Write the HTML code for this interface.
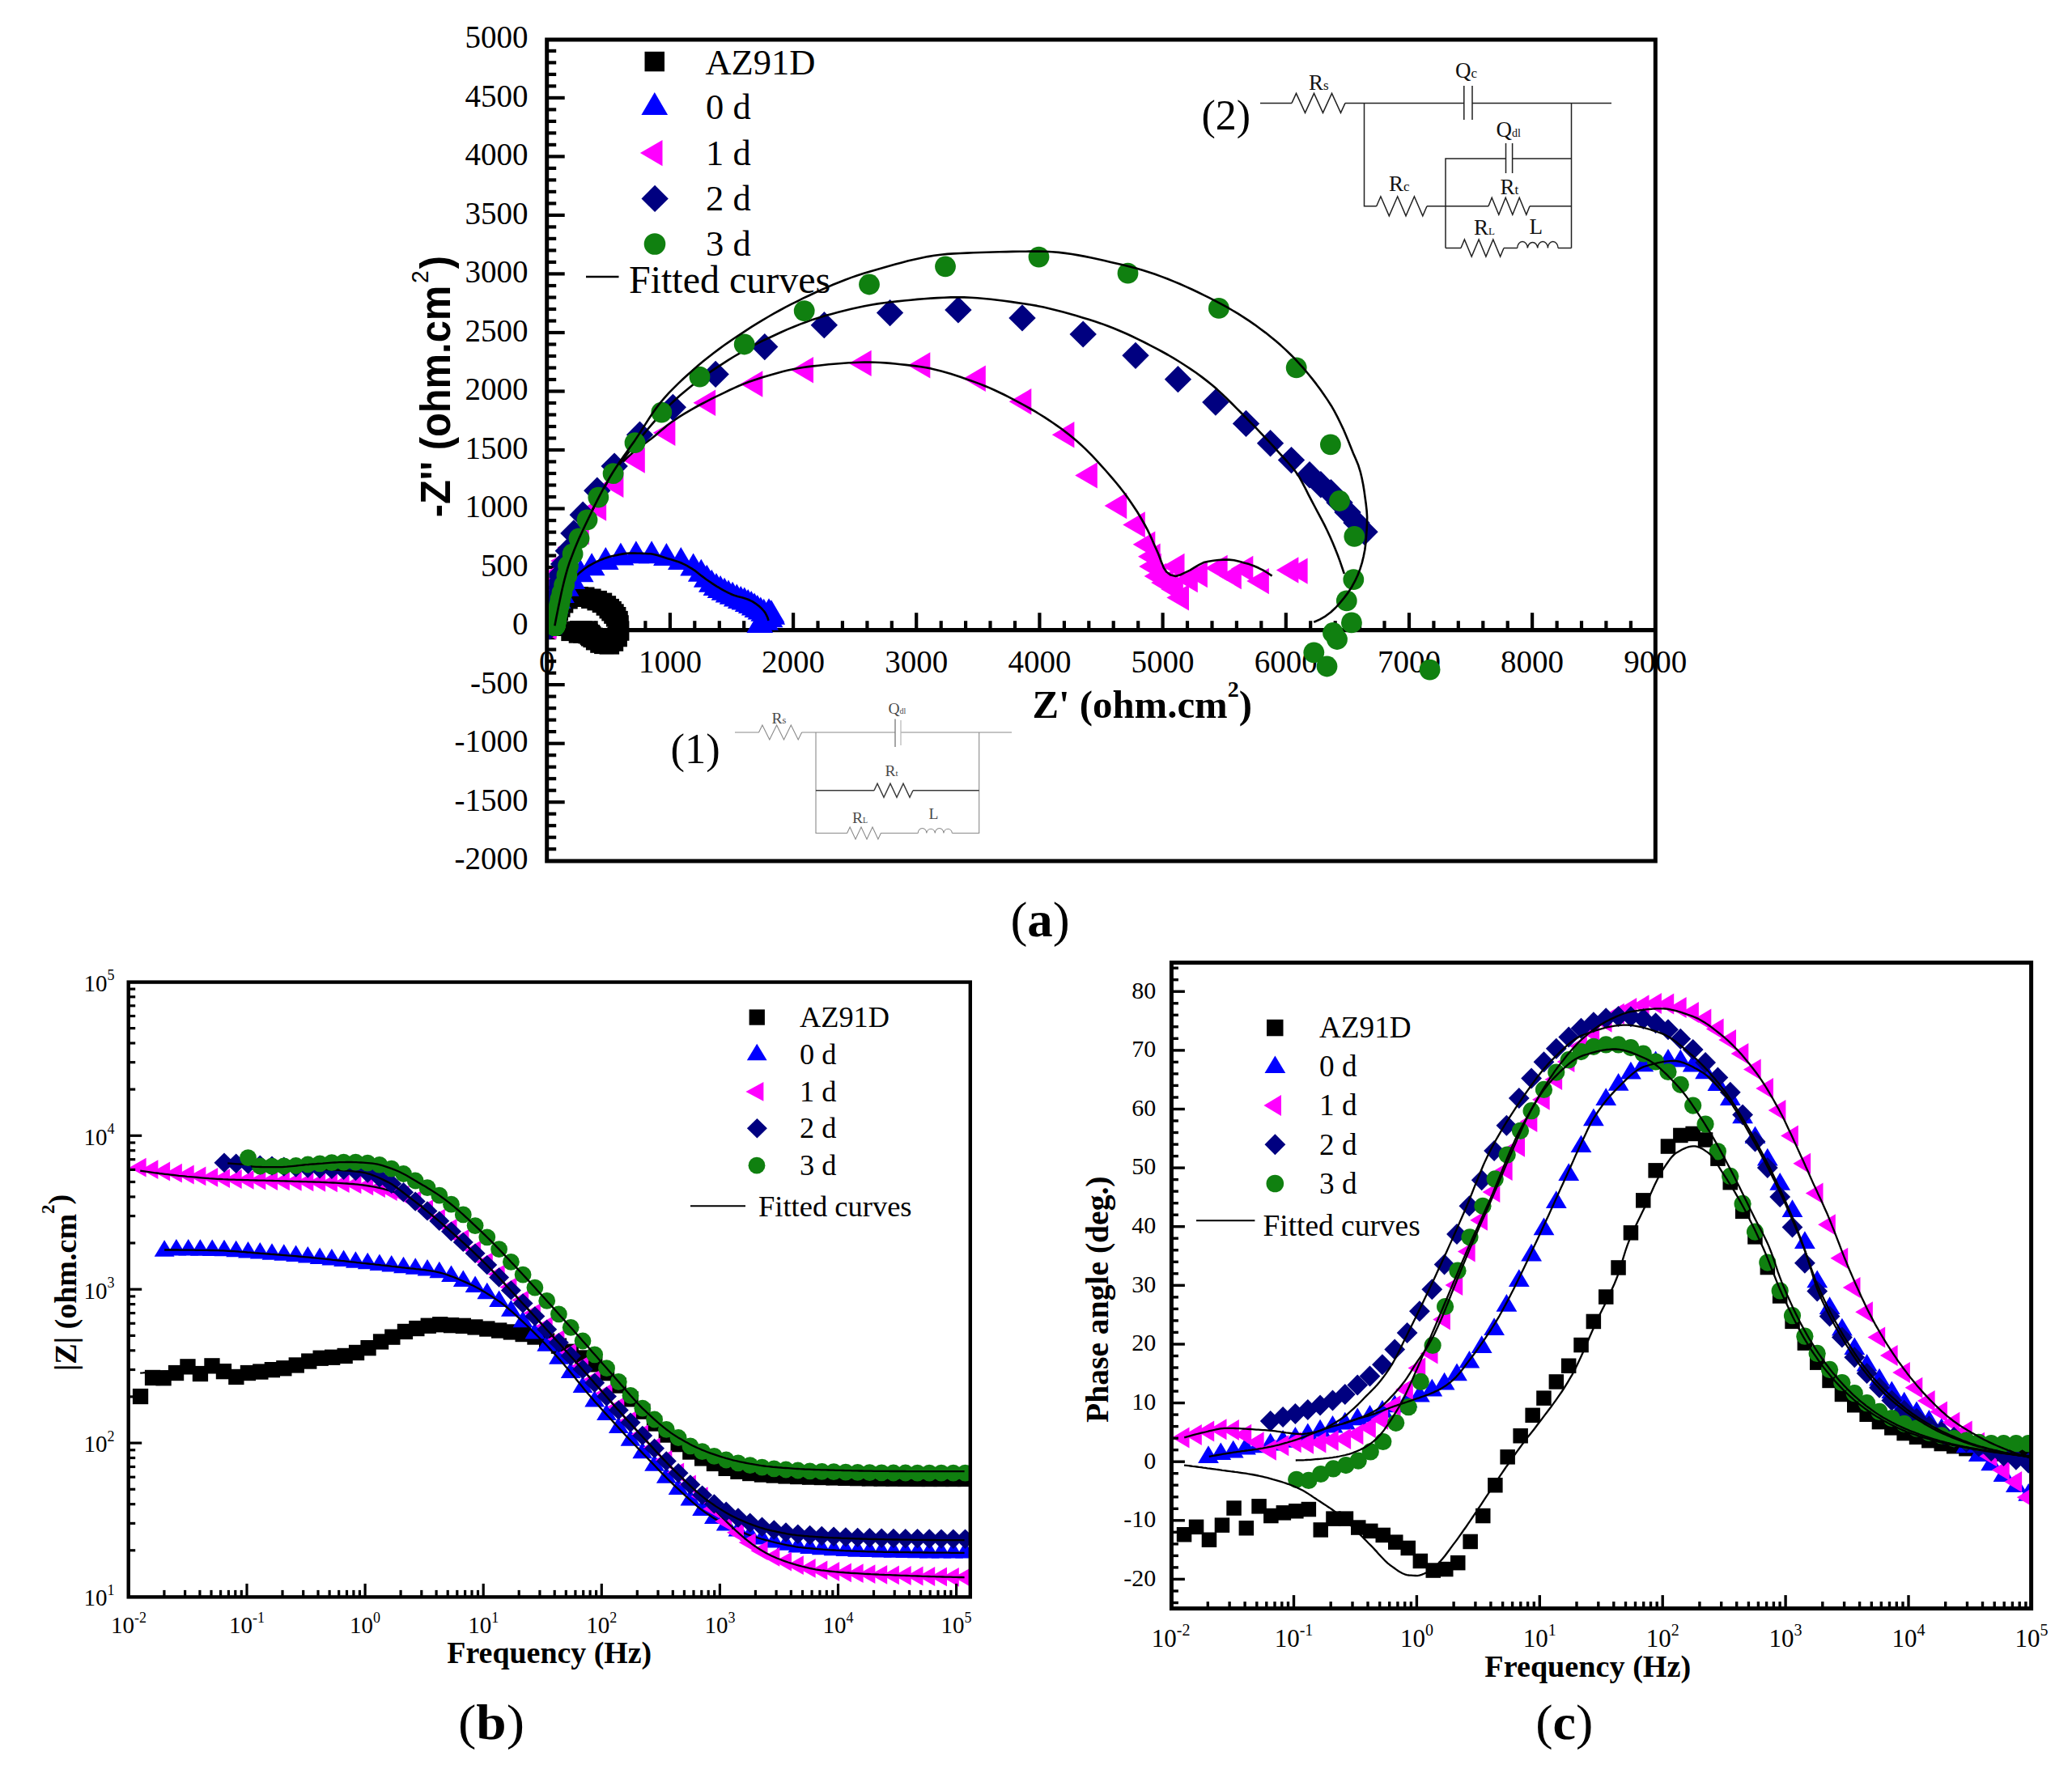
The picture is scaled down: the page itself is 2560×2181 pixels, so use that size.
<!DOCTYPE html><html><head><meta charset="utf-8"><title>EIS figure</title>
<style>html,body{margin:0;padding:0;background:#fff}svg{display:block}</style></head><body>
<svg width="2560" height="2181" viewBox="0 0 2560 2181">
<rect width="2560" height="2181" fill="#fff"/>
<g id="plotA">
<rect x="675.7" y="49" width="1369.6" height="1015" fill="none" stroke="#000" stroke-width="5"/>
<line x1="675.7" y1="778.7" x2="2045.3" y2="778.7" stroke="#000" stroke-width="5.2" />
<line x1="675.7" y1="1049.2" x2="687.2" y2="1049.2" stroke="#000" stroke-width="4.2" />
<line x1="675.7" y1="1034.7" x2="687.2" y2="1034.7" stroke="#000" stroke-width="4.2" />
<line x1="675.7" y1="1020.2" x2="687.2" y2="1020.2" stroke="#000" stroke-width="4.2" />
<line x1="675.7" y1="1005.7" x2="687.2" y2="1005.7" stroke="#000" stroke-width="4.2" />
<line x1="675.7" y1="991.2" x2="697.7" y2="991.2" stroke="#000" stroke-width="4.2" />
<line x1="675.7" y1="976.7" x2="687.2" y2="976.7" stroke="#000" stroke-width="4.2" />
<line x1="675.7" y1="962.2" x2="687.2" y2="962.2" stroke="#000" stroke-width="4.2" />
<line x1="675.7" y1="947.7" x2="687.2" y2="947.7" stroke="#000" stroke-width="4.2" />
<line x1="675.7" y1="933.2" x2="687.2" y2="933.2" stroke="#000" stroke-width="4.2" />
<line x1="675.7" y1="918.7" x2="697.7" y2="918.7" stroke="#000" stroke-width="4.2" />
<line x1="675.7" y1="904.1" x2="687.2" y2="904.1" stroke="#000" stroke-width="4.2" />
<line x1="675.7" y1="889.6" x2="687.2" y2="889.6" stroke="#000" stroke-width="4.2" />
<line x1="675.7" y1="875.1" x2="687.2" y2="875.1" stroke="#000" stroke-width="4.2" />
<line x1="675.7" y1="860.6" x2="687.2" y2="860.6" stroke="#000" stroke-width="4.2" />
<line x1="675.7" y1="846.1" x2="697.7" y2="846.1" stroke="#000" stroke-width="4.2" />
<line x1="675.7" y1="831.6" x2="687.2" y2="831.6" stroke="#000" stroke-width="4.2" />
<line x1="675.7" y1="817.1" x2="687.2" y2="817.1" stroke="#000" stroke-width="4.2" />
<line x1="675.7" y1="802.6" x2="687.2" y2="802.6" stroke="#000" stroke-width="4.2" />
<line x1="675.7" y1="788.1" x2="687.2" y2="788.1" stroke="#000" stroke-width="4.2" />
<line x1="675.7" y1="773.6" x2="697.7" y2="773.6" stroke="#000" stroke-width="4.2" />
<line x1="675.7" y1="759.1" x2="687.2" y2="759.1" stroke="#000" stroke-width="4.2" />
<line x1="675.7" y1="744.6" x2="687.2" y2="744.6" stroke="#000" stroke-width="4.2" />
<line x1="675.7" y1="730.1" x2="687.2" y2="730.1" stroke="#000" stroke-width="4.2" />
<line x1="675.7" y1="715.6" x2="687.2" y2="715.6" stroke="#000" stroke-width="4.2" />
<line x1="675.7" y1="701.1" x2="697.7" y2="701.1" stroke="#000" stroke-width="4.2" />
<line x1="675.7" y1="686.6" x2="687.2" y2="686.6" stroke="#000" stroke-width="4.2" />
<line x1="675.7" y1="672.1" x2="687.2" y2="672.1" stroke="#000" stroke-width="4.2" />
<line x1="675.7" y1="657.6" x2="687.2" y2="657.6" stroke="#000" stroke-width="4.2" />
<line x1="675.7" y1="643.1" x2="687.2" y2="643.1" stroke="#000" stroke-width="4.2" />
<line x1="675.7" y1="628.5" x2="697.7" y2="628.5" stroke="#000" stroke-width="4.2" />
<line x1="675.7" y1="614" x2="687.2" y2="614" stroke="#000" stroke-width="4.2" />
<line x1="675.7" y1="599.5" x2="687.2" y2="599.5" stroke="#000" stroke-width="4.2" />
<line x1="675.7" y1="585" x2="687.2" y2="585" stroke="#000" stroke-width="4.2" />
<line x1="675.7" y1="570.5" x2="687.2" y2="570.5" stroke="#000" stroke-width="4.2" />
<line x1="675.7" y1="556" x2="697.7" y2="556" stroke="#000" stroke-width="4.2" />
<line x1="675.7" y1="541.5" x2="687.2" y2="541.5" stroke="#000" stroke-width="4.2" />
<line x1="675.7" y1="527" x2="687.2" y2="527" stroke="#000" stroke-width="4.2" />
<line x1="675.7" y1="512.5" x2="687.2" y2="512.5" stroke="#000" stroke-width="4.2" />
<line x1="675.7" y1="498" x2="687.2" y2="498" stroke="#000" stroke-width="4.2" />
<line x1="675.7" y1="483.5" x2="697.7" y2="483.5" stroke="#000" stroke-width="4.2" />
<line x1="675.7" y1="469" x2="687.2" y2="469" stroke="#000" stroke-width="4.2" />
<line x1="675.7" y1="454.5" x2="687.2" y2="454.5" stroke="#000" stroke-width="4.2" />
<line x1="675.7" y1="440" x2="687.2" y2="440" stroke="#000" stroke-width="4.2" />
<line x1="675.7" y1="425.5" x2="687.2" y2="425.5" stroke="#000" stroke-width="4.2" />
<line x1="675.7" y1="411" x2="697.7" y2="411" stroke="#000" stroke-width="4.2" />
<line x1="675.7" y1="396.5" x2="687.2" y2="396.5" stroke="#000" stroke-width="4.2" />
<line x1="675.7" y1="382" x2="687.2" y2="382" stroke="#000" stroke-width="4.2" />
<line x1="675.7" y1="367.5" x2="687.2" y2="367.5" stroke="#000" stroke-width="4.2" />
<line x1="675.7" y1="353" x2="687.2" y2="353" stroke="#000" stroke-width="4.2" />
<line x1="675.7" y1="338.4" x2="697.7" y2="338.4" stroke="#000" stroke-width="4.2" />
<line x1="675.7" y1="323.9" x2="687.2" y2="323.9" stroke="#000" stroke-width="4.2" />
<line x1="675.7" y1="309.4" x2="687.2" y2="309.4" stroke="#000" stroke-width="4.2" />
<line x1="675.7" y1="294.9" x2="687.2" y2="294.9" stroke="#000" stroke-width="4.2" />
<line x1="675.7" y1="280.4" x2="687.2" y2="280.4" stroke="#000" stroke-width="4.2" />
<line x1="675.7" y1="265.9" x2="697.7" y2="265.9" stroke="#000" stroke-width="4.2" />
<line x1="675.7" y1="251.4" x2="687.2" y2="251.4" stroke="#000" stroke-width="4.2" />
<line x1="675.7" y1="236.9" x2="687.2" y2="236.9" stroke="#000" stroke-width="4.2" />
<line x1="675.7" y1="222.4" x2="687.2" y2="222.4" stroke="#000" stroke-width="4.2" />
<line x1="675.7" y1="207.9" x2="687.2" y2="207.9" stroke="#000" stroke-width="4.2" />
<line x1="675.7" y1="193.4" x2="697.7" y2="193.4" stroke="#000" stroke-width="4.2" />
<line x1="675.7" y1="178.9" x2="687.2" y2="178.9" stroke="#000" stroke-width="4.2" />
<line x1="675.7" y1="164.4" x2="687.2" y2="164.4" stroke="#000" stroke-width="4.2" />
<line x1="675.7" y1="149.9" x2="687.2" y2="149.9" stroke="#000" stroke-width="4.2" />
<line x1="675.7" y1="135.4" x2="687.2" y2="135.4" stroke="#000" stroke-width="4.2" />
<line x1="675.7" y1="120.9" x2="697.7" y2="120.9" stroke="#000" stroke-width="4.2" />
<line x1="675.7" y1="106.4" x2="687.2" y2="106.4" stroke="#000" stroke-width="4.2" />
<line x1="675.7" y1="91.9" x2="687.2" y2="91.9" stroke="#000" stroke-width="4.2" />
<line x1="675.7" y1="77.4" x2="687.2" y2="77.4" stroke="#000" stroke-width="4.2" />
<line x1="675.7" y1="62.9" x2="687.2" y2="62.9" stroke="#000" stroke-width="4.2" />
<line x1="706.1" y1="778.7" x2="706.1" y2="767.2" stroke="#000" stroke-width="4.2" />
<line x1="736.6" y1="778.7" x2="736.6" y2="767.2" stroke="#000" stroke-width="4.2" />
<line x1="767" y1="778.7" x2="767" y2="767.2" stroke="#000" stroke-width="4.2" />
<line x1="797.4" y1="778.7" x2="797.4" y2="767.2" stroke="#000" stroke-width="4.2" />
<line x1="827.9" y1="778.7" x2="827.9" y2="757.2" stroke="#000" stroke-width="4.2" />
<line x1="858.3" y1="778.7" x2="858.3" y2="767.2" stroke="#000" stroke-width="4.2" />
<line x1="888.8" y1="778.7" x2="888.8" y2="767.2" stroke="#000" stroke-width="4.2" />
<line x1="919.2" y1="778.7" x2="919.2" y2="767.2" stroke="#000" stroke-width="4.2" />
<line x1="949.6" y1="778.7" x2="949.6" y2="767.2" stroke="#000" stroke-width="4.2" />
<line x1="980.1" y1="778.7" x2="980.1" y2="757.2" stroke="#000" stroke-width="4.2" />
<line x1="1010.5" y1="778.7" x2="1010.5" y2="767.2" stroke="#000" stroke-width="4.2" />
<line x1="1040.9" y1="778.7" x2="1040.9" y2="767.2" stroke="#000" stroke-width="4.2" />
<line x1="1071.4" y1="778.7" x2="1071.4" y2="767.2" stroke="#000" stroke-width="4.2" />
<line x1="1101.8" y1="778.7" x2="1101.8" y2="767.2" stroke="#000" stroke-width="4.2" />
<line x1="1132.2" y1="778.7" x2="1132.2" y2="757.2" stroke="#000" stroke-width="4.2" />
<line x1="1162.7" y1="778.7" x2="1162.7" y2="767.2" stroke="#000" stroke-width="4.2" />
<line x1="1193.1" y1="778.7" x2="1193.1" y2="767.2" stroke="#000" stroke-width="4.2" />
<line x1="1223.5" y1="778.7" x2="1223.5" y2="767.2" stroke="#000" stroke-width="4.2" />
<line x1="1254" y1="778.7" x2="1254" y2="767.2" stroke="#000" stroke-width="4.2" />
<line x1="1284.4" y1="778.7" x2="1284.4" y2="757.2" stroke="#000" stroke-width="4.2" />
<line x1="1314.9" y1="778.7" x2="1314.9" y2="767.2" stroke="#000" stroke-width="4.2" />
<line x1="1345.3" y1="778.7" x2="1345.3" y2="767.2" stroke="#000" stroke-width="4.2" />
<line x1="1375.7" y1="778.7" x2="1375.7" y2="767.2" stroke="#000" stroke-width="4.2" />
<line x1="1406.2" y1="778.7" x2="1406.2" y2="767.2" stroke="#000" stroke-width="4.2" />
<line x1="1436.6" y1="778.7" x2="1436.6" y2="757.2" stroke="#000" stroke-width="4.2" />
<line x1="1467" y1="778.7" x2="1467" y2="767.2" stroke="#000" stroke-width="4.2" />
<line x1="1497.5" y1="778.7" x2="1497.5" y2="767.2" stroke="#000" stroke-width="4.2" />
<line x1="1527.9" y1="778.7" x2="1527.9" y2="767.2" stroke="#000" stroke-width="4.2" />
<line x1="1558.3" y1="778.7" x2="1558.3" y2="767.2" stroke="#000" stroke-width="4.2" />
<line x1="1588.8" y1="778.7" x2="1588.8" y2="757.2" stroke="#000" stroke-width="4.2" />
<line x1="1619.2" y1="778.7" x2="1619.2" y2="767.2" stroke="#000" stroke-width="4.2" />
<line x1="1649.7" y1="778.7" x2="1649.7" y2="767.2" stroke="#000" stroke-width="4.2" />
<line x1="1680.1" y1="778.7" x2="1680.1" y2="767.2" stroke="#000" stroke-width="4.2" />
<line x1="1710.5" y1="778.7" x2="1710.5" y2="767.2" stroke="#000" stroke-width="4.2" />
<line x1="1741" y1="778.7" x2="1741" y2="757.2" stroke="#000" stroke-width="4.2" />
<line x1="1771.4" y1="778.7" x2="1771.4" y2="767.2" stroke="#000" stroke-width="4.2" />
<line x1="1801.8" y1="778.7" x2="1801.8" y2="767.2" stroke="#000" stroke-width="4.2" />
<line x1="1832.3" y1="778.7" x2="1832.3" y2="767.2" stroke="#000" stroke-width="4.2" />
<line x1="1862.7" y1="778.7" x2="1862.7" y2="767.2" stroke="#000" stroke-width="4.2" />
<line x1="1893.1" y1="778.7" x2="1893.1" y2="757.2" stroke="#000" stroke-width="4.2" />
<line x1="1923.6" y1="778.7" x2="1923.6" y2="767.2" stroke="#000" stroke-width="4.2" />
<line x1="1954" y1="778.7" x2="1954" y2="767.2" stroke="#000" stroke-width="4.2" />
<line x1="1984.4" y1="778.7" x2="1984.4" y2="767.2" stroke="#000" stroke-width="4.2" />
<line x1="2014.9" y1="778.7" x2="2014.9" y2="767.2" stroke="#000" stroke-width="4.2" />
<text x="652.5" y="1074.4" font-size="39" text-anchor="end" font-weight="normal" font-family="Liberation Serif, serif" >-2000</text>
<text x="652.5" y="1001.9" font-size="39" text-anchor="end" font-weight="normal" font-family="Liberation Serif, serif" >-1500</text>
<text x="652.5" y="929.4" font-size="39" text-anchor="end" font-weight="normal" font-family="Liberation Serif, serif" >-1000</text>
<text x="652.5" y="856.8" font-size="39" text-anchor="end" font-weight="normal" font-family="Liberation Serif, serif" >-500</text>
<text x="652.5" y="784.3" font-size="39" text-anchor="end" font-weight="normal" font-family="Liberation Serif, serif" >0</text>
<text x="652.5" y="711.8" font-size="39" text-anchor="end" font-weight="normal" font-family="Liberation Serif, serif" >500</text>
<text x="652.5" y="639.2" font-size="39" text-anchor="end" font-weight="normal" font-family="Liberation Serif, serif" >1000</text>
<text x="652.5" y="566.7" font-size="39" text-anchor="end" font-weight="normal" font-family="Liberation Serif, serif" >1500</text>
<text x="652.5" y="494.2" font-size="39" text-anchor="end" font-weight="normal" font-family="Liberation Serif, serif" >2000</text>
<text x="652.5" y="421.7" font-size="39" text-anchor="end" font-weight="normal" font-family="Liberation Serif, serif" >2500</text>
<text x="652.5" y="349.1" font-size="39" text-anchor="end" font-weight="normal" font-family="Liberation Serif, serif" >3000</text>
<text x="652.5" y="276.6" font-size="39" text-anchor="end" font-weight="normal" font-family="Liberation Serif, serif" >3500</text>
<text x="652.5" y="204.1" font-size="39" text-anchor="end" font-weight="normal" font-family="Liberation Serif, serif" >4000</text>
<text x="652.5" y="131.6" font-size="39" text-anchor="end" font-weight="normal" font-family="Liberation Serif, serif" >4500</text>
<text x="652.5" y="59" font-size="39" text-anchor="end" font-weight="normal" font-family="Liberation Serif, serif" >5000</text>
<text x="675.7" y="831.2" font-size="39" text-anchor="middle" font-weight="normal" font-family="Liberation Serif, serif" >0</text>
<text x="827.9" y="831.2" font-size="39" text-anchor="middle" font-weight="normal" font-family="Liberation Serif, serif" >1000</text>
<text x="980.1" y="831.2" font-size="39" text-anchor="middle" font-weight="normal" font-family="Liberation Serif, serif" >2000</text>
<text x="1132.2" y="831.2" font-size="39" text-anchor="middle" font-weight="normal" font-family="Liberation Serif, serif" >3000</text>
<text x="1284.4" y="831.2" font-size="39" text-anchor="middle" font-weight="normal" font-family="Liberation Serif, serif" >4000</text>
<text x="1436.6" y="831.2" font-size="39" text-anchor="middle" font-weight="normal" font-family="Liberation Serif, serif" >5000</text>
<text x="1588.8" y="831.2" font-size="39" text-anchor="middle" font-weight="normal" font-family="Liberation Serif, serif" >6000</text>
<text x="1741" y="831.2" font-size="39" text-anchor="middle" font-weight="normal" font-family="Liberation Serif, serif" >7000</text>
<text x="1893.1" y="831.2" font-size="39" text-anchor="middle" font-weight="normal" font-family="Liberation Serif, serif" >8000</text>
<text x="2045.3" y="831.2" font-size="39" text-anchor="middle" font-weight="normal" font-family="Liberation Serif, serif" >9000</text>
<g transform="translate(555.6,639.3) rotate(-90) scale(0.94,1)"><text x="0" y="0" font-size="52" font-weight="bold" font-family="Liberation Sans, sans-serif">-Z'' (ohm.cm<tspan font-size="30" font-weight="normal" dx="3" dy="-27">2</tspan><tspan dy="27" dx="2">)</tspan></text></g>
<text x="1275.5" y="887.4" font-size="48.8" font-weight="bold" font-family="Liberation Serif, serif">Z' (ohm.cm<tspan font-size="28" dy="-26">2</tspan><tspan dy="26">)</tspan></text>
<path d="M908 905L937.5 905M937.5 905L941.9 896L950.8 914L959.6 896L968.5 914L977.3 896L986.2 914L990.6 905M990.6 905L1106 905M1113 905L1250 905M1008 905L1008 1029.5L1046.6 1029.5M1046.6 1029.5L1050.1 1022L1057 1037L1064 1022L1071 1037L1078 1022L1084.9 1037L1088.4 1029.5M1088.4 1029.5L1134.2 1029.5M1134.2 1029.5A5.3 6 0 0 1 1144.8 1029.5A5.3 6 0 0 1 1155.3 1029.5A5.3 6 0 0 1 1165.9 1029.5A5.3 6 0 0 1 1176.4 1029.5M1176.4 1029.5L1209.7 1029.5L1209.7 905" fill="none" stroke="#8a8a8a" stroke-width="1.1"/>
<path d="M1106 888.6L1106 923" fill="none" stroke="#777" stroke-width="1.3"/>
<path d="M1113 890L1113 921" fill="none" stroke="#bbb" stroke-width="1.3"/>
<path d="M1008 976.7L1080 976.7M1080 976.7L1084 968.2L1092 985.2L1100 968.2L1108 985.2L1116 968.2L1124 985.2L1128 976.7M1128 976.7L1209.7 976.7" fill="none" stroke="#3a3a3a" stroke-width="1.5"/>
<text x="828.5" y="942.9" font-size="52.5" text-anchor="start" font-weight="normal" font-family="Liberation Serif, serif" >(1)</text>
<text x="953.5" y="893.9" font-size="19.5" fill="#4a4a4a" font-family="Liberation Serif, serif">R<tspan font-size="12.5">s</tspan></text>
<text x="1097.5" y="882" font-size="19.5" fill="#4a4a4a" font-family="Liberation Serif, serif">Q<tspan font-size="10">dl</tspan></text>
<text x="1093.5" y="959" font-size="19.5" fill="#4a4a4a" font-family="Liberation Serif, serif">R<tspan font-size="11">t</tspan></text>
<text x="1053" y="1016.5" font-size="19.5" fill="#4a4a4a" font-family="Liberation Serif, serif">R<tspan font-size="10">L</tspan></text>
<text x="1147.5" y="1012" font-size="19.5" fill="#4a4a4a" font-family="Liberation Serif, serif">L<tspan font-size="12.5"></tspan></text>
<path d="M1557 127.4L1596 127.4M1596 127.4L1601.5 115.4L1612.5 139.4L1623.5 115.4L1634.5 139.4L1645.5 115.4L1656.5 139.4L1662 127.4M1662 127.4L1808.8 127.4M1819 127.4L1991 127.4M1808.8 106L1808.8 148M1819 106L1819 148M1685.5 127.4L1685.5 254.8L1700.7 254.8M1700.7 254.8L1705.9 242.8L1716.3 266.8L1726.7 242.8L1737 266.8L1747.4 242.8L1757.8 266.8L1763 254.8M1763 254.8L1839 254.8M1839 254.8L1843.2 244.3L1851.8 265.3L1860.2 244.3L1868.8 265.3L1877.2 244.3L1885.8 265.3L1890 254.8M1890 254.8L1941.5 254.8M1941.5 127.4L1941.5 306.5M1786 306.5L1786 196L1860.5 196M1868.6 196L1941.5 196M1860.5 177L1860.5 214M1868.6 177L1868.6 214M1786 306.5L1805 306.5M1805 306.5L1809.4 296L1818.2 317L1827.1 296L1835.9 317L1844.8 296L1853.6 317L1858 306.5M1858 306.5L1874.7 306.5M1874.7 306.5A6.3 8 0 0 1 1887.3 306.5A6.3 8 0 0 1 1899.8 306.5A6.3 8 0 0 1 1912.4 306.5A6.3 8 0 0 1 1925 306.5M1925 306.5L1941.5 306.5" fill="none" stroke="#222" stroke-width="1.5" stroke-linejoin="miter"/>
<text x="1484.5" y="159.5" font-size="52" text-anchor="start" font-weight="normal" font-family="Liberation Serif, serif" >(2)</text>
<text x="1617" y="110.5" font-size="27" fill="#111" font-family="Liberation Serif, serif">R<tspan font-size="17">s</tspan></text>
<text x="1798" y="96" font-size="27" fill="#111" font-family="Liberation Serif, serif">Q<tspan font-size="17">c</tspan></text>
<text x="1848.5" y="168.6" font-size="27" fill="#111" font-family="Liberation Serif, serif">Q<tspan font-size="14">dl</tspan></text>
<text x="1716" y="235.5" font-size="27" fill="#111" font-family="Liberation Serif, serif">R<tspan font-size="17">c</tspan></text>
<text x="1853.5" y="239.6" font-size="27" fill="#111" font-family="Liberation Serif, serif">R<tspan font-size="17">t</tspan></text>
<text x="1821" y="290" font-size="27" fill="#111" font-family="Liberation Serif, serif">R<tspan font-size="13">L</tspan></text>
<text x="1889.5" y="289" font-size="27" fill="#111" font-family="Liberation Serif, serif">L<tspan font-size="17"></tspan></text>
<clipPath id="clipA"><rect x="678.2" y="49" width="1364.6" height="1015"/></clipPath>
<g clip-path="url(#clipA)">
<rect x="672.3" y="761.2" width="24.5" height="24.5" fill="#000000"/>
<rect x="672.3" y="761.2" width="24.5" height="24.5" fill="#000000"/>
<rect x="672.3" y="761.2" width="24.5" height="24.5" fill="#000000"/>
<rect x="672.3" y="761.2" width="24.5" height="24.5" fill="#000000"/>
<rect x="672.3" y="761.1" width="24.5" height="24.5" fill="#000000"/>
<rect x="672.3" y="761.1" width="24.5" height="24.5" fill="#000000"/>
<rect x="672.3" y="761" width="24.5" height="24.5" fill="#000000"/>
<rect x="672.4" y="761" width="24.5" height="24.5" fill="#000000"/>
<rect x="672.4" y="760.9" width="24.5" height="24.5" fill="#000000"/>
<rect x="672.4" y="760.8" width="24.5" height="24.5" fill="#000000"/>
<rect x="672.4" y="760.7" width="24.5" height="24.5" fill="#000000"/>
<rect x="672.5" y="760.6" width="24.5" height="24.5" fill="#000000"/>
<rect x="672.5" y="760.5" width="24.5" height="24.5" fill="#000000"/>
<rect x="672.5" y="760.3" width="24.5" height="24.5" fill="#000000"/>
<rect x="672.6" y="760.1" width="24.5" height="24.5" fill="#000000"/>
<rect x="672.6" y="759.9" width="24.5" height="24.5" fill="#000000"/>
<rect x="672.6" y="759.6" width="24.5" height="24.5" fill="#000000"/>
<rect x="672.7" y="759.2" width="24.5" height="24.5" fill="#000000"/>
<rect x="672.7" y="758.7" width="24.5" height="24.5" fill="#000000"/>
<rect x="672.8" y="758.1" width="24.5" height="24.5" fill="#000000"/>
<rect x="673" y="757.3" width="24.5" height="24.5" fill="#000000"/>
<rect x="673.3" y="756.3" width="24.5" height="24.5" fill="#000000"/>
<rect x="673.6" y="755" width="24.5" height="24.5" fill="#000000"/>
<rect x="673.9" y="753.5" width="24.5" height="24.5" fill="#000000"/>
<rect x="674.5" y="751.7" width="24.5" height="24.5" fill="#000000"/>
<rect x="675.1" y="749.3" width="24.5" height="24.5" fill="#000000"/>
<rect x="676.1" y="746.1" width="24.5" height="24.5" fill="#000000"/>
<rect x="677.5" y="742.4" width="24.5" height="24.5" fill="#000000"/>
<rect x="680" y="738.2" width="24.5" height="24.5" fill="#000000"/>
<rect x="683.8" y="733" width="24.5" height="24.5" fill="#000000"/>
<rect x="689.2" y="728" width="24.5" height="24.5" fill="#000000"/>
<rect x="695.6" y="725.4" width="24.5" height="24.5" fill="#000000"/>
<rect x="702.3" y="725" width="24.5" height="24.5" fill="#000000"/>
<rect x="710" y="725.5" width="24.5" height="24.5" fill="#000000"/>
<rect x="718.1" y="727.5" width="24.5" height="24.5" fill="#000000"/>
<rect x="725.4" y="729.9" width="24.5" height="24.5" fill="#000000"/>
<rect x="731.7" y="732.6" width="24.5" height="24.5" fill="#000000"/>
<rect x="736.6" y="736.2" width="24.5" height="24.5" fill="#000000"/>
<rect x="740.5" y="739.9" width="24.5" height="24.5" fill="#000000"/>
<rect x="743.3" y="742.9" width="24.5" height="24.5" fill="#000000"/>
<rect x="746.2" y="746.3" width="24.5" height="24.5" fill="#000000"/>
<rect x="748.9" y="750" width="24.5" height="24.5" fill="#000000"/>
<rect x="751.3" y="754.9" width="24.5" height="24.5" fill="#000000"/>
<rect x="752.3" y="760.2" width="24.5" height="24.5" fill="#000000"/>
<rect x="752.9" y="767.3" width="24.5" height="24.5" fill="#000000"/>
<rect x="750.4" y="774.8" width="24.5" height="24.5" fill="#000000"/>
<rect x="745.7" y="780.3" width="24.5" height="24.5" fill="#000000"/>
<rect x="740.6" y="784.1" width="24.5" height="24.5" fill="#000000"/>
<rect x="734.1" y="783.6" width="24.5" height="24.5" fill="#000000"/>
<rect x="729.2" y="782.3" width="24.5" height="24.5" fill="#000000"/>
<rect x="723.9" y="778.9" width="24.5" height="24.5" fill="#000000"/>
<rect x="720.4" y="775.6" width="24.5" height="24.5" fill="#000000"/>
<rect x="718" y="774" width="24.5" height="24.5" fill="#000000"/>
<rect x="717" y="772.7" width="24.5" height="24.5" fill="#000000"/>
<rect x="716.5" y="771.9" width="24.5" height="24.5" fill="#000000"/>
<rect x="714.3" y="770.9" width="24.5" height="24.5" fill="#000000"/>
<rect x="711.6" y="769.2" width="24.5" height="24.5" fill="#000000"/>
<rect x="709.4" y="768.8" width="24.5" height="24.5" fill="#000000"/>
<rect x="708.1" y="770.1" width="24.5" height="24.5" fill="#000000"/>
<rect x="707.2" y="767.3" width="24.5" height="24.5" fill="#000000"/>
<rect x="706.4" y="767.4" width="24.5" height="24.5" fill="#000000"/>
<rect x="704" y="767.3" width="24.5" height="24.5" fill="#000000"/>
<rect x="707.3" y="768.1" width="24.5" height="24.5" fill="#000000"/>
<rect x="711.3" y="767.4" width="24.5" height="24.5" fill="#000000"/>
<rect x="705.5" y="769.4" width="24.5" height="24.5" fill="#000000"/>
<rect x="710.7" y="767.6" width="24.5" height="24.5" fill="#000000"/>
<rect x="706.1" y="769.1" width="24.5" height="24.5" fill="#000000"/>
<rect x="702.7" y="770.2" width="24.5" height="24.5" fill="#000000"/>
<rect x="703.2" y="768.8" width="24.5" height="24.5" fill="#000000"/>
<rect x="693.3" y="767.6" width="24.5" height="24.5" fill="#000000"/>
<path d="M678.6 755.2L695 783.2L662.3 783.2Z" fill="#0000ff"/>
<path d="M678.6 755.2L695 783.2L662.3 783.2Z" fill="#0000ff"/>
<path d="M678.6 755.1L695 783.1L662.3 783.1Z" fill="#0000ff"/>
<path d="M678.6 755.1L695 783.1L662.3 783.1Z" fill="#0000ff"/>
<path d="M678.7 755L695 783L662.3 783Z" fill="#0000ff"/>
<path d="M678.7 754.9L695 782.9L662.3 782.9Z" fill="#0000ff"/>
<path d="M678.7 754.8L695 782.8L662.3 782.8Z" fill="#0000ff"/>
<path d="M678.7 754.7L695 782.7L662.3 782.7Z" fill="#0000ff"/>
<path d="M678.7 754.7L695 782.7L662.3 782.7Z" fill="#0000ff"/>
<path d="M678.7 754.6L695 782.6L662.3 782.6Z" fill="#0000ff"/>
<path d="M678.7 754.5L695 782.5L662.3 782.5Z" fill="#0000ff"/>
<path d="M678.7 754.4L695.1 782.4L662.4 782.4Z" fill="#0000ff"/>
<path d="M678.7 754.3L695.1 782.3L662.4 782.3Z" fill="#0000ff"/>
<path d="M678.7 754.2L695.1 782.2L662.4 782.2Z" fill="#0000ff"/>
<path d="M678.8 754.1L695.1 782.1L662.4 782.1Z" fill="#0000ff"/>
<path d="M678.8 753.9L695.2 781.9L662.5 781.9Z" fill="#0000ff"/>
<path d="M678.9 753.7L695.2 781.7L662.5 781.7Z" fill="#0000ff"/>
<path d="M678.9 753.4L695.3 781.4L662.6 781.4Z" fill="#0000ff"/>
<path d="M679 753.1L695.3 781.1L662.6 781.1Z" fill="#0000ff"/>
<path d="M679 752.6L695.3 780.6L662.6 780.6Z" fill="#0000ff"/>
<path d="M679 752.1L695.3 780.1L662.6 780.1Z" fill="#0000ff"/>
<path d="M679 751.5L695.4 779.5L662.7 779.5Z" fill="#0000ff"/>
<path d="M679.2 750.8L695.5 778.8L662.8 778.8Z" fill="#0000ff"/>
<path d="M679.4 749.9L695.7 777.9L663 777.9Z" fill="#0000ff"/>
<path d="M679.7 748.7L696 776.7L663.3 776.7Z" fill="#0000ff"/>
<path d="M680 747.3L696.4 775.3L663.7 775.3Z" fill="#0000ff"/>
<path d="M680.4 745.6L696.8 773.6L664.1 773.6Z" fill="#0000ff"/>
<path d="M681 743.5L697.4 771.5L664.7 771.5Z" fill="#0000ff"/>
<path d="M681.8 741L698.1 769L665.4 769Z" fill="#0000ff"/>
<path d="M682.8 738L699.2 766L666.5 766Z" fill="#0000ff"/>
<path d="M684.3 734.3L700.7 762.3L668 762.3Z" fill="#0000ff"/>
<path d="M686.4 729.9L702.7 757.9L670 757.9Z" fill="#0000ff"/>
<path d="M689.2 724.1L705.5 752.1L672.8 752.1Z" fill="#0000ff"/>
<path d="M693.4 716.9L709.8 744.9L677.1 744.9Z" fill="#0000ff"/>
<path d="M699.2 708.8L715.5 736.8L682.8 736.8Z" fill="#0000ff"/>
<path d="M706.8 700.1L723.1 728.1L690.4 728.1Z" fill="#0000ff"/>
<path d="M717.2 691.3L733.6 719.3L700.9 719.3Z" fill="#0000ff"/>
<path d="M731.1 683.2L747.5 711.2L714.8 711.2Z" fill="#0000ff"/>
<path d="M748.3 675.9L764.6 703.9L731.9 703.9Z" fill="#0000ff"/>
<path d="M766.9 670.6L783.3 698.6L750.6 698.6Z" fill="#0000ff"/>
<path d="M785.9 668.2L802.3 696.2L769.6 696.2Z" fill="#0000ff"/>
<path d="M805.1 668.2L821.4 696.2L788.7 696.2Z" fill="#0000ff"/>
<path d="M823.4 671.1L839.8 699.1L807.1 699.1Z" fill="#0000ff"/>
<path d="M841.3 676.1L857.7 704.1L825 704.1Z" fill="#0000ff"/>
<path d="M856.6 683.5L873 711.5L840.3 711.5Z" fill="#0000ff"/>
<path d="M866.3 690.7L882.6 718.7L849.9 718.7Z" fill="#0000ff"/>
<path d="M873.3 697.7L889.6 725.7L856.9 725.7Z" fill="#0000ff"/>
<path d="M879.3 703.8L895.7 731.8L863 731.8Z" fill="#0000ff"/>
<path d="M885 708.1L901.3 736.1L868.6 736.1Z" fill="#0000ff"/>
<path d="M890.1 711.1L906.4 739.1L873.7 739.1Z" fill="#0000ff"/>
<path d="M895.1 713.8L911.4 741.8L878.7 741.8Z" fill="#0000ff"/>
<path d="M900 716.4L916.4 744.4L883.7 744.4Z" fill="#0000ff"/>
<path d="M905.1 718.8L921.4 746.8L888.7 746.8Z" fill="#0000ff"/>
<path d="M910.3 721.6L926.6 749.6L893.9 749.6Z" fill="#0000ff"/>
<path d="M915.3 724.1L931.6 752.1L898.9 752.1Z" fill="#0000ff"/>
<path d="M919.8 725.6L936.2 753.6L903.5 753.6Z" fill="#0000ff"/>
<path d="M924.2 728.1L940.5 756.1L907.8 756.1Z" fill="#0000ff"/>
<path d="M928.2 730.1L944.6 758.1L911.9 758.1Z" fill="#0000ff"/>
<path d="M932.1 732.5L948.5 760.5L915.8 760.5Z" fill="#0000ff"/>
<path d="M935.8 735L952.2 763L919.5 763Z" fill="#0000ff"/>
<path d="M939.8 737.5L956.2 765.5L923.5 765.5Z" fill="#0000ff"/>
<path d="M943.7 739.7L960.1 767.7L927.4 767.7Z" fill="#0000ff"/>
<path d="M950 739.3L966.4 767.3L933.6 767.3Z" fill="#0000ff"/>
<path d="M953 741.3L969.4 769.3L936.6 769.3Z" fill="#0000ff"/>
<path d="M953.8 743.8L970.1 771.8L937.4 771.8Z" fill="#0000ff"/>
<path d="M951 747.3L967.4 775.3L934.6 775.3Z" fill="#0000ff"/>
<path d="M945.5 750.8L961.9 778.8L929.1 778.8Z" fill="#0000ff"/>
<path d="M938.8 753.9L955.1 781.9L922.4 781.9Z" fill="#0000ff"/>
<path d="M679 773L679.8 769.9L680.7 766.8L681.7 763.8L682.7 760.8L683.7 757.8L684.8 754.8L686 751.8L687.2 748.8L688.5 745.9L689.9 743L691.3 740.2L692.8 737.4L694.4 734.6L696 731.9L697.8 729.2L699.6 726.5L701.5 723.9L703.4 721.3L705.4 718.8L707.5 716.4L709.6 714L711.8 711.8L714.1 709.6L716.4 707.5L718.9 705.4L721.4 703.4L724.1 701.5L726.8 699.7L729.5 698.1L732.2 696.6L735 695.1L737.9 693.7L740.8 692.4L743.8 691.2L746.8 690L749.9 689L752.9 688.1L756 687.3L759.1 686.6L762.2 685.9L765.3 685.2L768.5 684.6L771.7 684.1L774.8 683.8L778 683.6L781.2 683.6L784.4 683.6L787.6 683.7L790.8 683.8L794 683.9L797.2 684L800.4 684.2L803.5 684.3L806.6 684.7L809.7 685.4L812.8 686.2L815.9 687.2L818.9 688.2L822 689.3L825 690.2L828.1 691.1L831.2 692L834.3 692.9L837.3 693.9L840.2 695L843.2 696.3L846 697.7L848.9 699.2L851.7 700.8L854.4 702.4L857.1 704.1L859.7 705.9L862.2 707.9L864.7 709.9L867.2 711.9L869.7 713.8L872.3 715.7L874.9 717.5L877.5 719.3L880.2 721.1L882.9 722.9L885.6 724.6L888.3 726.2L891.1 727.8L893.8 729.3L896.7 730.9L899.5 732.3L902.4 733.7L905.3 735L908.3 736.1L911.3 737L914.4 737.8L917.5 738.6L920.6 739.5L923.6 740.5L926.5 741.8L929.4 743.2L932.1 744.9L934.8 746.7L937.3 748.6L939.7 750.7L942 753L944.2 755.5L945.9 758L947.3 760.8L948.6 763.8L949.5 766.9" fill="none" stroke="#000" stroke-width="2.6" stroke-linejoin="round"/>
<path d="M659.3 773.8L686.9 757.6L686.9 790Z" fill="#ff00ff"/>
<path d="M659.3 773.8L686.9 757.6L686.9 790Z" fill="#ff00ff"/>
<path d="M659.3 773.7L686.9 757.5L686.9 789.9Z" fill="#ff00ff"/>
<path d="M659.4 773.6L687 757.4L687 789.8Z" fill="#ff00ff"/>
<path d="M659.4 773.6L687 757.4L687 789.8Z" fill="#ff00ff"/>
<path d="M659.4 773.5L687 757.3L687 789.7Z" fill="#ff00ff"/>
<path d="M659.4 773.4L687 757.2L687 789.6Z" fill="#ff00ff"/>
<path d="M659.4 773.4L687 757.2L687 789.6Z" fill="#ff00ff"/>
<path d="M659.4 773.3L687 757.1L687 789.5Z" fill="#ff00ff"/>
<path d="M659.4 773.2L687 757L687 789.4Z" fill="#ff00ff"/>
<path d="M659.4 773.1L687 756.9L687 789.3Z" fill="#ff00ff"/>
<path d="M659.4 773L687 756.8L687 789.2Z" fill="#ff00ff"/>
<path d="M659.4 772.9L687 756.7L687 789.1Z" fill="#ff00ff"/>
<path d="M659.5 772.8L687.1 756.6L687.1 789Z" fill="#ff00ff"/>
<path d="M659.5 772.6L687.1 756.4L687.1 788.8Z" fill="#ff00ff"/>
<path d="M659.5 772.4L687.1 756.2L687.1 788.6Z" fill="#ff00ff"/>
<path d="M659.6 772.1L687.2 755.9L687.2 788.3Z" fill="#ff00ff"/>
<path d="M659.6 771.7L687.2 755.5L687.2 787.9Z" fill="#ff00ff"/>
<path d="M659.7 771.3L687.3 755.1L687.3 787.5Z" fill="#ff00ff"/>
<path d="M659.8 770.7L687.4 754.5L687.4 786.9Z" fill="#ff00ff"/>
<path d="M660 769.9L687.6 753.7L687.6 786.1Z" fill="#ff00ff"/>
<path d="M660.2 768.9L687.8 752.7L687.8 785.1Z" fill="#ff00ff"/>
<path d="M660.3 767.8L687.9 751.6L687.9 784Z" fill="#ff00ff"/>
<path d="M660.5 766.4L688.1 750.2L688.1 782.6Z" fill="#ff00ff"/>
<path d="M660.7 764.9L688.3 748.7L688.3 781.1Z" fill="#ff00ff"/>
<path d="M661 762.9L688.6 746.7L688.6 779.1Z" fill="#ff00ff"/>
<path d="M661.3 760.5L688.9 744.3L688.9 776.7Z" fill="#ff00ff"/>
<path d="M661.7 757.6L689.3 741.4L689.3 773.8Z" fill="#ff00ff"/>
<path d="M662.3 753.9L689.9 737.7L689.9 770.1Z" fill="#ff00ff"/>
<path d="M663.1 749.3L690.7 733.1L690.7 765.5Z" fill="#ff00ff"/>
<path d="M664 743.6L691.6 727.4L691.6 759.8Z" fill="#ff00ff"/>
<path d="M665.5 736.8L693.1 720.6L693.1 753Z" fill="#ff00ff"/>
<path d="M667.6 728.7L695.2 712.5L695.2 744.9Z" fill="#ff00ff"/>
<path d="M670.4 718.9L698 702.7L698 735.1Z" fill="#ff00ff"/>
<path d="M674.4 707.1L702 690.9L702 723.3Z" fill="#ff00ff"/>
<path d="M680.2 693L707.8 676.8L707.8 709.2Z" fill="#ff00ff"/>
<path d="M688.5 676.4L716.1 660.2L716.1 692.6Z" fill="#ff00ff"/>
<path d="M700.1 657L727.7 640.8L727.7 673.2Z" fill="#ff00ff"/>
<path d="M721.5 627.5L749.1 611.3L749.1 643.7Z" fill="#ff00ff"/>
<path d="M742.8 598.7L770.4 582.5L770.4 614.9Z" fill="#ff00ff"/>
<path d="M769.2 568.6L796.8 552.4L796.8 584.8Z" fill="#ff00ff"/>
<path d="M806.8 534.7L834.4 518.5L834.4 550.9Z" fill="#ff00ff"/>
<path d="M856.5 497.8L884.1 481.6L884.1 514Z" fill="#ff00ff"/>
<path d="M914.7 474.5L942.3 458.3L942.3 490.7Z" fill="#ff00ff"/>
<path d="M977.4 457.2L1005 441L1005 473.4Z" fill="#ff00ff"/>
<path d="M1049 448.9L1076.6 432.7L1076.6 465.1Z" fill="#ff00ff"/>
<path d="M1121.7 451.4L1149.3 435.2L1149.3 467.6Z" fill="#ff00ff"/>
<path d="M1190.2 467.7L1217.8 451.5L1217.8 483.9Z" fill="#ff00ff"/>
<path d="M1246.7 496.3L1274.3 480.1L1274.3 512.5Z" fill="#ff00ff"/>
<path d="M1299.8 537.2L1327.4 521L1327.4 553.4Z" fill="#ff00ff"/>
<path d="M1328.2 587.4L1355.8 571.2L1355.8 603.6Z" fill="#ff00ff"/>
<path d="M1364.6 625L1392.2 608.8L1392.2 641.2Z" fill="#ff00ff"/>
<path d="M1387.2 648.4L1414.8 632.2L1414.8 664.6Z" fill="#ff00ff"/>
<path d="M1399.7 672.7L1427.3 656.5L1427.3 688.9Z" fill="#ff00ff"/>
<path d="M1406 687.8L1433.6 671.6L1433.6 704Z" fill="#ff00ff"/>
<path d="M1407.2 700L1434.8 683.8L1434.8 716.2Z" fill="#ff00ff"/>
<path d="M1413.6 712L1441.2 695.8L1441.2 728.2Z" fill="#ff00ff"/>
<path d="M1422.2 720L1449.8 703.8L1449.8 736.2Z" fill="#ff00ff"/>
<path d="M1428.2 723L1455.8 706.8L1455.8 739.2Z" fill="#ff00ff"/>
<path d="M1434.2 728L1461.8 711.8L1461.8 744.2Z" fill="#ff00ff"/>
<path d="M1441.4 738.4L1469 722.2L1469 754.6Z" fill="#ff00ff"/>
<path d="M1435.9 699.9L1463.5 683.7L1463.5 716.1Z" fill="#ff00ff"/>
<path d="M1452.2 716L1479.8 699.8L1479.8 732.2Z" fill="#ff00ff"/>
<path d="M1464.3 710L1491.9 693.8L1491.9 726.2Z" fill="#ff00ff"/>
<path d="M1489 701.9L1516.6 685.7L1516.6 718.1Z" fill="#ff00ff"/>
<path d="M1506.2 712L1533.8 695.8L1533.8 728.2Z" fill="#ff00ff"/>
<path d="M1520.7 702.9L1548.3 686.7L1548.3 719.1Z" fill="#ff00ff"/>
<path d="M1540.3 718.1L1567.9 701.9L1567.9 734.3Z" fill="#ff00ff"/>
<path d="M1576.8 704.5L1604.4 688.3L1604.4 720.7Z" fill="#ff00ff"/>
<path d="M1588 705.6L1615.6 689.4L1615.6 721.8Z" fill="#ff00ff"/>
<path d="M685.4 773.2L686.6 767L687.8 760.7L689.1 754.5L690.4 748.3L691.6 742L692.9 735.8L694.2 729.6L695.7 723.4L697.2 717.2L698.8 711.1L700.5 705L702.4 698.9L704.4 692.9L706.6 686.9L708.9 681L711.3 675.1L713.8 669.2L716.3 663.4L719 657.7L721.7 651.9L724.5 646.2L727.2 640.4L729.9 634.7L732.6 628.9L735.4 623.2L738.3 617.6L741.2 611.9L744.3 606.3L747.4 600.7L750.6 595.2L754 589.9L757.6 584.7L761.5 579.7L765.7 574.9L770.1 570.2L774.6 565.8L779.3 561.6L784.1 557.5L789.2 553.7L794.3 549.8L799.4 546L804.5 542.2L809.5 538.2L814.3 534.1L819.2 529.9L824.1 525.8L829.1 522L834.3 518.4L839.6 514.9L844.9 511.6L850.4 508.3L856 505.1L861.5 502L867.2 499L872.8 496.1L878.5 493.2L884.1 490.4L889.9 487.6L895.6 484.8L901.4 482L907.2 479.4L913 476.8L918.9 474.4L924.8 472L930.8 469.9L936.8 468L942.8 466.1L948.9 464.3L955 462.5L961.2 460.7L967.4 459.1L973.6 457.6L979.8 456.2L986.1 455L992.3 454L998.6 453.1L1004.8 452.4L1011.1 451.7L1017.4 451L1023.8 450.3L1030.1 449.7L1036.5 449.2L1042.8 448.7L1049.2 448.3L1055.6 448L1061.9 447.7L1068.3 447.6L1074.6 447.6L1081 447.8L1087.3 448L1093.7 448.4L1100.1 448.9L1106.4 449.5L1112.8 450.2L1119.1 450.9L1125.4 451.6L1131.7 452.4L1137.9 453.2L1144.1 454.2L1150.3 455.4L1156.5 456.9L1162.7 458.5L1168.9 460.2L1175 462.1L1181.1 464L1187.2 466.1L1193.2 468.2L1199.2 470.3L1205.1 472.4L1211.1 474.6L1217 477L1222.8 479.4L1228.6 482L1234.4 484.7L1240.2 487.5L1245.9 490.4L1251.6 493.3L1257.2 496.3L1262.8 499.3L1268.3 502.4L1273.8 505.5L1279.3 508.7L1284.7 512L1290.2 515.4L1295.5 518.9L1300.9 522.5L1306.1 526.1L1311.3 529.8L1316.4 533.6L1321.4 537.5L1326.3 541.5L1331 545.5L1335.7 549.8L1340.4 554.1L1344.9 558.6L1349.4 563.2L1353.8 567.9L1358.1 572.6L1362.4 577.3L1366.6 582L1370.8 586.8L1374.9 591.6L1379 596.5L1383 601.4L1387 606.5L1390.8 611.5L1394.5 616.7L1398.1 621.9L1401.6 627.2L1405.1 632.5L1408.4 638L1411.6 643.5L1414.7 649L1417.7 654.6L1420.4 660.3L1423.1 666.1L1425.6 671.9L1428.2 677.8L1430.8 683.6L1433.2 689.7L1435.5 696.1L1438 702L1441.3 706.7L1446.5 710.6L1452.5 712L1458.5 710.2L1464.5 707.4L1470.3 704.6L1475.9 701.2L1481.5 697.9L1487.1 695.1L1493.1 693.7L1499.3 692.8L1505.7 692L1512.1 691.6L1518.4 691.6L1524.7 692.3L1531 693.7L1537.2 695.4L1543.2 697.1L1549.1 699.2L1554.9 701.8L1560.6 704.7L1566.2 708L1571.6 711.6" fill="none" stroke="#000" stroke-width="2.6" stroke-linejoin="round"/>
<path d="M679.2 757L695.9 773.6L679.2 790.3L662.6 773.6Z" fill="#000080"/>
<path d="M679.2 757L695.9 773.6L679.2 790.3L662.6 773.6Z" fill="#000080"/>
<path d="M679.3 756.9L695.9 773.6L679.3 790.2L662.6 773.6Z" fill="#000080"/>
<path d="M679.3 756.9L695.9 773.5L679.3 790.2L662.6 773.5Z" fill="#000080"/>
<path d="M679.3 756.8L695.9 773.5L679.3 790.1L662.6 773.5Z" fill="#000080"/>
<path d="M679.3 756.8L695.9 773.4L679.3 790.1L662.6 773.4Z" fill="#000080"/>
<path d="M679.3 756.8L695.9 773.4L679.3 790.1L662.6 773.4Z" fill="#000080"/>
<path d="M679.3 756.7L695.9 773.4L679.3 790L662.6 773.4Z" fill="#000080"/>
<path d="M679.3 756.6L695.9 773.3L679.3 789.9L662.6 773.3Z" fill="#000080"/>
<path d="M679.3 756.6L696 773.2L679.3 789.9L662.7 773.2Z" fill="#000080"/>
<path d="M679.3 756.5L696 773.2L679.3 789.8L662.7 773.2Z" fill="#000080"/>
<path d="M679.3 756.4L696 773.1L679.3 789.7L662.7 773.1Z" fill="#000080"/>
<path d="M679.3 756.3L696 773L679.3 789.6L662.7 773Z" fill="#000080"/>
<path d="M679.4 756.2L696 772.8L679.4 789.5L662.7 772.8Z" fill="#000080"/>
<path d="M679.4 756L696 772.7L679.4 789.3L662.7 772.7Z" fill="#000080"/>
<path d="M679.4 755.8L696.1 772.5L679.4 789.1L662.8 772.5Z" fill="#000080"/>
<path d="M679.5 755.6L696.1 772.2L679.5 788.9L662.8 772.2Z" fill="#000080"/>
<path d="M679.6 755.3L696.2 771.9L679.6 788.6L662.9 771.9Z" fill="#000080"/>
<path d="M679.7 754.9L696.3 771.5L679.7 788.2L663 771.5Z" fill="#000080"/>
<path d="M679.8 754.4L696.4 771L679.8 787.7L663.1 771Z" fill="#000080"/>
<path d="M679.8 753.7L696.5 770.3L679.8 787L663.2 770.3Z" fill="#000080"/>
<path d="M679.9 752.9L696.6 769.6L679.9 786.2L663.3 769.6Z" fill="#000080"/>
<path d="M680.1 752L696.7 768.6L680.1 785.3L663.4 768.6Z" fill="#000080"/>
<path d="M680.4 750.7L697 767.4L680.4 784L663.7 767.4Z" fill="#000080"/>
<path d="M680.6 749.2L697.3 765.8L680.6 782.5L664 765.8Z" fill="#000080"/>
<path d="M680.9 747.3L697.5 763.9L680.9 780.6L664.2 763.9Z" fill="#000080"/>
<path d="M681.4 745L698.1 761.7L681.4 778.3L664.8 761.7Z" fill="#000080"/>
<path d="M682 742.2L698.6 758.8L682 775.5L665.3 758.8Z" fill="#000080"/>
<path d="M682.6 738.7L699.3 755.4L682.6 772L666 755.4Z" fill="#000080"/>
<path d="M683.4 734.5L700 751.1L683.4 767.8L666.7 751.1Z" fill="#000080"/>
<path d="M684.3 729.2L701 745.8L684.3 762.5L667.7 745.8Z" fill="#000080"/>
<path d="M685.6 722.7L702.2 739.3L685.6 756L668.9 739.3Z" fill="#000080"/>
<path d="M687.3 714.9L703.9 731.5L687.3 748.2L670.6 731.5Z" fill="#000080"/>
<path d="M689.4 705.4L706.1 722.1L689.4 738.7L672.8 722.1Z" fill="#000080"/>
<path d="M692.5 694.1L709.1 710.7L692.5 727.4L675.8 710.7Z" fill="#000080"/>
<path d="M696.5 680.4L713.2 697L696.5 713.7L679.9 697Z" fill="#000080"/>
<path d="M702.2 664L718.9 680.7L702.2 697.3L685.6 680.7Z" fill="#000080"/>
<path d="M708.9 642.2L725.5 658.9L708.9 675.5L692.2 658.9Z" fill="#000080"/>
<path d="M720.2 619.6L736.9 636.3L720.2 652.9L703.6 636.3Z" fill="#000080"/>
<path d="M737.8 589.6L754.4 606.2L737.8 622.9L721.1 606.2Z" fill="#000080"/>
<path d="M759.1 559.5L775.8 576.1L759.1 592.8L742.5 576.1Z" fill="#000080"/>
<path d="M790.5 520.6L807.1 537.2L790.5 553.9L773.9 537.2Z" fill="#000080"/>
<path d="M831.4 486.7L848 503.3L831.4 520L814.8 503.3Z" fill="#000080"/>
<path d="M884.1 445.8L900.8 462.4L884.1 479L867.5 462.4Z" fill="#000080"/>
<path d="M944.8 412L961.4 428.6L944.8 445.2L928.1 428.6Z" fill="#000080"/>
<path d="M1018.3 385.1L1035 401.7L1018.3 418.3L1001.6 401.7Z" fill="#000080"/>
<path d="M1099.6 370L1116.2 386.6L1099.6 403.2L1082.9 386.6Z" fill="#000080"/>
<path d="M1183.9 366.2L1200.6 382.9L1183.9 399.5L1167.2 382.9Z" fill="#000080"/>
<path d="M1263 376.2L1279.7 392.9L1263 409.5L1246.3 392.9Z" fill="#000080"/>
<path d="M1338.2 396.4L1354.9 413L1338.2 429.6L1321.5 413Z" fill="#000080"/>
<path d="M1403 422.7L1419.7 439.3L1403 455.9L1386.3 439.3Z" fill="#000080"/>
<path d="M1455.4 452.1L1472.1 468.7L1455.4 485.3L1438.8 468.7Z" fill="#000080"/>
<path d="M1501.9 480.5L1518.6 497.1L1501.9 513.8L1485.2 497.1Z" fill="#000080"/>
<path d="M1539.5 506.8L1556.2 523.4L1539.5 540L1522.8 523.4Z" fill="#000080"/>
<path d="M1569.6 531.1L1586.2 547.8L1569.6 564.4L1552.9 547.8Z" fill="#000080"/>
<path d="M1595.5 552L1612.2 568.6L1595.5 585.2L1578.8 568.6Z" fill="#000080"/>
<path d="M1618 570.1L1634.7 586.7L1618 603.4L1601.3 586.7Z" fill="#000080"/>
<path d="M1631.8 582.1L1648.5 598.7L1631.8 615.4L1615.1 598.7Z" fill="#000080"/>
<path d="M1644.4 592.1L1661.1 608.7L1644.4 625.4L1627.8 608.7Z" fill="#000080"/>
<path d="M1655 604.4L1671.7 621L1655 637.6L1638.3 621Z" fill="#000080"/>
<path d="M1665 616.4L1681.7 633L1665 649.6L1648.3 633Z" fill="#000080"/>
<path d="M1676 629.4L1692.7 646L1676 662.6L1659.3 646Z" fill="#000080"/>
<path d="M1686 640.6L1702.7 657.3L1686 673.9L1669.3 657.3Z" fill="#000080"/>
<path d="M685.4 773.2L687 765.1L688.6 757L690.2 748.9L691.9 740.8L693.6 732.8L695.4 724.7L697.3 716.7L699.4 708.7L701.8 700.8L704.4 693L707.3 685.2L710.3 677.6L713.5 670L716.8 662.4L720.3 654.9L723.8 647.5L727.4 640L730.9 632.5L734.5 625.1L738.2 617.7L742.1 610.5L746.1 603.3L750.3 596.1L754.7 589.1L759.2 582.3L764 575.6L768.9 568.9L774 562.4L779.2 556L784.4 549.6L789.6 543.2L794.9 536.8L800.2 530.5L805.6 524.1L811 517.9L816.6 511.8L822.3 505.8L828 499.9L834 494.3L840 488.8L846.3 483.4L852.7 478.2L859.2 473.1L865.8 468L872.5 463.2L879.3 458.4L886.1 453.8L893 449.3L899.9 444.9L907 440.5L914.1 436.3L921.3 432.1L928.5 428.2L935.8 424.3L943.2 420.7L950.6 417.2L958.1 413.7L965.6 410.2L973.2 406.9L980.9 403.7L988.6 400.6L996.4 397.7L1004.1 394.9L1012 392.4L1019.8 390.1L1027.7 387.9L1035.7 385.8L1043.7 383.8L1051.8 381.8L1059.8 380L1068 378.3L1076.1 376.7L1084.3 375.4L1092.4 374.2L1100.6 373.2L1108.7 372.4L1116.9 371.5L1125.2 370.7L1133.4 369.9L1141.6 369.2L1149.9 368.6L1158.2 368.1L1166.4 367.7L1174.7 367.4L1182.9 367.3L1191.1 367.4L1199.4 367.7L1207.6 368.3L1215.8 369L1224.1 369.8L1232.3 370.8L1240.5 371.8L1248.7 372.9L1256.9 374.1L1265 375.2L1273.1 376.5L1281.2 377.9L1289.3 379.6L1297.4 381.4L1305.5 383.4L1313.5 385.5L1321.5 387.7L1329.5 390L1337.4 392.4L1345.2 394.8L1353 397.3L1360.8 399.9L1368.5 402.8L1376.2 405.8L1383.9 409L1391.5 412.3L1399 415.8L1406.5 419.4L1413.9 423L1421.3 426.8L1428.6 430.6L1435.8 434.5L1443 438.5L1450.1 442.7L1457.2 447L1464.2 451.5L1471.2 456.1L1478 460.8L1484.6 465.6L1491.1 470.6L1497.5 475.7L1503.7 481.1L1509.7 486.6L1515.7 492.4L1521.6 498.2L1527.4 504.1L1533.3 510L1539.1 515.9L1544.9 521.8L1550.7 527.7L1556.4 533.6L1562.1 539.6L1567.8 545.6L1573.4 551.7L1578.9 557.8L1584.4 563.9L1590 570L1595.5 576.3L1600.7 582.7L1605.2 589.4L1609.2 596.6L1613 603.9L1616.7 611.4L1620.5 618.7L1624.4 626L1628.3 633.3L1632.2 640.6L1636 647.9L1639.6 655.3L1643.1 662.8L1646.4 670.3L1649.6 678L1652.6 685.6L1655.5 693.4L1658.2 701.2L1660.8 709" fill="none" stroke="#000" stroke-width="2.6" stroke-linejoin="round"/>
<circle cx="685.6" cy="773.1" r="12.9" fill="#108010"/>
<circle cx="685.6" cy="773.1" r="12.9" fill="#108010"/>
<circle cx="685.6" cy="773.1" r="12.9" fill="#108010"/>
<circle cx="685.6" cy="773.1" r="12.9" fill="#108010"/>
<circle cx="685.6" cy="773.1" r="12.9" fill="#108010"/>
<circle cx="685.6" cy="773.1" r="12.9" fill="#108010"/>
<circle cx="685.6" cy="773" r="12.9" fill="#108010"/>
<circle cx="685.7" cy="772.9" r="12.9" fill="#108010"/>
<circle cx="685.7" cy="772.9" r="12.9" fill="#108010"/>
<circle cx="685.7" cy="772.8" r="12.9" fill="#108010"/>
<circle cx="685.7" cy="772.7" r="12.9" fill="#108010"/>
<circle cx="685.8" cy="772.5" r="12.9" fill="#108010"/>
<circle cx="685.8" cy="772.4" r="12.9" fill="#108010"/>
<circle cx="685.8" cy="772.2" r="12.9" fill="#108010"/>
<circle cx="685.9" cy="771.9" r="12.9" fill="#108010"/>
<circle cx="685.9" cy="771.6" r="12.9" fill="#108010"/>
<circle cx="686" cy="771.2" r="12.9" fill="#108010"/>
<circle cx="686.1" cy="770.8" r="12.9" fill="#108010"/>
<circle cx="686.3" cy="770.2" r="12.9" fill="#108010"/>
<circle cx="686.5" cy="769.6" r="12.9" fill="#108010"/>
<circle cx="686.7" cy="768.8" r="12.9" fill="#108010"/>
<circle cx="686.9" cy="767.7" r="12.9" fill="#108010"/>
<circle cx="687.1" cy="766.3" r="12.9" fill="#108010"/>
<circle cx="687.3" cy="764.6" r="12.9" fill="#108010"/>
<circle cx="687.6" cy="762.7" r="12.9" fill="#108010"/>
<circle cx="688" cy="760.3" r="12.9" fill="#108010"/>
<circle cx="688.8" cy="757.2" r="12.9" fill="#108010"/>
<circle cx="689.5" cy="753" r="12.9" fill="#108010"/>
<circle cx="690.9" cy="747.9" r="12.9" fill="#108010"/>
<circle cx="692.3" cy="740.9" r="12.9" fill="#108010"/>
<circle cx="694.4" cy="732.9" r="12.9" fill="#108010"/>
<circle cx="697.1" cy="723" r="12.9" fill="#108010"/>
<circle cx="700.4" cy="710.9" r="12.9" fill="#108010"/>
<circle cx="702" cy="699.4" r="12.9" fill="#108010"/>
<circle cx="707.6" cy="684.4" r="12.9" fill="#108010"/>
<circle cx="715.5" cy="665.3" r="12.9" fill="#108010"/>
<circle cx="725.5" cy="642.3" r="12.9" fill="#108010"/>
<circle cx="739.3" cy="614.6" r="12.9" fill="#108010"/>
<circle cx="757.6" cy="585.2" r="12.9" fill="#108010"/>
<circle cx="784.5" cy="547.1" r="12.9" fill="#108010"/>
<circle cx="817.3" cy="509.6" r="12.9" fill="#108010"/>
<circle cx="864.5" cy="465.7" r="12.9" fill="#108010"/>
<circle cx="919.7" cy="425.5" r="12.9" fill="#108010"/>
<circle cx="993.7" cy="384.1" r="12.9" fill="#108010"/>
<circle cx="1074" cy="351.5" r="12.9" fill="#108010"/>
<circle cx="1168" cy="329.3" r="12.9" fill="#108010"/>
<circle cx="1283.5" cy="317.6" r="12.9" fill="#108010"/>
<circle cx="1393.5" cy="337.7" r="12.9" fill="#108010"/>
<circle cx="1505.9" cy="380.9" r="12.9" fill="#108010"/>
<circle cx="1601.7" cy="454.4" r="12.9" fill="#108010"/>
<circle cx="1643.9" cy="549.3" r="12.9" fill="#108010"/>
<circle cx="1655" cy="619" r="12.9" fill="#108010"/>
<circle cx="1673.3" cy="662.8" r="12.9" fill="#108010"/>
<circle cx="1672.3" cy="716.1" r="12.9" fill="#108010"/>
<circle cx="1663.8" cy="742.4" r="12.9" fill="#108010"/>
<circle cx="1669.9" cy="769.4" r="12.9" fill="#108010"/>
<circle cx="1647" cy="782" r="12.9" fill="#108010"/>
<circle cx="1652" cy="790" r="12.9" fill="#108010"/>
<circle cx="1623.3" cy="806.3" r="12.9" fill="#108010"/>
<circle cx="1639.5" cy="823.5" r="12.9" fill="#108010"/>
<circle cx="1766.6" cy="827.6" r="12.9" fill="#108010"/>
<path d="M685.4 773.2L686.9 765.2L688.5 757.3L690.1 749.3L691.8 741.3L693.4 733.4L695.2 725.5L697.1 717.6L699.2 709.7L701.4 701.9L703.9 694.2L706.8 686.6L709.7 679L712.8 671.5L716 664.1L719.4 656.7L722.9 649.3L726.4 642L729.9 634.7L733.4 627.4L737 620.1L740.7 612.9L744.5 605.7L748.5 598.6L752.5 591.5L756.7 584.5L761 577.7L765.5 571L770.2 564.3L774.9 557.7L779.6 551.1L784.3 544.4L788.8 537.6L793.2 530.8L797.6 523.9L802 517L806.5 510.2L811.2 503.7L816.1 497.3L821.4 491.2L826.8 485.2L832.5 479.4L838.3 473.6L844.2 468L850.3 462.5L856.3 457.1L862.4 451.8L868.7 446.6L875 441.5L881.4 436.5L887.9 431.6L894.5 426.8L901.2 422.1L907.9 417.5L914.6 413.1L921.4 408.6L928.2 404.2L935.1 399.9L942.1 395.7L949.1 391.5L956.2 387.4L963.3 383.5L970.4 379.6L977.6 375.9L984.9 372.3L992.1 368.7L999.5 365.2L1006.8 361.8L1014.3 358.4L1021.7 355.1L1029.2 351.8L1036.8 348.7L1044.4 345.7L1052 342.9L1059.6 340.2L1067.3 337.7L1075 335.4L1082.8 333.2L1090.6 330.9L1098.4 328.7L1106.3 326.5L1114.2 324.4L1122.2 322.3L1130.2 320.4L1138.2 318.7L1146.2 317.1L1154.2 315.8L1162.2 314.7L1170.3 313.9L1178.3 313.4L1186.3 313L1194.4 312.6L1202.5 312.3L1210.6 312L1218.8 311.7L1226.9 311.5L1235.1 311.3L1243.2 311.1L1251.4 310.9L1259.5 310.8L1267.6 310.7L1275.7 310.6L1283.8 310.6L1291.9 310.8L1300 311.2L1308.1 311.9L1316.2 312.9L1324.3 314L1332.3 315.4L1340.4 316.9L1348.5 318.5L1356.5 320.2L1364.4 322L1372.4 323.9L1380.3 325.7L1388.1 327.6L1395.9 329.5L1403.7 331.5L1411.4 333.7L1419.2 336.2L1426.9 338.8L1434.6 341.6L1442.3 344.5L1449.9 347.6L1457.5 350.8L1465 354.1L1472.5 357.5L1479.9 361L1487.2 364.6L1494.4 368.2L1501.6 371.8L1508.7 375.6L1515.7 379.4L1522.7 383.5L1529.7 387.7L1536.7 392.1L1543.6 396.7L1550.4 401.3L1557 406.2L1563.6 411.1L1570 416.2L1576.2 421.3L1582.3 426.6L1588.1 431.9L1593.9 437.5L1599.6 443.2L1605.1 449.1L1610.6 455.2L1615.9 461.5L1621.1 467.9L1626.2 474.4L1631.1 481L1635.8 487.7L1640.3 494.4L1644.7 501.2L1648.7 508.2L1652.5 515.4L1656.1 522.7L1659.6 530.1L1662.8 537.5L1665.9 545L1668.9 552.6L1671.9 560.1L1675.2 567.6L1678.3 575.1L1680.7 582.8L1682.6 590.7L1684.2 598.7L1685.5 606.7L1686.6 614.8L1687.7 622.8L1688.6 630.9L1689.1 639L1689 647.1L1688.6 655.3L1688 663.4L1687.3 671.5L1686.3 679.5L1684.7 687.5L1682.8 695.4L1680.4 703.1L1677.5 710.7L1674 718.2L1670.2 725.2L1665.7 732.1L1660.8 738.6L1655.6 744.8L1650.1 751L1644.2 756.5L1637.8 761.3L1630.8 765.4L1623.3 768.8" fill="none" stroke="#000" stroke-width="2.6" stroke-linejoin="round"/>
</g>
<rect x="796.5" y="63.8" width="24.5" height="24.5" fill="#000000"/>
<path d="M808.8 114.1L825.1 142.1L792.4 142.1Z" fill="#0000ff"/>
<path d="M790.9 189.1L818.5 172.9L818.5 205.3Z" fill="#ff00ff"/>
<path d="M809.1 228.8L825.8 245.4L809.1 262.1L792.5 245.4Z" fill="#000080"/>
<circle cx="809" cy="301.5" r="13.3" fill="#108010"/>
<text x="871.4" y="92" font-size="44.5" text-anchor="start" font-weight="normal" font-family="Liberation Serif, serif" >AZ91D</text>
<text x="872" y="146.9" font-size="44.5" text-anchor="start" font-weight="normal" font-family="Liberation Serif, serif" >0 d</text>
<text x="872" y="203.7" font-size="44.5" text-anchor="start" font-weight="normal" font-family="Liberation Serif, serif" >1 d</text>
<text x="872" y="259.6" font-size="44.5" text-anchor="start" font-weight="normal" font-family="Liberation Serif, serif" >2 d</text>
<text x="872" y="315.8" font-size="44.5" text-anchor="start" font-weight="normal" font-family="Liberation Serif, serif" >3 d</text>
<line x1="724" y1="342" x2="764.5" y2="342" stroke="#000" stroke-width="2.7" />
<text x="777" y="361.7" font-size="48" text-anchor="start" font-weight="normal" font-family="Liberation Serif, serif" >Fitted curves</text>
</g>
<g id="plotB">
<clipPath id="clipB"><rect x="158.7" y="1213.6" width="1042.1" height="759.8"/></clipPath>
<g clip-path="url(#clipB)">
<rect x="163.9" y="1715.9" width="19.3" height="19.3" fill="#000000"/>
<rect x="178.9" y="1692.8" width="19.3" height="19.3" fill="#000000"/>
<rect x="192.4" y="1693.1" width="19.3" height="19.3" fill="#000000"/>
<rect x="207.9" y="1686.9" width="19.3" height="19.3" fill="#000000"/>
<rect x="222.3" y="1679.2" width="19.3" height="19.3" fill="#000000"/>
<rect x="237.8" y="1687.9" width="19.3" height="19.3" fill="#000000"/>
<rect x="252.3" y="1678.2" width="19.3" height="19.3" fill="#000000"/>
<rect x="266.8" y="1685" width="19.3" height="19.3" fill="#000000"/>
<rect x="282.2" y="1691.8" width="19.3" height="19.3" fill="#000000"/>
<rect x="296.8" y="1686.9" width="19.3" height="19.3" fill="#000000"/>
<rect x="312.2" y="1685.4" width="19.3" height="19.3" fill="#000000"/>
<rect x="326.7" y="1683" width="19.3" height="19.3" fill="#000000"/>
<rect x="341.2" y="1681.1" width="19.3" height="19.3" fill="#000000"/>
<rect x="356.6" y="1677.3" width="19.3" height="19.3" fill="#000000"/>
<rect x="372.1" y="1672.4" width="19.3" height="19.3" fill="#000000"/>
<rect x="386.5" y="1668.6" width="19.3" height="19.3" fill="#000000"/>
<rect x="401" y="1667.6" width="19.3" height="19.3" fill="#000000"/>
<rect x="416.5" y="1665.8" width="19.3" height="19.3" fill="#000000"/>
<rect x="430.9" y="1661.8" width="19.3" height="19.3" fill="#000000"/>
<rect x="445.4" y="1656" width="19.3" height="19.3" fill="#000000"/>
<rect x="460.9" y="1648.3" width="19.3" height="19.3" fill="#000000"/>
<rect x="475.2" y="1642.5" width="19.3" height="19.3" fill="#000000"/>
<rect x="490.8" y="1635.8" width="19.3" height="19.3" fill="#000000"/>
<rect x="505.2" y="1631.9" width="19.3" height="19.3" fill="#000000"/>
<rect x="519.6" y="1628.6" width="19.3" height="19.3" fill="#000000"/>
<rect x="534.1" y="1627.1" width="19.3" height="19.3" fill="#000000"/>
<rect x="547.9" y="1628" width="19.3" height="19.3" fill="#000000"/>
<rect x="562.7" y="1628.7" width="19.3" height="19.3" fill="#000000"/>
<rect x="577.4" y="1630.3" width="19.3" height="19.3" fill="#000000"/>
<rect x="592.2" y="1632.4" width="19.3" height="19.3" fill="#000000"/>
<rect x="607" y="1634.4" width="19.3" height="19.3" fill="#000000"/>
<rect x="621.7" y="1636.3" width="19.3" height="19.3" fill="#000000"/>
<rect x="636.5" y="1638.9" width="19.3" height="19.3" fill="#000000"/>
<rect x="651.3" y="1642.4" width="19.3" height="19.3" fill="#000000"/>
<rect x="666" y="1647.4" width="19.3" height="19.3" fill="#000000"/>
<rect x="680.8" y="1653.5" width="19.3" height="19.3" fill="#000000"/>
<rect x="695.6" y="1660.6" width="19.3" height="19.3" fill="#000000"/>
<rect x="710.3" y="1668.3" width="19.3" height="19.3" fill="#000000"/>
<rect x="725.1" y="1676.2" width="19.3" height="19.3" fill="#000000"/>
<rect x="739.9" y="1687" width="19.3" height="19.3" fill="#000000"/>
<rect x="754.6" y="1702.4" width="19.3" height="19.3" fill="#000000"/>
<rect x="769.4" y="1719.2" width="19.3" height="19.3" fill="#000000"/>
<rect x="784.2" y="1734.5" width="19.3" height="19.3" fill="#000000"/>
<rect x="798.9" y="1749.4" width="19.3" height="19.3" fill="#000000"/>
<rect x="813.7" y="1763.4" width="19.3" height="19.3" fill="#000000"/>
<rect x="828.5" y="1775" width="19.3" height="19.3" fill="#000000"/>
<rect x="843.2" y="1784.4" width="19.3" height="19.3" fill="#000000"/>
<rect x="858" y="1792.3" width="19.3" height="19.3" fill="#000000"/>
<rect x="872.8" y="1798.8" width="19.3" height="19.3" fill="#000000"/>
<rect x="887.5" y="1804.7" width="19.3" height="19.3" fill="#000000"/>
<rect x="902.3" y="1808.7" width="19.3" height="19.3" fill="#000000"/>
<rect x="917.1" y="1810.9" width="19.3" height="19.3" fill="#000000"/>
<rect x="931.8" y="1812.4" width="19.3" height="19.3" fill="#000000"/>
<rect x="946.6" y="1813.4" width="19.3" height="19.3" fill="#000000"/>
<rect x="961.4" y="1814.3" width="19.3" height="19.3" fill="#000000"/>
<rect x="976.1" y="1814.9" width="19.3" height="19.3" fill="#000000"/>
<rect x="990.9" y="1815.5" width="19.3" height="19.3" fill="#000000"/>
<rect x="1005.7" y="1815.9" width="19.3" height="19.3" fill="#000000"/>
<rect x="1020.4" y="1816.3" width="19.3" height="19.3" fill="#000000"/>
<rect x="1035.2" y="1816.7" width="19.3" height="19.3" fill="#000000"/>
<rect x="1050" y="1817" width="19.3" height="19.3" fill="#000000"/>
<rect x="1064.7" y="1817.3" width="19.3" height="19.3" fill="#000000"/>
<rect x="1079.5" y="1817.5" width="19.3" height="19.3" fill="#000000"/>
<rect x="1094.3" y="1817.6" width="19.3" height="19.3" fill="#000000"/>
<rect x="1109" y="1817.7" width="19.3" height="19.3" fill="#000000"/>
<rect x="1123.8" y="1817.8" width="19.3" height="19.3" fill="#000000"/>
<rect x="1138.6" y="1817.8" width="19.3" height="19.3" fill="#000000"/>
<rect x="1153.3" y="1817.8" width="19.3" height="19.3" fill="#000000"/>
<rect x="1168.1" y="1817.8" width="19.3" height="19.3" fill="#000000"/>
<rect x="1182.9" y="1817.8" width="19.3" height="19.3" fill="#000000"/>
<path d="M173.2 1696.6L176.6 1696.4L180 1696.1L183.4 1695.9L186.8 1695.7L190.2 1695.5L193.6 1695.3L197 1695.1L200.4 1694.9L203.9 1694.7L207.3 1694.6L210.7 1694.4L214.1 1694.3L217.5 1694.2L220.9 1694.1L224.3 1694.1L227.7 1694L231.1 1694L234.5 1694L237.9 1694L241.3 1694.1L244.7 1694.1L248.1 1694.1L251.5 1694.2L254.9 1694.3L258.4 1694.3L261.8 1694.4L265.2 1694.5L268.6 1694.6L272 1694.6L275.4 1694.7L278.8 1694.8L282.2 1694.8L285.6 1694.9L289 1694.9L292.4 1695L295.8 1695L299.2 1695L302.6 1695L306 1694.9L309.4 1694.8L312.8 1694.6L316.3 1694.4L319.7 1694.2L323.1 1693.9L326.5 1693.6L329.9 1693.2L333.3 1692.9L336.7 1692.5L340.1 1692.1L343.5 1691.7L346.9 1691.3L350.3 1690.9L353.7 1690.4L357.1 1689.9L360.5 1689.4L363.9 1688.8L367.3 1688.1L370.7 1687.4L374.2 1686.7L377.6 1685.9L381 1685.1L384.4 1684.2L387.8 1683.4L391.2 1682.5L394.6 1681.6L398 1680.7L401.4 1679.8L404.8 1678.8L408.2 1677.9L411.6 1677L415 1676.1L418.4 1675.1L421.8 1674.2L425.2 1673.1L428.7 1672.1L432.1 1671.1L435.5 1670L438.9 1668.9L442.3 1667.8L445.7 1666.6L449.1 1665.5L452.5 1664.3L455.9 1663.1L459.3 1661.9L462.7 1660.8L466.1 1659.6L469.5 1658.3L472.9 1657.1L476.3 1655.8L479.7 1654.3L483.1 1652.8L486.6 1651.3L490 1649.7L493.4 1648.2L496.8 1646.7L500.2 1645.3L503.6 1643.9L507 1642.8L510.4 1641.7L513.8 1640.8L517.2 1640.1L520.6 1639.4L524 1638.7L527.4 1638.1L530.8 1637.4L534.2 1636.8L537.6 1636.3L541.1 1635.8L544.5 1635.4L547.9 1635L551.3 1634.8L554.7 1634.6L558.1 1634.6L561.5 1634.7L564.9 1634.8L568.3 1635.1L571.7 1635.4L575.1 1635.7L578.5 1636.2L581.9 1636.6L585.3 1637.1L588.7 1637.6L592.1 1638.1L595.5 1638.6L599 1639.1L602.4 1639.6L605.8 1640L609.2 1640.5L612.6 1641L616 1641.4L619.4 1641.9L622.8 1642.4L626.2 1642.9L629.6 1643.5L633 1644.1L636.4 1644.6L639.8 1645.3L643.2 1645.9L646.6 1646.6L650 1647.4L653.4 1648.1L656.9 1649L660.3 1649.8L663.7 1650.8L667.1 1652L670.5 1653.5L673.9 1655L677.3 1656.7L680.7 1658.4L684.1 1660.1L687.5 1661.8L690.9 1663.4L694.3 1665.1L697.7 1666.7L701.1 1668.4L704.5 1670L707.9 1671.8L711.4 1673.5L714.8 1675.2L718.2 1677L721.6 1678.8L725 1680.6L728.4 1682.3L731.8 1684.2L735.2 1686.1L738.6 1688.2L742 1690.5L745.4 1693.1L748.8 1696.1L752.2 1699.2L755.6 1702.6L759 1706.2L762.4 1710L765.8 1713.8L769.3 1717.7L772.7 1721.6L776.1 1725.5L779.5 1729.3L782.9 1733L786.3 1736.7L789.7 1740.1L793.1 1743.5L796.5 1746.9L799.9 1750.3L803.3 1753.8L806.7 1757.2L810.1 1760.6L813.5 1763.9L816.9 1767.2L820.3 1770.3L823.7 1773.4L827.2 1776.3L830.6 1779.1L834 1781.7L837.4 1784.1L840.8 1786.4L844.2 1788.7L847.6 1790.8L851 1792.9L854.4 1794.9L857.8 1796.8L861.2 1798.6L864.6 1800.4L868 1802.1L871.4 1803.7L874.8 1805.2L878.2 1806.7L881.7 1808.2L885.1 1809.6L888.5 1811L891.9 1812.4L895.3 1813.7L898.7 1814.9L902.1 1816L905.5 1816.9L908.9 1817.8L912.3 1818.5L915.7 1819L919.1 1819.5L922.5 1820L925.9 1820.4L929.3 1820.9L932.7 1821.2L936.1 1821.6L939.6 1821.9L943 1822.2L946.4 1822.4L949.8 1822.7L953.2 1822.9L956.6 1823.1L960 1823.3L963.4 1823.5L966.8 1823.7L970.2 1823.9L973.6 1824L977 1824.2L980.4 1824.4L983.8 1824.5L987.2 1824.6L990.6 1824.8L994.1 1824.9L997.5 1825L1000.9 1825.1L1004.3 1825.2L1007.7 1825.3L1011.1 1825.4L1014.5 1825.5L1017.9 1825.6L1021.3 1825.7L1024.7 1825.8L1028.1 1825.9L1031.5 1826L1034.9 1826.1L1038.3 1826.2L1041.7 1826.3L1045.1 1826.4L1048.5 1826.4L1052 1826.5L1055.4 1826.6L1058.8 1826.7L1062.2 1826.7L1065.6 1826.8L1069 1826.9L1072.4 1826.9L1075.8 1827L1079.2 1827L1082.6 1827.1L1086 1827.1L1089.4 1827.2L1092.8 1827.2L1096.2 1827.2L1099.6 1827.3L1103 1827.3L1106.4 1827.3L1109.9 1827.3L1113.3 1827.3L1116.7 1827.3L1120.1 1827.4L1123.5 1827.4L1126.9 1827.4L1130.3 1827.4L1133.7 1827.4L1137.1 1827.4L1140.5 1827.4L1143.9 1827.4L1147.3 1827.4L1150.7 1827.4L1154.1 1827.5L1157.5 1827.5L1160.9 1827.5L1164.4 1827.5L1167.8 1827.5L1171.2 1827.5L1174.6 1827.5L1178 1827.5L1181.4 1827.5L1184.8 1827.5L1188.2 1827.5L1191.6 1827.5" fill="none" stroke="#000" stroke-width="2.3" stroke-linejoin="round"/>
<path d="M203.1 1532.3L215.5 1552.8L190.7 1552.8Z" fill="#0000ff"/>
<path d="M217.9 1530.9L230.3 1551.4L205.5 1551.4Z" fill="#0000ff"/>
<path d="M232.7 1531L245.1 1551.5L220.3 1551.5Z" fill="#0000ff"/>
<path d="M247.4 1531.2L259.8 1551.7L235 1551.7Z" fill="#0000ff"/>
<path d="M262.2 1531.4L274.6 1551.9L249.8 1551.9Z" fill="#0000ff"/>
<path d="M277 1531.8L289.4 1552.3L264.6 1552.3Z" fill="#0000ff"/>
<path d="M291.7 1532.7L304.1 1553.2L279.3 1553.2Z" fill="#0000ff"/>
<path d="M306.5 1533.9L318.9 1554.4L294.1 1554.4Z" fill="#0000ff"/>
<path d="M321.3 1535.1L333.7 1555.6L308.9 1555.6Z" fill="#0000ff"/>
<path d="M336 1536.2L348.4 1556.7L323.6 1556.7Z" fill="#0000ff"/>
<path d="M350.8 1537.3L363.2 1557.8L338.4 1557.8Z" fill="#0000ff"/>
<path d="M365.6 1538.6L378 1559.1L353.2 1559.1Z" fill="#0000ff"/>
<path d="M380.3 1539.9L392.7 1560.4L367.9 1560.4Z" fill="#0000ff"/>
<path d="M395.1 1541.4L407.5 1561.9L382.7 1561.9Z" fill="#0000ff"/>
<path d="M409.9 1542.9L422.3 1563.4L397.5 1563.4Z" fill="#0000ff"/>
<path d="M424.6 1544.6L437 1565.1L412.2 1565.1Z" fill="#0000ff"/>
<path d="M439.4 1546.2L451.8 1566.7L427 1566.7Z" fill="#0000ff"/>
<path d="M454.2 1547.8L466.6 1568.3L441.8 1568.3Z" fill="#0000ff"/>
<path d="M468.9 1549.4L481.3 1569.9L456.5 1569.9Z" fill="#0000ff"/>
<path d="M483.7 1551L496.1 1571.5L471.3 1571.5Z" fill="#0000ff"/>
<path d="M498.5 1552.7L510.9 1573.2L486.1 1573.2Z" fill="#0000ff"/>
<path d="M513.2 1554.3L525.6 1574.8L500.8 1574.8Z" fill="#0000ff"/>
<path d="M528 1556.1L540.4 1576.6L515.6 1576.6Z" fill="#0000ff"/>
<path d="M542.8 1558.7L555.2 1579.2L530.4 1579.2Z" fill="#0000ff"/>
<path d="M557.5 1563.4L569.9 1583.9L545.1 1583.9Z" fill="#0000ff"/>
<path d="M572.3 1569.5L584.7 1590L559.9 1590Z" fill="#0000ff"/>
<path d="M587.1 1576.4L599.5 1596.9L574.7 1596.9Z" fill="#0000ff"/>
<path d="M601.8 1584.7L614.2 1605.2L589.4 1605.2Z" fill="#0000ff"/>
<path d="M616.6 1594.4L629 1614.9L604.2 1614.9Z" fill="#0000ff"/>
<path d="M631.4 1606.2L643.8 1626.7L619 1626.7Z" fill="#0000ff"/>
<path d="M646.1 1619.7L658.5 1640.2L633.7 1640.2Z" fill="#0000ff"/>
<path d="M660.9 1634L673.3 1654.5L648.5 1654.5Z" fill="#0000ff"/>
<path d="M675.7 1649.2L688.1 1669.7L663.3 1669.7Z" fill="#0000ff"/>
<path d="M690.4 1665.3L702.8 1685.8L678 1685.8Z" fill="#0000ff"/>
<path d="M705.2 1682.4L717.6 1702.9L692.8 1702.9Z" fill="#0000ff"/>
<path d="M720 1700.6L732.4 1721.1L707.6 1721.1Z" fill="#0000ff"/>
<path d="M734.7 1718L747.1 1738.5L722.3 1738.5Z" fill="#0000ff"/>
<path d="M749.5 1734.4L761.9 1754.9L737.1 1754.9Z" fill="#0000ff"/>
<path d="M764.3 1750.5L776.7 1771L751.9 1771Z" fill="#0000ff"/>
<path d="M779 1766.3L791.4 1786.8L766.6 1786.8Z" fill="#0000ff"/>
<path d="M793.8 1781.8L806.2 1802.3L781.4 1802.3Z" fill="#0000ff"/>
<path d="M808.6 1797.2L821 1817.7L796.2 1817.7Z" fill="#0000ff"/>
<path d="M823.3 1812.3L835.7 1832.8L810.9 1832.8Z" fill="#0000ff"/>
<path d="M838.1 1826.5L850.5 1847L825.7 1847Z" fill="#0000ff"/>
<path d="M852.9 1840.1L865.3 1860.6L840.5 1860.6Z" fill="#0000ff"/>
<path d="M867.6 1852.5L880 1873L855.2 1873Z" fill="#0000ff"/>
<path d="M882.4 1862.5L894.8 1883L870 1883Z" fill="#0000ff"/>
<path d="M897.2 1870.9L909.6 1891.4L884.8 1891.4Z" fill="#0000ff"/>
<path d="M912 1877.9L924.4 1898.4L899.6 1898.4Z" fill="#0000ff"/>
<path d="M926.7 1883.4L939.1 1903.9L914.3 1903.9Z" fill="#0000ff"/>
<path d="M941.5 1888.1L953.9 1908.6L929.1 1908.6Z" fill="#0000ff"/>
<path d="M956.3 1892L968.7 1912.5L943.9 1912.5Z" fill="#0000ff"/>
<path d="M971 1895.3L983.4 1915.8L958.6 1915.8Z" fill="#0000ff"/>
<path d="M985.8 1898L998.2 1918.5L973.4 1918.5Z" fill="#0000ff"/>
<path d="M1000.6 1899.6L1013 1920.1L988.2 1920.1Z" fill="#0000ff"/>
<path d="M1015.3 1900.8L1027.7 1921.3L1002.9 1921.3Z" fill="#0000ff"/>
<path d="M1030.1 1901.8L1042.5 1922.3L1017.7 1922.3Z" fill="#0000ff"/>
<path d="M1044.9 1902.6L1057.3 1923.1L1032.5 1923.1Z" fill="#0000ff"/>
<path d="M1059.6 1903.2L1072 1923.7L1047.2 1923.7Z" fill="#0000ff"/>
<path d="M1074.4 1903.6L1086.8 1924.1L1062 1924.1Z" fill="#0000ff"/>
<path d="M1089.2 1904L1101.6 1924.5L1076.8 1924.5Z" fill="#0000ff"/>
<path d="M1103.9 1904.3L1116.3 1924.8L1091.5 1924.8Z" fill="#0000ff"/>
<path d="M1118.7 1904.5L1131.1 1925L1106.3 1925Z" fill="#0000ff"/>
<path d="M1133.5 1904.7L1145.9 1925.2L1121.1 1925.2Z" fill="#0000ff"/>
<path d="M1148.2 1904.9L1160.6 1925.4L1135.8 1925.4Z" fill="#0000ff"/>
<path d="M1163 1905L1175.4 1925.5L1150.6 1925.5Z" fill="#0000ff"/>
<path d="M1177.8 1905.1L1190.2 1925.6L1165.4 1925.6Z" fill="#0000ff"/>
<path d="M1192.5 1905.1L1204.9 1925.6L1180.1 1925.6Z" fill="#0000ff"/>
<path d="M203.1 1544.5L206.4 1544.5L209.7 1544.5L213 1544.5L216.3 1544.5L219.6 1544.5L222.9 1544.6L226.2 1544.6L229.5 1544.6L232.9 1544.7L236.2 1544.7L239.5 1544.7L242.8 1544.8L246.1 1544.8L249.4 1544.8L252.7 1544.9L256 1544.9L259.3 1545L262.6 1545L265.9 1545.1L269.2 1545.2L272.5 1545.3L275.8 1545.4L279.1 1545.6L282.4 1545.8L285.8 1546L289.1 1546.2L292.4 1546.4L295.7 1546.7L299 1546.9L302.3 1547.2L305.6 1547.5L308.9 1547.7L312.2 1548L315.5 1548.3L318.8 1548.5L322.1 1548.8L325.4 1549L328.7 1549.3L332 1549.5L335.3 1549.8L338.6 1550L342 1550.3L345.3 1550.5L348.6 1550.8L351.9 1551.1L355.2 1551.4L358.5 1551.6L361.8 1551.9L365.1 1552.2L368.4 1552.5L371.7 1552.8L375 1553.1L378.3 1553.4L381.6 1553.7L384.9 1554L388.2 1554.3L391.5 1554.7L394.8 1555L398.2 1555.3L401.5 1555.7L404.8 1556L408.1 1556.4L411.4 1556.8L414.7 1557.1L418 1557.5L421.3 1557.9L424.6 1558.2L427.9 1558.6L431.2 1559L434.5 1559.3L437.8 1559.7L441.1 1560.1L444.4 1560.4L447.7 1560.8L451.1 1561.1L454.4 1561.5L457.7 1561.9L461 1562.2L464.3 1562.6L467.6 1562.9L470.9 1563.3L474.2 1563.6L477.5 1564L480.8 1564.4L484.1 1564.8L487.4 1565.1L490.7 1565.5L494 1565.9L497.3 1566.3L500.6 1566.7L503.9 1567L507.3 1567.4L510.6 1567.7L513.9 1568.1L517.2 1568.4L520.5 1568.8L523.8 1569.2L527.1 1569.7L530.4 1570.1L533.7 1570.6L537 1571.2L540.3 1571.8L543.6 1572.6L546.9 1573.5L550.2 1574.5L553.5 1575.6L556.8 1576.8L560.2 1578L563.5 1579.4L566.8 1580.8L570.1 1582.2L573.4 1583.6L576.7 1585.1L580 1586.6L583.3 1588.1L586.6 1589.8L589.9 1591.5L593.2 1593.3L596.5 1595.2L599.8 1597.1L603.1 1599.2L606.4 1601.2L609.7 1603.4L613 1605.6L616.4 1607.9L619.7 1610.3L623 1612.8L626.3 1615.5L629.6 1618.3L632.9 1621.2L636.2 1624.1L639.5 1627.2L642.8 1630.3L646.1 1633.4L649.4 1636.5L652.7 1639.7L656 1642.9L659.3 1646.1L662.6 1649.4L665.9 1652.7L669.2 1656.1L672.6 1659.5L675.9 1663L679.2 1666.6L682.5 1670.2L685.8 1673.8L689.1 1677.4L692.4 1681.1L695.7 1684.8L699 1688.7L702.3 1692.6L705.6 1696.6L708.9 1700.6L712.2 1704.7L715.5 1708.8L718.8 1712.8L722.1 1716.9L725.5 1720.9L728.8 1724.8L732.1 1728.6L735.4 1732.4L738.7 1736.1L742 1739.8L745.3 1743.5L748.6 1747.1L751.9 1750.7L755.2 1754.3L758.5 1757.9L761.8 1761.5L765.1 1765.1L768.4 1768.6L771.7 1772.2L775 1775.7L778.3 1779.2L781.7 1782.7L785 1786.2L788.3 1789.7L791.6 1793.1L794.9 1796.6L798.2 1800L801.5 1803.5L804.8 1806.9L808.1 1810.3L811.4 1813.8L814.7 1817.2L818 1820.6L821.3 1823.9L824.6 1827.2L827.9 1830.5L831.2 1833.7L834.5 1836.8L837.9 1839.9L841.2 1843L844.5 1846.1L847.8 1849.1L851.1 1852.2L854.4 1855.1L857.7 1858L861 1860.8L864.3 1863.6L867.6 1866.1L870.9 1868.6L874.2 1870.9L877.5 1873L880.8 1875.2L884.1 1877.2L887.4 1879.2L890.8 1881.1L894.1 1882.9L897.4 1884.7L900.7 1886.4L904 1888L907.3 1889.5L910.6 1891L913.9 1892.3L917.2 1893.6L920.5 1894.9L923.8 1896.1L927.1 1897.3L930.4 1898.4L933.7 1899.4L937 1900.5L940.3 1901.5L943.6 1902.4L947 1903.3L950.3 1904.1L953.6 1905L956.9 1905.8L960.2 1906.6L963.5 1907.3L966.8 1908.1L970.1 1908.8L973.4 1909.5L976.7 1910.1L980 1910.7L983.3 1911.3L986.6 1911.8L989.9 1912.2L993.2 1912.5L996.5 1912.9L999.9 1913.2L1003.2 1913.5L1006.5 1913.8L1009.8 1914.1L1013.1 1914.3L1016.4 1914.6L1019.7 1914.8L1023 1915.1L1026.3 1915.3L1029.6 1915.5L1032.9 1915.7L1036.2 1915.8L1039.5 1916L1042.8 1916.2L1046.1 1916.3L1049.4 1916.4L1052.7 1916.6L1056.1 1916.7L1059.4 1916.8L1062.7 1916.9L1066 1917L1069.3 1917.2L1072.6 1917.3L1075.9 1917.4L1079.2 1917.4L1082.5 1917.5L1085.8 1917.6L1089.1 1917.7L1092.4 1917.8L1095.7 1917.8L1099 1917.9L1102.3 1917.9L1105.6 1918L1108.9 1918L1112.3 1918.1L1115.6 1918.1L1118.9 1918.2L1122.2 1918.2L1125.5 1918.3L1128.8 1918.3L1132.1 1918.4L1135.4 1918.4L1138.7 1918.4L1142 1918.5L1145.3 1918.5L1148.6 1918.6L1151.9 1918.6L1155.2 1918.6L1158.5 1918.6L1161.8 1918.7L1165.2 1918.7L1168.5 1918.7L1171.8 1918.7L1175.1 1918.8L1178.4 1918.8L1181.7 1918.8L1185 1918.8L1188.3 1918.8L1191.6 1918.8" fill="none" stroke="#000" stroke-width="2.3" stroke-linejoin="round"/>
<path d="M159.6 1442.7L180.6 1430.8L180.6 1454.6Z" fill="#ff00ff"/>
<path d="M174.4 1445.2L195.4 1433.3L195.4 1457.1Z" fill="#ff00ff"/>
<path d="M189.1 1447.5L210.1 1435.6L210.1 1459.4Z" fill="#ff00ff"/>
<path d="M203.9 1449.7L224.9 1437.8L224.9 1461.6Z" fill="#ff00ff"/>
<path d="M218.7 1451.5L239.7 1439.6L239.7 1463.4Z" fill="#ff00ff"/>
<path d="M233.4 1453.3L254.4 1441.4L254.4 1465.2Z" fill="#ff00ff"/>
<path d="M248.2 1454.8L269.2 1442.9L269.2 1466.7Z" fill="#ff00ff"/>
<path d="M263 1456.1L284 1444.2L284 1468Z" fill="#ff00ff"/>
<path d="M277.7 1457L298.7 1445.1L298.7 1468.9Z" fill="#ff00ff"/>
<path d="M292.5 1457.8L313.5 1445.9L313.5 1469.7Z" fill="#ff00ff"/>
<path d="M307.3 1458.6L328.3 1446.7L328.3 1470.5Z" fill="#ff00ff"/>
<path d="M322 1459L343 1447.1L343 1470.9Z" fill="#ff00ff"/>
<path d="M336.8 1459.4L357.8 1447.5L357.8 1471.3Z" fill="#ff00ff"/>
<path d="M351.6 1459.8L372.6 1447.9L372.6 1471.7Z" fill="#ff00ff"/>
<path d="M366.3 1460.3L387.3 1448.4L387.3 1472.2Z" fill="#ff00ff"/>
<path d="M381.1 1460.8L402.1 1448.9L402.1 1472.7Z" fill="#ff00ff"/>
<path d="M395.9 1461.4L416.9 1449.5L416.9 1473.3Z" fill="#ff00ff"/>
<path d="M410.6 1462.2L431.6 1450.3L431.6 1474.1Z" fill="#ff00ff"/>
<path d="M425.4 1463.4L446.4 1451.5L446.4 1475.3Z" fill="#ff00ff"/>
<path d="M440.2 1465.3L461.2 1453.4L461.2 1477.2Z" fill="#ff00ff"/>
<path d="M454.9 1468L475.9 1456.1L475.9 1479.9Z" fill="#ff00ff"/>
<path d="M469.7 1472L490.7 1460.1L490.7 1483.9Z" fill="#ff00ff"/>
<path d="M484.5 1476.7L505.5 1464.8L505.5 1488.6Z" fill="#ff00ff"/>
<path d="M499.2 1483.3L520.2 1471.4L520.2 1495.2Z" fill="#ff00ff"/>
<path d="M514 1494.2L535 1482.3L535 1506.1Z" fill="#ff00ff"/>
<path d="M528.8 1505.6L549.8 1493.7L549.8 1517.5Z" fill="#ff00ff"/>
<path d="M543.5 1517.8L564.5 1505.9L564.5 1529.7Z" fill="#ff00ff"/>
<path d="M558.3 1531L579.3 1519.1L579.3 1542.9Z" fill="#ff00ff"/>
<path d="M573.1 1544.9L594.1 1533L594.1 1556.8Z" fill="#ff00ff"/>
<path d="M587.8 1559.3L608.8 1547.4L608.8 1571.2Z" fill="#ff00ff"/>
<path d="M602.6 1574.6L623.6 1562.7L623.6 1586.5Z" fill="#ff00ff"/>
<path d="M617.4 1590.5L638.4 1578.6L638.4 1602.4Z" fill="#ff00ff"/>
<path d="M632.1 1606.4L653.1 1594.5L653.1 1618.3Z" fill="#ff00ff"/>
<path d="M646.9 1622.5L667.9 1610.6L667.9 1634.4Z" fill="#ff00ff"/>
<path d="M661.7 1638.7L682.7 1626.8L682.7 1650.6Z" fill="#ff00ff"/>
<path d="M676.4 1655.1L697.4 1643.2L697.4 1667Z" fill="#ff00ff"/>
<path d="M691.2 1671.5L712.2 1659.6L712.2 1683.4Z" fill="#ff00ff"/>
<path d="M706 1688L727 1676.1L727 1699.9Z" fill="#ff00ff"/>
<path d="M720.7 1704.6L741.7 1692.7L741.7 1716.5Z" fill="#ff00ff"/>
<path d="M735.5 1721.4L756.5 1709.5L756.5 1733.3Z" fill="#ff00ff"/>
<path d="M750.3 1738.5L771.3 1726.6L771.3 1750.4Z" fill="#ff00ff"/>
<path d="M765 1755.5L786 1743.6L786 1767.4Z" fill="#ff00ff"/>
<path d="M779.8 1772.3L800.8 1760.4L800.8 1784.2Z" fill="#ff00ff"/>
<path d="M794.6 1788.4L815.6 1776.5L815.6 1800.3Z" fill="#ff00ff"/>
<path d="M809.3 1804L830.3 1792.1L830.3 1815.9Z" fill="#ff00ff"/>
<path d="M824.1 1819.4L845.1 1807.5L845.1 1831.3Z" fill="#ff00ff"/>
<path d="M838.9 1834.3L859.9 1822.4L859.9 1846.2Z" fill="#ff00ff"/>
<path d="M853.6 1849.1L874.6 1837.2L874.6 1861Z" fill="#ff00ff"/>
<path d="M868.4 1864.6L889.4 1852.7L889.4 1876.5Z" fill="#ff00ff"/>
<path d="M883.2 1880L904.2 1868.1L904.2 1891.9Z" fill="#ff00ff"/>
<path d="M898 1893.8L919 1881.9L919 1905.7Z" fill="#ff00ff"/>
<path d="M912.7 1906.1L933.7 1894.2L933.7 1918Z" fill="#ff00ff"/>
<path d="M927.5 1916.2L948.5 1904.3L948.5 1928.1Z" fill="#ff00ff"/>
<path d="M942.3 1923.9L963.3 1912L963.3 1935.8Z" fill="#ff00ff"/>
<path d="M957 1929.6L978 1917.7L978 1941.5Z" fill="#ff00ff"/>
<path d="M971.8 1934.2L992.8 1922.3L992.8 1946.1Z" fill="#ff00ff"/>
<path d="M986.6 1937.9L1007.6 1926L1007.6 1949.8Z" fill="#ff00ff"/>
<path d="M1001.3 1940.4L1022.3 1928.5L1022.3 1952.3Z" fill="#ff00ff"/>
<path d="M1016.1 1942L1037.1 1930.1L1037.1 1953.9Z" fill="#ff00ff"/>
<path d="M1030.9 1943.3L1051.9 1931.4L1051.9 1955.2Z" fill="#ff00ff"/>
<path d="M1045.6 1944.2L1066.6 1932.3L1066.6 1956.1Z" fill="#ff00ff"/>
<path d="M1060.4 1945.1L1081.4 1933.2L1081.4 1957Z" fill="#ff00ff"/>
<path d="M1075.2 1945.8L1096.2 1933.9L1096.2 1957.7Z" fill="#ff00ff"/>
<path d="M1089.9 1946.4L1110.9 1934.5L1110.9 1958.3Z" fill="#ff00ff"/>
<path d="M1104.7 1947L1125.7 1935.1L1125.7 1958.9Z" fill="#ff00ff"/>
<path d="M1119.5 1947.5L1140.5 1935.6L1140.5 1959.4Z" fill="#ff00ff"/>
<path d="M1134.2 1948L1155.2 1936.1L1155.2 1959.9Z" fill="#ff00ff"/>
<path d="M1149 1948.4L1170 1936.5L1170 1960.3Z" fill="#ff00ff"/>
<path d="M1163.8 1948.8L1184.8 1936.9L1184.8 1960.7Z" fill="#ff00ff"/>
<path d="M1178.5 1949.1L1199.5 1937.2L1199.5 1961Z" fill="#ff00ff"/>
<path d="M173.2 1446.6L176.6 1447.1L180 1447.6L183.4 1448.1L186.8 1448.6L190.2 1449.1L193.6 1449.5L197 1450L200.4 1450.4L203.9 1450.8L207.3 1451.2L210.7 1451.6L214.1 1452L217.5 1452.4L220.9 1452.8L224.3 1453.1L227.7 1453.4L231.1 1453.8L234.5 1454.1L237.9 1454.4L241.3 1454.7L244.7 1455L248.1 1455.3L251.5 1455.6L254.9 1455.9L258.4 1456.2L261.8 1456.4L265.2 1456.6L268.6 1456.8L272 1457L275.4 1457.2L278.8 1457.3L282.2 1457.5L285.6 1457.6L289 1457.7L292.4 1457.8L295.8 1457.9L299.2 1458L302.6 1458.1L306 1458.2L309.4 1458.3L312.8 1458.4L316.3 1458.5L319.7 1458.6L323.1 1458.7L326.5 1458.7L329.9 1458.8L333.3 1458.9L336.7 1459L340.1 1459.1L343.5 1459.2L346.9 1459.3L350.3 1459.4L353.7 1459.5L357.1 1459.6L360.5 1459.7L363.9 1459.8L367.3 1459.9L370.7 1460L374.2 1460.1L377.6 1460.2L381 1460.3L384.4 1460.4L387.8 1460.5L391.2 1460.6L394.6 1460.7L398 1460.9L401.4 1461L404.8 1461.2L408.2 1461.3L411.6 1461.5L415 1461.7L418.4 1461.9L421.8 1462.1L425.2 1462.3L428.7 1462.5L432.1 1462.8L435.5 1463L438.9 1463.3L442.3 1463.7L445.7 1464.1L449.1 1464.5L452.5 1465L455.9 1465.5L459.3 1466.1L462.7 1466.7L466.1 1467.4L469.5 1468.1L472.9 1468.9L476.3 1469.8L479.7 1470.8L483.1 1471.8L486.6 1472.9L490 1474L493.4 1475.1L496.8 1476.2L500.2 1477.4L503.6 1478.8L507 1480.3L510.4 1482.2L513.8 1484.5L517.2 1487.1L520.6 1489.9L524 1492.9L527.4 1496L530.8 1499L534.2 1502L537.6 1504.9L541.1 1507.7L544.5 1510.7L547.9 1513.6L551.3 1516.6L554.7 1519.6L558.1 1522.6L561.5 1525.7L564.9 1528.7L568.3 1531.8L571.7 1534.9L575.1 1538L578.5 1541.1L581.9 1544.3L585.3 1547.5L588.7 1550.8L592.1 1554L595.5 1557.4L599 1560.7L602.4 1564.2L605.8 1567.6L609.2 1571.2L612.6 1574.7L616 1578.3L619.4 1582L622.8 1585.6L626.2 1589.3L629.6 1593L633 1596.7L636.4 1600.4L639.8 1604.1L643.2 1607.8L646.6 1611.5L650 1615.2L653.4 1618.9L656.9 1622.6L660.3 1626.3L663.7 1630L667.1 1633.7L670.5 1637.5L673.9 1641.2L677.3 1645L680.7 1648.8L684.1 1652.5L687.5 1656.3L690.9 1660.1L694.3 1663.9L697.7 1667.6L701.1 1671.4L704.5 1675.2L707.9 1679L711.4 1682.8L714.8 1686.6L718.2 1690.5L721.6 1694.3L725 1698.1L728.4 1702L731.8 1705.8L735.2 1709.7L738.6 1713.5L742 1717.4L745.4 1721.3L748.8 1725.3L752.2 1729.2L755.6 1733.1L759 1737L762.4 1740.8L765.8 1744.6L769.3 1748.4L772.7 1752.2L776.1 1756L779.5 1759.7L782.9 1763.5L786.3 1767.2L789.7 1770.9L793.1 1774.6L796.5 1778.2L799.9 1781.9L803.3 1785.6L806.7 1789.2L810.1 1792.8L813.5 1796.4L816.9 1800L820.3 1803.6L823.7 1807.2L827.2 1810.7L830.6 1814.2L834 1817.6L837.4 1821.1L840.8 1824.5L844.2 1827.8L847.6 1831.1L851 1834.4L854.4 1837.7L857.8 1840.9L861.2 1844.2L864.6 1847.5L868 1850.7L871.4 1854.1L874.8 1857.4L878.2 1860.9L881.7 1864.3L885.1 1867.8L888.5 1871.3L891.9 1874.7L895.3 1878L898.7 1881.4L902.1 1884.7L905.5 1887.9L908.9 1891.1L912.3 1894.1L915.7 1897.1L919.1 1900L922.5 1902.8L925.9 1905.5L929.3 1908.1L932.7 1910.5L936.1 1912.8L939.6 1915L943 1917.1L946.4 1919L949.8 1920.8L953.2 1922.5L956.6 1924L960 1925.5L963.4 1926.8L966.8 1928.1L970.2 1929.3L973.6 1930.5L977 1931.6L980.4 1932.7L983.8 1933.7L987.2 1934.6L990.6 1935.5L994.1 1936.3L997.5 1937.2L1000.9 1938L1004.3 1938.7L1007.7 1939.3L1011.1 1939.8L1014.5 1940.3L1017.9 1940.7L1021.3 1941.1L1024.7 1941.5L1028.1 1941.8L1031.5 1942.2L1034.9 1942.5L1038.3 1942.8L1041.7 1943L1045.1 1943.3L1048.5 1943.5L1052 1943.8L1055.4 1944L1058.8 1944.2L1062.2 1944.4L1065.6 1944.6L1069 1944.8L1072.4 1945L1075.8 1945.2L1079.2 1945.3L1082.6 1945.5L1086 1945.7L1089.4 1945.8L1092.8 1946L1096.2 1946.1L1099.6 1946.2L1103 1946.4L1106.4 1946.5L1109.9 1946.6L1113.3 1946.8L1116.7 1946.9L1120.1 1947L1123.5 1947.2L1126.9 1947.3L1130.3 1947.4L1133.7 1947.5L1137.1 1947.6L1140.5 1947.8L1143.9 1947.9L1147.3 1948L1150.7 1948.1L1154.1 1948.2L1157.5 1948.3L1160.9 1948.4L1164.4 1948.5L1167.8 1948.6L1171.2 1948.7L1174.6 1948.7L1178 1948.8L1181.4 1948.9L1184.8 1949L1188.2 1949L1191.6 1949.1" fill="none" stroke="#000" stroke-width="2.3" stroke-linejoin="round"/>
<path d="M277 1424.5L289.5 1436.7L277 1448.9L264.5 1436.7Z" fill="#000080"/>
<path d="M291.7 1425.5L304.2 1437.7L291.7 1449.9L279.2 1437.7Z" fill="#000080"/>
<path d="M306.5 1426.4L319 1438.6L306.5 1450.8L294 1438.6Z" fill="#000080"/>
<path d="M321.3 1427.4L333.8 1439.6L321.3 1451.8L308.8 1439.6Z" fill="#000080"/>
<path d="M336 1428.4L348.5 1440.6L336 1452.8L323.5 1440.6Z" fill="#000080"/>
<path d="M350.8 1429.4L363.3 1441.6L350.8 1453.8L338.3 1441.6Z" fill="#000080"/>
<path d="M365.6 1430.4L378.1 1442.6L365.6 1454.8L353.1 1442.6Z" fill="#000080"/>
<path d="M380.3 1431.3L392.8 1443.5L380.3 1455.7L367.8 1443.5Z" fill="#000080"/>
<path d="M395.1 1432L407.6 1444.2L395.1 1456.4L382.6 1444.2Z" fill="#000080"/>
<path d="M409.9 1432.7L422.4 1444.9L409.9 1457.1L397.4 1444.9Z" fill="#000080"/>
<path d="M424.6 1433.6L437.1 1445.8L424.6 1458L412.1 1445.8Z" fill="#000080"/>
<path d="M439.4 1434.9L451.9 1447.1L439.4 1459.3L426.9 1447.1Z" fill="#000080"/>
<path d="M454.2 1437.4L466.7 1449.6L454.2 1461.8L441.7 1449.6Z" fill="#000080"/>
<path d="M468.9 1443L481.4 1455.2L468.9 1467.4L456.4 1455.2Z" fill="#000080"/>
<path d="M483.7 1450.5L496.2 1462.7L483.7 1474.9L471.2 1462.7Z" fill="#000080"/>
<path d="M498.5 1461.1L511 1473.3L498.5 1485.5L486 1473.3Z" fill="#000080"/>
<path d="M513.2 1472.4L525.7 1484.6L513.2 1496.8L500.7 1484.6Z" fill="#000080"/>
<path d="M528 1484.2L540.5 1496.4L528 1508.6L515.5 1496.4Z" fill="#000080"/>
<path d="M542.8 1496.5L555.3 1508.7L542.8 1520.9L530.3 1508.7Z" fill="#000080"/>
<path d="M557.5 1509.5L570 1521.7L557.5 1533.9L545 1521.7Z" fill="#000080"/>
<path d="M572.3 1522.7L584.8 1534.9L572.3 1547.1L559.8 1534.9Z" fill="#000080"/>
<path d="M587.1 1536.5L599.6 1548.7L587.1 1560.9L574.6 1548.7Z" fill="#000080"/>
<path d="M601.8 1550.9L614.3 1563.1L601.8 1575.3L589.3 1563.1Z" fill="#000080"/>
<path d="M616.6 1566.3L629.1 1578.5L616.6 1590.7L604.1 1578.5Z" fill="#000080"/>
<path d="M631.4 1582.2L643.9 1594.4L631.4 1606.6L618.9 1594.4Z" fill="#000080"/>
<path d="M646.1 1598.3L658.6 1610.5L646.1 1622.7L633.6 1610.5Z" fill="#000080"/>
<path d="M660.9 1614.3L673.4 1626.5L660.9 1638.7L648.4 1626.5Z" fill="#000080"/>
<path d="M675.7 1630.5L688.2 1642.7L675.7 1654.9L663.2 1642.7Z" fill="#000080"/>
<path d="M690.4 1646.9L702.9 1659.1L690.4 1671.3L677.9 1659.1Z" fill="#000080"/>
<path d="M705.2 1663.3L717.7 1675.5L705.2 1687.7L692.7 1675.5Z" fill="#000080"/>
<path d="M720 1679.8L732.5 1692L720 1704.2L707.5 1692Z" fill="#000080"/>
<path d="M734.7 1696.5L747.2 1708.7L734.7 1720.9L722.2 1708.7Z" fill="#000080"/>
<path d="M749.5 1713.4L762 1725.6L749.5 1737.8L737 1725.6Z" fill="#000080"/>
<path d="M764.3 1730.2L776.8 1742.4L764.3 1754.6L751.8 1742.4Z" fill="#000080"/>
<path d="M779 1745.6L791.5 1757.8L779 1770L766.5 1757.8Z" fill="#000080"/>
<path d="M793.8 1761.7L806.3 1773.9L793.8 1786.1L781.3 1773.9Z" fill="#000080"/>
<path d="M808.6 1777.6L821.1 1789.8L808.6 1802L796.1 1789.8Z" fill="#000080"/>
<path d="M823.3 1793.3L835.8 1805.5L823.3 1817.7L810.8 1805.5Z" fill="#000080"/>
<path d="M838.1 1808.1L850.6 1820.3L838.1 1832.5L825.6 1820.3Z" fill="#000080"/>
<path d="M852.9 1822.3L865.4 1834.5L852.9 1846.7L840.4 1834.5Z" fill="#000080"/>
<path d="M867.6 1835.4L880.1 1847.6L867.6 1859.8L855.1 1847.6Z" fill="#000080"/>
<path d="M882.4 1846.2L894.9 1858.4L882.4 1870.6L869.9 1858.4Z" fill="#000080"/>
<path d="M897.2 1855.6L909.7 1867.8L897.2 1880L884.7 1867.8Z" fill="#000080"/>
<path d="M912 1863.3L924.5 1875.5L912 1887.7L899.5 1875.5Z" fill="#000080"/>
<path d="M926.7 1869.5L939.2 1881.7L926.7 1893.9L914.2 1881.7Z" fill="#000080"/>
<path d="M941.5 1874.6L954 1886.8L941.5 1899L929 1886.8Z" fill="#000080"/>
<path d="M956.3 1878.3L968.8 1890.5L956.3 1902.7L943.8 1890.5Z" fill="#000080"/>
<path d="M971 1881.3L983.5 1893.5L971 1905.7L958.5 1893.5Z" fill="#000080"/>
<path d="M985.8 1883.5L998.3 1895.7L985.8 1907.9L973.3 1895.7Z" fill="#000080"/>
<path d="M1000.6 1884.8L1013.1 1897L1000.6 1909.2L988.1 1897Z" fill="#000080"/>
<path d="M1015.3 1885.8L1027.8 1898L1015.3 1910.2L1002.8 1898Z" fill="#000080"/>
<path d="M1030.1 1886.6L1042.6 1898.8L1030.1 1911L1017.6 1898.8Z" fill="#000080"/>
<path d="M1044.9 1887.2L1057.4 1899.4L1044.9 1911.6L1032.4 1899.4Z" fill="#000080"/>
<path d="M1059.6 1887.7L1072.1 1899.9L1059.6 1912.1L1047.1 1899.9Z" fill="#000080"/>
<path d="M1074.4 1888.1L1086.9 1900.3L1074.4 1912.5L1061.9 1900.3Z" fill="#000080"/>
<path d="M1089.2 1888.5L1101.7 1900.7L1089.2 1912.9L1076.7 1900.7Z" fill="#000080"/>
<path d="M1103.9 1888.8L1116.4 1901L1103.9 1913.2L1091.4 1901Z" fill="#000080"/>
<path d="M1118.7 1889L1131.2 1901.2L1118.7 1913.4L1106.2 1901.2Z" fill="#000080"/>
<path d="M1133.5 1889.1L1146 1901.3L1133.5 1913.5L1121 1901.3Z" fill="#000080"/>
<path d="M1148.2 1889.3L1160.7 1901.5L1148.2 1913.7L1135.7 1901.5Z" fill="#000080"/>
<path d="M1163 1889.4L1175.5 1901.6L1163 1913.8L1150.5 1901.6Z" fill="#000080"/>
<path d="M1177.8 1889.5L1190.3 1901.7L1177.8 1913.9L1165.3 1901.7Z" fill="#000080"/>
<path d="M1192.5 1889.5L1205 1901.7L1192.5 1913.9L1180 1901.7Z" fill="#000080"/>
<path d="M281.3 1437.5L284.3 1437.7L287.4 1437.9L290.4 1438.1L293.5 1438.3L296.5 1438.5L299.6 1438.7L302.6 1438.9L305.7 1439.1L308.7 1439.3L311.7 1439.5L314.8 1439.7L317.8 1439.9L320.9 1440.1L323.9 1440.3L327 1440.5L330 1440.7L333.1 1440.9L336.1 1441.1L339.1 1441.3L342.2 1441.5L345.2 1441.7L348.3 1441.9L351.3 1442.2L354.4 1442.4L357.4 1442.6L360.5 1442.8L363.5 1443L366.5 1443.2L369.6 1443.4L372.6 1443.6L375.7 1443.7L378.7 1443.9L381.8 1444.1L384.8 1444.3L387.9 1444.4L390.9 1444.5L393.9 1444.7L397 1444.8L400 1445L403.1 1445.1L406.1 1445.2L409.2 1445.4L412.2 1445.5L415.3 1445.7L418.3 1445.9L421.3 1446.1L424.4 1446.3L427.4 1446.5L430.5 1446.7L433.5 1447L436.6 1447.3L439.6 1447.6L442.7 1448L445.7 1448.4L448.7 1448.8L451.8 1449.5L454.8 1450.3L457.9 1451.2L460.9 1452.3L464 1453.5L467 1454.8L470.1 1456.2L473.1 1457.6L476.1 1459.1L479.2 1460.6L482.2 1462.3L485.3 1464.1L488.3 1466.2L491.4 1468.4L494.4 1470.6L497.5 1473L500.5 1475.3L503.5 1477.7L506.6 1480L509.6 1482.3L512.7 1484.7L515.7 1487L518.8 1489.4L521.8 1491.9L524.9 1494.3L527.9 1496.8L530.9 1499.3L534 1501.9L537 1504.4L540.1 1506.9L543.1 1509.5L546.2 1512.1L549.2 1514.8L552.3 1517.5L555.3 1520.2L558.3 1522.9L561.4 1525.6L564.4 1528.3L567.5 1531L570.5 1533.8L573.6 1536.6L576.6 1539.4L579.7 1542.2L582.7 1545L585.7 1547.9L588.8 1550.8L591.8 1553.7L594.9 1556.7L597.9 1559.7L601 1562.8L604 1565.8L607.1 1569L610.1 1572.1L613.1 1575.3L616.2 1578.6L619.2 1581.8L622.3 1585.1L625.3 1588.4L628.4 1591.7L631.4 1595L634.5 1598.3L637.5 1601.6L640.5 1604.9L643.6 1608.2L646.6 1611.5L649.7 1614.8L652.7 1618.1L655.8 1621.4L658.8 1624.7L661.9 1628L664.9 1631.4L667.9 1634.7L671 1638.1L674 1641.4L677.1 1644.8L680.1 1648.1L683.2 1651.5L686.2 1654.9L689.3 1658.2L692.3 1661.6L695.3 1665L698.4 1668.4L701.4 1671.8L704.5 1675.2L707.5 1678.6L710.6 1682L713.6 1685.4L716.7 1688.8L719.7 1692.2L722.7 1695.6L725.8 1699L728.8 1702.5L731.9 1705.9L734.9 1709.4L738 1712.8L741 1716.3L744.1 1719.8L747.1 1723.3L750.2 1726.8L753.2 1730.3L756.2 1733.8L759.3 1737.3L762.3 1740.7L765.4 1744.1L768.4 1747.5L771.5 1750.9L774.5 1754.3L777.6 1757.6L780.6 1761L783.6 1764.3L786.7 1767.6L789.7 1770.9L792.8 1774.2L795.8 1777.5L798.9 1780.8L801.9 1784.1L805 1787.4L808 1790.6L811 1793.9L814.1 1797.2L817.1 1800.4L820.2 1803.6L823.2 1806.8L826.3 1810L829.3 1813.1L832.4 1816.1L835.4 1819.1L838.4 1822.1L841.5 1825L844.5 1828L847.6 1831L850.6 1833.9L853.7 1836.8L856.7 1839.6L859.8 1842.4L862.8 1845L865.8 1847.6L868.9 1850.1L871.9 1852.5L875 1854.7L878 1856.9L881.1 1859L884.1 1861.1L887.2 1863.1L890.2 1865L893.2 1866.9L896.3 1868.8L899.3 1870.5L902.4 1872.2L905.4 1873.8L908.5 1875.3L911.5 1876.8L914.6 1878.1L917.6 1879.4L920.6 1880.7L923.7 1882L926.7 1883.2L929.8 1884.3L932.8 1885.4L935.9 1886.5L938.9 1887.5L942 1888.4L945 1889.3L948 1890.1L951.1 1890.9L954.1 1891.6L957.2 1892.2L960.2 1892.9L963.3 1893.5L966.3 1894.2L969.4 1894.7L972.4 1895.3L975.4 1895.8L978.5 1896.3L981.5 1896.7L984.6 1897.1L987.6 1897.4L990.7 1897.7L993.7 1898L996.8 1898.2L999.8 1898.5L1002.8 1898.7L1005.9 1898.9L1008.9 1899.1L1012 1899.3L1015 1899.5L1018.1 1899.7L1021.1 1899.8L1024.2 1900L1027.2 1900.1L1030.2 1900.3L1033.3 1900.4L1036.3 1900.5L1039.4 1900.7L1042.4 1900.8L1045.5 1900.9L1048.5 1901L1051.6 1901.1L1054.6 1901.2L1057.6 1901.3L1060.7 1901.4L1063.7 1901.5L1066.8 1901.6L1069.8 1901.7L1072.9 1901.8L1075.9 1901.9L1079 1902L1082 1902L1085 1902.1L1088.1 1902.2L1091.1 1902.2L1094.2 1902.3L1097.2 1902.4L1100.3 1902.4L1103.3 1902.5L1106.4 1902.5L1109.4 1902.5L1112.4 1902.6L1115.5 1902.6L1118.5 1902.7L1121.6 1902.7L1124.6 1902.7L1127.7 1902.8L1130.7 1902.8L1133.8 1902.8L1136.8 1902.9L1139.8 1902.9L1142.9 1902.9L1145.9 1903L1149 1903L1152 1903L1155.1 1903L1158.1 1903.1L1161.2 1903.1L1164.2 1903.1L1167.2 1903.1L1170.3 1903.1L1173.3 1903.2L1176.4 1903.2L1179.4 1903.2L1182.5 1903.2L1185.5 1903.2L1188.6 1903.2L1191.6 1903.2" fill="none" stroke="#000" stroke-width="2.3" stroke-linejoin="round"/>
<circle cx="306.5" cy="1430.6" r="10.4" fill="#108010"/>
<circle cx="321.3" cy="1441" r="10.4" fill="#108010"/>
<circle cx="336" cy="1441.2" r="10.4" fill="#108010"/>
<circle cx="350.8" cy="1440.9" r="10.4" fill="#108010"/>
<circle cx="365.6" cy="1440.5" r="10.4" fill="#108010"/>
<circle cx="380.3" cy="1439" r="10.4" fill="#108010"/>
<circle cx="395.1" cy="1437.9" r="10.4" fill="#108010"/>
<circle cx="409.9" cy="1436.7" r="10.4" fill="#108010"/>
<circle cx="424.6" cy="1436.1" r="10.4" fill="#108010"/>
<circle cx="439.4" cy="1436.2" r="10.4" fill="#108010"/>
<circle cx="454.2" cy="1437.1" r="10.4" fill="#108010"/>
<circle cx="468.9" cy="1439.3" r="10.4" fill="#108010"/>
<circle cx="483.7" cy="1444.1" r="10.4" fill="#108010"/>
<circle cx="498.5" cy="1450.5" r="10.4" fill="#108010"/>
<circle cx="513.2" cy="1459" r="10.4" fill="#108010"/>
<circle cx="528" cy="1467.7" r="10.4" fill="#108010"/>
<circle cx="542.8" cy="1477.2" r="10.4" fill="#108010"/>
<circle cx="557.5" cy="1488.2" r="10.4" fill="#108010"/>
<circle cx="572.3" cy="1500.9" r="10.4" fill="#108010"/>
<circle cx="587.1" cy="1514.6" r="10.4" fill="#108010"/>
<circle cx="601.8" cy="1528.8" r="10.4" fill="#108010"/>
<circle cx="616.6" cy="1543.7" r="10.4" fill="#108010"/>
<circle cx="631.4" cy="1559.3" r="10.4" fill="#108010"/>
<circle cx="646.1" cy="1575.1" r="10.4" fill="#108010"/>
<circle cx="660.9" cy="1591.1" r="10.4" fill="#108010"/>
<circle cx="675.7" cy="1607.4" r="10.4" fill="#108010"/>
<circle cx="690.4" cy="1623.8" r="10.4" fill="#108010"/>
<circle cx="705.2" cy="1640.3" r="10.4" fill="#108010"/>
<circle cx="720" cy="1657" r="10.4" fill="#108010"/>
<circle cx="734.7" cy="1673.8" r="10.4" fill="#108010"/>
<circle cx="749.5" cy="1690.7" r="10.4" fill="#108010"/>
<circle cx="764.3" cy="1707.4" r="10.4" fill="#108010"/>
<circle cx="779" cy="1724.4" r="10.4" fill="#108010"/>
<circle cx="793.8" cy="1740.2" r="10.4" fill="#108010"/>
<circle cx="808.6" cy="1754" r="10.4" fill="#108010"/>
<circle cx="823.3" cy="1766.4" r="10.4" fill="#108010"/>
<circle cx="838.1" cy="1776.5" r="10.4" fill="#108010"/>
<circle cx="852.9" cy="1786.8" r="10.4" fill="#108010"/>
<circle cx="867.6" cy="1793.7" r="10.4" fill="#108010"/>
<circle cx="882.4" cy="1799.3" r="10.4" fill="#108010"/>
<circle cx="897.2" cy="1804" r="10.4" fill="#108010"/>
<circle cx="912" cy="1807.8" r="10.4" fill="#108010"/>
<circle cx="926.7" cy="1810.7" r="10.4" fill="#108010"/>
<circle cx="941.5" cy="1813.2" r="10.4" fill="#108010"/>
<circle cx="956.3" cy="1814.8" r="10.4" fill="#108010"/>
<circle cx="971" cy="1816" r="10.4" fill="#108010"/>
<circle cx="985.8" cy="1817" r="10.4" fill="#108010"/>
<circle cx="1000.6" cy="1817.8" r="10.4" fill="#108010"/>
<circle cx="1015.3" cy="1818.3" r="10.4" fill="#108010"/>
<circle cx="1030.1" cy="1818.7" r="10.4" fill="#108010"/>
<circle cx="1044.9" cy="1819.1" r="10.4" fill="#108010"/>
<circle cx="1059.6" cy="1819.4" r="10.4" fill="#108010"/>
<circle cx="1074.4" cy="1819.7" r="10.4" fill="#108010"/>
<circle cx="1089.2" cy="1819.9" r="10.4" fill="#108010"/>
<circle cx="1103.9" cy="1820" r="10.4" fill="#108010"/>
<circle cx="1118.7" cy="1820" r="10.4" fill="#108010"/>
<circle cx="1133.5" cy="1820.1" r="10.4" fill="#108010"/>
<circle cx="1148.2" cy="1820.1" r="10.4" fill="#108010"/>
<circle cx="1163" cy="1820.2" r="10.4" fill="#108010"/>
<circle cx="1177.8" cy="1820.2" r="10.4" fill="#108010"/>
<circle cx="1192.5" cy="1820.2" r="10.4" fill="#108010"/>
<path d="M310.2 1441.4L313.1 1441.6L316.1 1441.8L319 1441.9L322 1442L324.9 1442.1L327.9 1442.1L330.8 1442.2L333.8 1442.2L336.7 1442.2L339.7 1442.2L342.6 1442.2L345.6 1442.2L348.5 1442.1L351.5 1441.9L354.4 1441.7L357.4 1441.4L360.3 1441.1L363.3 1440.8L366.2 1440.5L369.2 1440.1L372.1 1439.8L375.1 1439.5L378 1439.2L380.9 1439L383.9 1438.7L386.8 1438.5L389.8 1438.3L392.7 1438L395.7 1437.8L398.6 1437.6L401.6 1437.3L404.5 1437.1L407.5 1436.9L410.4 1436.7L413.4 1436.5L416.3 1436.4L419.3 1436.2L422.2 1436.1L425.2 1436.1L428.1 1436L431.1 1436L434 1436L437 1436.1L439.9 1436.2L442.9 1436.3L445.8 1436.5L448.7 1436.7L451.7 1436.9L454.6 1437.1L457.6 1437.4L460.5 1437.7L463.5 1438.1L466.4 1438.7L469.4 1439.4L472.3 1440.2L475.3 1441.1L478.2 1442.1L481.2 1443.2L484.1 1444.2L487.1 1445.3L490 1446.5L493 1447.7L495.9 1449.2L498.9 1450.7L501.8 1452.3L504.8 1454L507.7 1455.7L510.7 1457.5L513.6 1459.2L516.5 1461L519.5 1462.7L522.4 1464.4L525.4 1466.1L528.3 1467.9L531.3 1469.7L534.2 1471.6L537.2 1473.5L540.1 1475.4L543.1 1477.4L546 1479.5L549 1481.6L551.9 1483.8L554.9 1486.1L557.8 1488.5L560.8 1490.9L563.7 1493.4L566.7 1495.9L569.6 1498.5L572.6 1501.1L575.5 1503.8L578.5 1506.5L581.4 1509.3L584.3 1512.1L587.3 1514.8L590.2 1517.6L593.2 1520.4L596.1 1523.3L599.1 1526.1L602 1529L605 1531.9L607.9 1534.8L610.9 1537.8L613.8 1540.9L616.8 1543.9L619.7 1547L622.7 1550.1L625.6 1553.2L628.6 1556.3L631.5 1559.5L634.5 1562.6L637.4 1565.8L640.4 1568.9L643.3 1572.1L646.3 1575.3L649.2 1578.4L652.1 1581.6L655.1 1584.8L658 1588L661 1591.2L663.9 1594.5L666.9 1597.7L669.8 1601L672.8 1604.2L675.7 1607.5L678.7 1610.8L681.6 1614L684.6 1617.3L687.5 1620.6L690.5 1623.9L693.4 1627.2L696.4 1630.4L699.3 1633.7L702.3 1637L705.2 1640.3L708.2 1643.6L711.1 1647L714.1 1650.3L717 1653.6L719.9 1656.9L722.9 1660.3L725.8 1663.6L728.8 1667L731.7 1670.4L734.7 1673.8L737.6 1677.1L740.6 1680.5L743.5 1683.9L746.5 1687.3L749.4 1690.6L752.4 1694L755.3 1697.3L758.3 1700.6L761.2 1704L764.2 1707.3L767.1 1710.7L770.1 1714.1L773 1717.5L776 1720.9L778.9 1724.3L781.9 1727.6L784.8 1730.8L787.7 1734L790.7 1737.1L793.6 1740.1L796.6 1742.9L799.5 1745.7L802.5 1748.4L805.4 1751.1L808.4 1753.8L811.3 1756.4L814.3 1759L817.2 1761.4L820.2 1763.9L823.1 1766.2L826.1 1768.4L829 1770.6L832 1772.6L834.9 1774.5L837.9 1776.4L840.8 1778.1L843.8 1779.8L846.7 1781.5L849.7 1783.1L852.6 1784.7L855.5 1786.2L858.5 1787.6L861.4 1789L864.4 1790.3L867.3 1791.6L870.3 1792.8L873.2 1794L876.2 1795.1L879.1 1796.1L882.1 1797.2L885 1798.2L888 1799.2L890.9 1800.1L893.9 1801L896.8 1801.9L899.8 1802.7L902.7 1803.5L905.7 1804.3L908.6 1805L911.6 1805.7L914.5 1806.3L917.5 1806.9L920.4 1807.5L923.3 1808.1L926.3 1808.7L929.2 1809.2L932.2 1809.7L935.1 1810.2L938.1 1810.7L941 1811.1L944 1811.5L946.9 1811.9L949.9 1812.2L952.8 1812.5L955.8 1812.8L958.7 1813L961.7 1813.3L964.6 1813.5L967.6 1813.8L970.5 1814L973.5 1814.2L976.4 1814.4L979.4 1814.6L982.3 1814.8L985.3 1815L988.2 1815.2L991.1 1815.3L994.1 1815.5L997 1815.6L1000 1815.7L1002.9 1815.9L1005.9 1816L1008.8 1816.1L1011.8 1816.2L1014.7 1816.3L1017.7 1816.3L1020.6 1816.4L1023.6 1816.5L1026.5 1816.6L1029.5 1816.7L1032.4 1816.8L1035.4 1816.8L1038.3 1816.9L1041.3 1817L1044.2 1817.1L1047.2 1817.1L1050.1 1817.2L1053.1 1817.3L1056 1817.3L1058.9 1817.4L1061.9 1817.5L1064.8 1817.5L1067.8 1817.6L1070.7 1817.6L1073.7 1817.7L1076.6 1817.7L1079.6 1817.8L1082.5 1817.8L1085.5 1817.8L1088.4 1817.9L1091.4 1817.9L1094.3 1817.9L1097.3 1817.9L1100.2 1818L1103.2 1818L1106.1 1818L1109.1 1818L1112 1818L1115 1818L1117.9 1818L1120.9 1818.1L1123.8 1818.1L1126.7 1818.1L1129.7 1818.1L1132.6 1818.1L1135.6 1818.1L1138.5 1818.1L1141.5 1818.1L1144.4 1818.1L1147.4 1818.1L1150.3 1818.1L1153.3 1818.2L1156.2 1818.2L1159.2 1818.2L1162.1 1818.2L1165.1 1818.2L1168 1818.2L1171 1818.2L1173.9 1818.2L1176.9 1818.2L1179.8 1818.2L1182.8 1818.2L1185.7 1818.2L1188.7 1818.2L1191.6 1818.2" fill="none" stroke="#000" stroke-width="2.3" stroke-linejoin="round"/>
</g>
<rect x="158.7" y="1213.6" width="1040.1" height="759.8" fill="none" stroke="#000" stroke-width="4.4"/>
<line x1="202.9" y1="1973.4" x2="202.9" y2="1964.9" stroke="#000" stroke-width="3.2" />
<line x1="228.6" y1="1973.4" x2="228.6" y2="1964.9" stroke="#000" stroke-width="3.2" />
<line x1="246.9" y1="1973.4" x2="246.9" y2="1964.9" stroke="#000" stroke-width="3.2" />
<line x1="261" y1="1973.4" x2="261" y2="1964.9" stroke="#000" stroke-width="3.2" />
<line x1="272.6" y1="1973.4" x2="272.6" y2="1964.9" stroke="#000" stroke-width="3.2" />
<line x1="282.4" y1="1973.4" x2="282.4" y2="1964.9" stroke="#000" stroke-width="3.2" />
<line x1="290.8" y1="1973.4" x2="290.8" y2="1964.9" stroke="#000" stroke-width="3.2" />
<line x1="298.3" y1="1973.4" x2="298.3" y2="1964.9" stroke="#000" stroke-width="3.2" />
<line x1="305" y1="1973.4" x2="305" y2="1956.9" stroke="#000" stroke-width="3.2" />
<line x1="349" y1="1973.4" x2="349" y2="1964.9" stroke="#000" stroke-width="3.2" />
<line x1="374.7" y1="1973.4" x2="374.7" y2="1964.9" stroke="#000" stroke-width="3.2" />
<line x1="393" y1="1973.4" x2="393" y2="1964.9" stroke="#000" stroke-width="3.2" />
<line x1="407.1" y1="1973.4" x2="407.1" y2="1964.9" stroke="#000" stroke-width="3.2" />
<line x1="418.7" y1="1973.4" x2="418.7" y2="1964.9" stroke="#000" stroke-width="3.2" />
<line x1="428.5" y1="1973.4" x2="428.5" y2="1964.9" stroke="#000" stroke-width="3.2" />
<line x1="436.9" y1="1973.4" x2="436.9" y2="1964.9" stroke="#000" stroke-width="3.2" />
<line x1="444.4" y1="1973.4" x2="444.4" y2="1964.9" stroke="#000" stroke-width="3.2" />
<line x1="451.1" y1="1973.4" x2="451.1" y2="1956.9" stroke="#000" stroke-width="3.2" />
<line x1="495.1" y1="1973.4" x2="495.1" y2="1964.9" stroke="#000" stroke-width="3.2" />
<line x1="520.8" y1="1973.4" x2="520.8" y2="1964.9" stroke="#000" stroke-width="3.2" />
<line x1="539.1" y1="1973.4" x2="539.1" y2="1964.9" stroke="#000" stroke-width="3.2" />
<line x1="553.2" y1="1973.4" x2="553.2" y2="1964.9" stroke="#000" stroke-width="3.2" />
<line x1="564.8" y1="1973.4" x2="564.8" y2="1964.9" stroke="#000" stroke-width="3.2" />
<line x1="574.6" y1="1973.4" x2="574.6" y2="1964.9" stroke="#000" stroke-width="3.2" />
<line x1="583" y1="1973.4" x2="583" y2="1964.9" stroke="#000" stroke-width="3.2" />
<line x1="590.5" y1="1973.4" x2="590.5" y2="1964.9" stroke="#000" stroke-width="3.2" />
<line x1="597.2" y1="1973.4" x2="597.2" y2="1956.9" stroke="#000" stroke-width="3.2" />
<line x1="641.2" y1="1973.4" x2="641.2" y2="1964.9" stroke="#000" stroke-width="3.2" />
<line x1="666.9" y1="1973.4" x2="666.9" y2="1964.9" stroke="#000" stroke-width="3.2" />
<line x1="685.2" y1="1973.4" x2="685.2" y2="1964.9" stroke="#000" stroke-width="3.2" />
<line x1="699.3" y1="1973.4" x2="699.3" y2="1964.9" stroke="#000" stroke-width="3.2" />
<line x1="710.9" y1="1973.4" x2="710.9" y2="1964.9" stroke="#000" stroke-width="3.2" />
<line x1="720.7" y1="1973.4" x2="720.7" y2="1964.9" stroke="#000" stroke-width="3.2" />
<line x1="729.1" y1="1973.4" x2="729.1" y2="1964.9" stroke="#000" stroke-width="3.2" />
<line x1="736.6" y1="1973.4" x2="736.6" y2="1964.9" stroke="#000" stroke-width="3.2" />
<line x1="743.3" y1="1973.4" x2="743.3" y2="1956.9" stroke="#000" stroke-width="3.2" />
<line x1="787.3" y1="1973.4" x2="787.3" y2="1964.9" stroke="#000" stroke-width="3.2" />
<line x1="813" y1="1973.4" x2="813" y2="1964.9" stroke="#000" stroke-width="3.2" />
<line x1="831.3" y1="1973.4" x2="831.3" y2="1964.9" stroke="#000" stroke-width="3.2" />
<line x1="845.4" y1="1973.4" x2="845.4" y2="1964.9" stroke="#000" stroke-width="3.2" />
<line x1="857" y1="1973.4" x2="857" y2="1964.9" stroke="#000" stroke-width="3.2" />
<line x1="866.8" y1="1973.4" x2="866.8" y2="1964.9" stroke="#000" stroke-width="3.2" />
<line x1="875.2" y1="1973.4" x2="875.2" y2="1964.9" stroke="#000" stroke-width="3.2" />
<line x1="882.7" y1="1973.4" x2="882.7" y2="1964.9" stroke="#000" stroke-width="3.2" />
<line x1="889.4" y1="1973.4" x2="889.4" y2="1956.9" stroke="#000" stroke-width="3.2" />
<line x1="933.4" y1="1973.4" x2="933.4" y2="1964.9" stroke="#000" stroke-width="3.2" />
<line x1="959.1" y1="1973.4" x2="959.1" y2="1964.9" stroke="#000" stroke-width="3.2" />
<line x1="977.4" y1="1973.4" x2="977.4" y2="1964.9" stroke="#000" stroke-width="3.2" />
<line x1="991.5" y1="1973.4" x2="991.5" y2="1964.9" stroke="#000" stroke-width="3.2" />
<line x1="1003.1" y1="1973.4" x2="1003.1" y2="1964.9" stroke="#000" stroke-width="3.2" />
<line x1="1012.9" y1="1973.4" x2="1012.9" y2="1964.9" stroke="#000" stroke-width="3.2" />
<line x1="1021.3" y1="1973.4" x2="1021.3" y2="1964.9" stroke="#000" stroke-width="3.2" />
<line x1="1028.8" y1="1973.4" x2="1028.8" y2="1964.9" stroke="#000" stroke-width="3.2" />
<line x1="1035.5" y1="1973.4" x2="1035.5" y2="1956.9" stroke="#000" stroke-width="3.2" />
<line x1="1079.5" y1="1973.4" x2="1079.5" y2="1964.9" stroke="#000" stroke-width="3.2" />
<line x1="1105.2" y1="1973.4" x2="1105.2" y2="1964.9" stroke="#000" stroke-width="3.2" />
<line x1="1123.5" y1="1973.4" x2="1123.5" y2="1964.9" stroke="#000" stroke-width="3.2" />
<line x1="1137.6" y1="1973.4" x2="1137.6" y2="1964.9" stroke="#000" stroke-width="3.2" />
<line x1="1149.2" y1="1973.4" x2="1149.2" y2="1964.9" stroke="#000" stroke-width="3.2" />
<line x1="1159" y1="1973.4" x2="1159" y2="1964.9" stroke="#000" stroke-width="3.2" />
<line x1="1167.4" y1="1973.4" x2="1167.4" y2="1964.9" stroke="#000" stroke-width="3.2" />
<line x1="1174.9" y1="1973.4" x2="1174.9" y2="1964.9" stroke="#000" stroke-width="3.2" />
<line x1="1181.6" y1="1973.4" x2="1181.6" y2="1956.9" stroke="#000" stroke-width="3.2" />
<line x1="158.7" y1="1915.8" x2="167.2" y2="1915.8" stroke="#000" stroke-width="3.2" />
<line x1="158.7" y1="1882.4" x2="167.2" y2="1882.4" stroke="#000" stroke-width="3.2" />
<line x1="158.7" y1="1858.7" x2="167.2" y2="1858.7" stroke="#000" stroke-width="3.2" />
<line x1="158.7" y1="1840.3" x2="167.2" y2="1840.3" stroke="#000" stroke-width="3.2" />
<line x1="158.7" y1="1825.2" x2="167.2" y2="1825.2" stroke="#000" stroke-width="3.2" />
<line x1="158.7" y1="1812.5" x2="167.2" y2="1812.5" stroke="#000" stroke-width="3.2" />
<line x1="158.7" y1="1801.5" x2="167.2" y2="1801.5" stroke="#000" stroke-width="3.2" />
<line x1="158.7" y1="1791.8" x2="167.2" y2="1791.8" stroke="#000" stroke-width="3.2" />
<line x1="158.7" y1="1783.1" x2="175.2" y2="1783.1" stroke="#000" stroke-width="3.2" />
<line x1="158.7" y1="1725.9" x2="167.2" y2="1725.9" stroke="#000" stroke-width="3.2" />
<line x1="158.7" y1="1692.5" x2="167.2" y2="1692.5" stroke="#000" stroke-width="3.2" />
<line x1="158.7" y1="1668.8" x2="167.2" y2="1668.8" stroke="#000" stroke-width="3.2" />
<line x1="158.7" y1="1650.4" x2="167.2" y2="1650.4" stroke="#000" stroke-width="3.2" />
<line x1="158.7" y1="1635.3" x2="167.2" y2="1635.3" stroke="#000" stroke-width="3.2" />
<line x1="158.7" y1="1622.6" x2="167.2" y2="1622.6" stroke="#000" stroke-width="3.2" />
<line x1="158.7" y1="1611.6" x2="167.2" y2="1611.6" stroke="#000" stroke-width="3.2" />
<line x1="158.7" y1="1601.9" x2="167.2" y2="1601.9" stroke="#000" stroke-width="3.2" />
<line x1="158.7" y1="1593.2" x2="175.2" y2="1593.2" stroke="#000" stroke-width="3.2" />
<line x1="158.7" y1="1536" x2="167.2" y2="1536" stroke="#000" stroke-width="3.2" />
<line x1="158.7" y1="1502.6" x2="167.2" y2="1502.6" stroke="#000" stroke-width="3.2" />
<line x1="158.7" y1="1478.9" x2="167.2" y2="1478.9" stroke="#000" stroke-width="3.2" />
<line x1="158.7" y1="1460.5" x2="167.2" y2="1460.5" stroke="#000" stroke-width="3.2" />
<line x1="158.7" y1="1445.4" x2="167.2" y2="1445.4" stroke="#000" stroke-width="3.2" />
<line x1="158.7" y1="1432.7" x2="167.2" y2="1432.7" stroke="#000" stroke-width="3.2" />
<line x1="158.7" y1="1421.7" x2="167.2" y2="1421.7" stroke="#000" stroke-width="3.2" />
<line x1="158.7" y1="1412" x2="167.2" y2="1412" stroke="#000" stroke-width="3.2" />
<line x1="158.7" y1="1403.3" x2="175.2" y2="1403.3" stroke="#000" stroke-width="3.2" />
<line x1="158.7" y1="1346.1" x2="167.2" y2="1346.1" stroke="#000" stroke-width="3.2" />
<line x1="158.7" y1="1312.7" x2="167.2" y2="1312.7" stroke="#000" stroke-width="3.2" />
<line x1="158.7" y1="1289" x2="167.2" y2="1289" stroke="#000" stroke-width="3.2" />
<line x1="158.7" y1="1270.6" x2="167.2" y2="1270.6" stroke="#000" stroke-width="3.2" />
<line x1="158.7" y1="1255.5" x2="167.2" y2="1255.5" stroke="#000" stroke-width="3.2" />
<line x1="158.7" y1="1242.8" x2="167.2" y2="1242.8" stroke="#000" stroke-width="3.2" />
<line x1="158.7" y1="1231.8" x2="167.2" y2="1231.8" stroke="#000" stroke-width="3.2" />
<line x1="158.7" y1="1222.1" x2="167.2" y2="1222.1" stroke="#000" stroke-width="3.2" />
<text x="158.9" y="2018.4" font-size="29" text-anchor="middle" font-family="Liberation Serif, serif">10<tspan font-size="18" dy="-13.5">-2</tspan></text>
<text x="305" y="2018.4" font-size="29" text-anchor="middle" font-family="Liberation Serif, serif">10<tspan font-size="18" dy="-13.5">-1</tspan></text>
<text x="451.1" y="2018.4" font-size="29" text-anchor="middle" font-family="Liberation Serif, serif">10<tspan font-size="18" dy="-13.5">0</tspan></text>
<text x="597.2" y="2018.4" font-size="29" text-anchor="middle" font-family="Liberation Serif, serif">10<tspan font-size="18" dy="-13.5">1</tspan></text>
<text x="743.3" y="2018.4" font-size="29" text-anchor="middle" font-family="Liberation Serif, serif">10<tspan font-size="18" dy="-13.5">2</tspan></text>
<text x="889.4" y="2018.4" font-size="29" text-anchor="middle" font-family="Liberation Serif, serif">10<tspan font-size="18" dy="-13.5">3</tspan></text>
<text x="1035.5" y="2018.4" font-size="29" text-anchor="middle" font-family="Liberation Serif, serif">10<tspan font-size="18" dy="-13.5">4</tspan></text>
<text x="1181.6" y="2018.4" font-size="29" text-anchor="middle" font-family="Liberation Serif, serif">10<tspan font-size="18" dy="-13.5">5</tspan></text>
<text x="141.5" y="1984.3" font-size="29" text-anchor="end" font-family="Liberation Serif, serif">10<tspan font-size="18" dy="-13.5">1</tspan></text>
<text x="141.5" y="1794.4" font-size="29" text-anchor="end" font-family="Liberation Serif, serif">10<tspan font-size="18" dy="-13.5">2</tspan></text>
<text x="141.5" y="1604.5" font-size="29" text-anchor="end" font-family="Liberation Serif, serif">10<tspan font-size="18" dy="-13.5">3</tspan></text>
<text x="141.5" y="1414.6" font-size="29" text-anchor="end" font-family="Liberation Serif, serif">10<tspan font-size="18" dy="-13.5">4</tspan></text>
<text x="141.5" y="1224.7" font-size="29" text-anchor="end" font-family="Liberation Serif, serif">10<tspan font-size="18" dy="-13.5">5</tspan></text>
<text x="678.8" y="2054.6" font-size="37.9" text-anchor="middle" font-weight="bold" font-family="Liberation Serif, serif" >Frequency (Hz)</text>
<g transform="translate(94.3,1694) rotate(-90)"><text x="0" y="0" font-size="38" font-weight="bold" font-family="Liberation Serif, serif">|Z| (ohm.cm<tspan font-size="23" dy="-27">2</tspan><tspan dy="19">)</tspan></text></g>
<rect x="925.6" y="1247.4" width="19.3" height="19.3" fill="#000000"/>
<path d="M935.2 1289.8L947.6 1310.2L922.8 1310.2Z" fill="#0000ff"/>
<path d="M921.4 1348.9L943.4 1337L943.4 1360.8Z" fill="#ff00ff"/>
<path d="M935.4 1382.1L947.9 1394.3L935.4 1406.5L922.9 1394.3Z" fill="#000080"/>
<circle cx="935" cy="1440.2" r="10.4" fill="#108010"/>
<text x="988" y="1269" font-size="36.3" text-anchor="start" font-weight="normal" font-family="Liberation Serif, serif" >AZ91D</text>
<text x="988" y="1314.7" font-size="36.3" text-anchor="start" font-weight="normal" font-family="Liberation Serif, serif" >0 d</text>
<text x="988" y="1360.8" font-size="36.3" text-anchor="start" font-weight="normal" font-family="Liberation Serif, serif" >1 d</text>
<text x="988" y="1406" font-size="36.3" text-anchor="start" font-weight="normal" font-family="Liberation Serif, serif" >2 d</text>
<text x="988" y="1452.3" font-size="36.3" text-anchor="start" font-weight="normal" font-family="Liberation Serif, serif" >3 d</text>
<line x1="853" y1="1490.3" x2="921" y2="1490.3" stroke="#000" stroke-width="2" />
<text x="937" y="1502.6" font-size="36.5" text-anchor="start" font-weight="normal" font-family="Liberation Serif, serif" >Fitted curves</text>
</g>
<g id="plotC">
<clipPath id="clipC"><rect x="1447.4" y="1189.5" width="1064.5" height="798.1"/></clipPath>
<g clip-path="url(#clipC)">
<rect x="1453.8" y="1887" width="18.5" height="18.5" fill="#000000"/>
<rect x="1468.8" y="1877.6" width="18.5" height="18.5" fill="#000000"/>
<rect x="1484.7" y="1893.5" width="18.5" height="18.5" fill="#000000"/>
<rect x="1500.7" y="1875.4" width="18.5" height="18.5" fill="#000000"/>
<rect x="1515.3" y="1854.3" width="18.5" height="18.5" fill="#000000"/>
<rect x="1530.6" y="1879" width="18.5" height="18.5" fill="#000000"/>
<rect x="1546.3" y="1852.1" width="18.5" height="18.5" fill="#000000"/>
<rect x="1561.1" y="1863.8" width="18.5" height="18.5" fill="#000000"/>
<rect x="1576.6" y="1860.1" width="18.5" height="18.5" fill="#000000"/>
<rect x="1592.1" y="1858" width="18.5" height="18.5" fill="#000000"/>
<rect x="1607.6" y="1855.8" width="18.5" height="18.5" fill="#000000"/>
<rect x="1622.5" y="1881.2" width="18.5" height="18.5" fill="#000000"/>
<rect x="1638.2" y="1867.4" width="18.5" height="18.5" fill="#000000"/>
<rect x="1653.7" y="1867.4" width="18.5" height="18.5" fill="#000000"/>
<rect x="1669" y="1878.3" width="18.5" height="18.5" fill="#000000"/>
<rect x="1684" y="1882.6" width="18.5" height="18.5" fill="#000000"/>
<rect x="1699.5" y="1887.7" width="18.5" height="18.5" fill="#000000"/>
<rect x="1715" y="1896.4" width="18.5" height="18.5" fill="#000000"/>
<rect x="1730.5" y="1903.7" width="18.5" height="18.5" fill="#000000"/>
<rect x="1745.6" y="1919.7" width="18.5" height="18.5" fill="#000000"/>
<rect x="1761.5" y="1931.3" width="18.5" height="18.5" fill="#000000"/>
<rect x="1777" y="1929.8" width="18.5" height="18.5" fill="#000000"/>
<rect x="1792" y="1921.9" width="18.5" height="18.5" fill="#000000"/>
<rect x="1807.4" y="1895.7" width="18.5" height="18.5" fill="#000000"/>
<rect x="1823" y="1863.8" width="18.5" height="18.5" fill="#000000"/>
<rect x="1838.1" y="1826" width="18.5" height="18.5" fill="#000000"/>
<rect x="1853.4" y="1791.1" width="18.5" height="18.5" fill="#000000"/>
<rect x="1869.4" y="1765" width="18.5" height="18.5" fill="#000000"/>
<rect x="1884.4" y="1739.6" width="18.5" height="18.5" fill="#000000"/>
<rect x="1898.2" y="1718.4" width="18.5" height="18.5" fill="#000000"/>
<rect x="1913.6" y="1698.2" width="18.5" height="18.5" fill="#000000"/>
<rect x="1928.9" y="1678.5" width="18.5" height="18.5" fill="#000000"/>
<rect x="1944.3" y="1652.8" width="18.5" height="18.5" fill="#000000"/>
<rect x="1959.6" y="1623.7" width="18.5" height="18.5" fill="#000000"/>
<rect x="1975" y="1593.3" width="18.5" height="18.5" fill="#000000"/>
<rect x="1990.3" y="1557.2" width="18.5" height="18.5" fill="#000000"/>
<rect x="2005.7" y="1514.1" width="18.5" height="18.5" fill="#000000"/>
<rect x="2021" y="1474.1" width="18.5" height="18.5" fill="#000000"/>
<rect x="2036.4" y="1437.1" width="18.5" height="18.5" fill="#000000"/>
<rect x="2051.7" y="1407.3" width="18.5" height="18.5" fill="#000000"/>
<rect x="2067.1" y="1393.7" width="18.5" height="18.5" fill="#000000"/>
<rect x="2082.4" y="1391.7" width="18.5" height="18.5" fill="#000000"/>
<rect x="2097.8" y="1399.2" width="18.5" height="18.5" fill="#000000"/>
<rect x="2113.2" y="1422.4" width="18.5" height="18.5" fill="#000000"/>
<rect x="2128.5" y="1451.9" width="18.5" height="18.5" fill="#000000"/>
<rect x="2143.9" y="1487.6" width="18.5" height="18.5" fill="#000000"/>
<rect x="2159.2" y="1519.1" width="18.5" height="18.5" fill="#000000"/>
<rect x="2174.6" y="1556.8" width="18.5" height="18.5" fill="#000000"/>
<rect x="2189.9" y="1592.2" width="18.5" height="18.5" fill="#000000"/>
<rect x="2205.3" y="1623.6" width="18.5" height="18.5" fill="#000000"/>
<rect x="2220.6" y="1650.3" width="18.5" height="18.5" fill="#000000"/>
<rect x="2236" y="1674.4" width="18.5" height="18.5" fill="#000000"/>
<rect x="2251.3" y="1696.7" width="18.5" height="18.5" fill="#000000"/>
<rect x="2266.7" y="1713.7" width="18.5" height="18.5" fill="#000000"/>
<rect x="2282" y="1727" width="18.5" height="18.5" fill="#000000"/>
<rect x="2297.4" y="1738.5" width="18.5" height="18.5" fill="#000000"/>
<rect x="2312.7" y="1747.8" width="18.5" height="18.5" fill="#000000"/>
<rect x="2328.1" y="1755.1" width="18.5" height="18.5" fill="#000000"/>
<rect x="2343.4" y="1761.8" width="18.5" height="18.5" fill="#000000"/>
<rect x="2358.8" y="1766.5" width="18.5" height="18.5" fill="#000000"/>
<rect x="2374.1" y="1770.9" width="18.5" height="18.5" fill="#000000"/>
<rect x="2389.5" y="1774.8" width="18.5" height="18.5" fill="#000000"/>
<rect x="2404.9" y="1777.9" width="18.5" height="18.5" fill="#000000"/>
<rect x="2420.2" y="1780.9" width="18.5" height="18.5" fill="#000000"/>
<rect x="2435.6" y="1783.3" width="18.5" height="18.5" fill="#000000"/>
<rect x="2450.9" y="1785.5" width="18.5" height="18.5" fill="#000000"/>
<rect x="2466.3" y="1787.2" width="18.5" height="18.5" fill="#000000"/>
<rect x="2481.6" y="1788.4" width="18.5" height="18.5" fill="#000000"/>
<rect x="2497" y="1789.5" width="18.5" height="18.5" fill="#000000"/>
<path d="M1493 1786.2L1505.9 1807.9L1480.1 1807.9Z" fill="#0000ff"/>
<path d="M1508.3 1782.4L1521.2 1804.1L1495.4 1804.1Z" fill="#0000ff"/>
<path d="M1523.7 1779.7L1536.6 1801.4L1510.8 1801.4Z" fill="#0000ff"/>
<path d="M1539 1775.9L1551.9 1797.6L1526.1 1797.6Z" fill="#0000ff"/>
<path d="M1554.4 1773.6L1567.3 1795.3L1541.5 1795.3Z" fill="#0000ff"/>
<path d="M1569.7 1770.7L1582.6 1792.4L1556.8 1792.4Z" fill="#0000ff"/>
<path d="M1585.1 1767L1598 1788.7L1572.2 1788.7Z" fill="#0000ff"/>
<path d="M1600.4 1762.9L1613.3 1784.6L1587.5 1784.6Z" fill="#0000ff"/>
<path d="M1615.8 1758.4L1628.7 1780.1L1602.9 1780.1Z" fill="#0000ff"/>
<path d="M1631.1 1753.7L1644 1775.4L1618.2 1775.4Z" fill="#0000ff"/>
<path d="M1646.5 1748.9L1659.4 1770.6L1633.6 1770.6Z" fill="#0000ff"/>
<path d="M1661.8 1744.8L1674.7 1766.5L1648.9 1766.5Z" fill="#0000ff"/>
<path d="M1677.2 1739.6L1690.1 1761.3L1664.3 1761.3Z" fill="#0000ff"/>
<path d="M1692.5 1735.9L1705.4 1757.6L1679.6 1757.6Z" fill="#0000ff"/>
<path d="M1707.9 1730.1L1720.8 1751.8L1695 1751.8Z" fill="#0000ff"/>
<path d="M1723.2 1723.6L1736.1 1745.3L1710.3 1745.3Z" fill="#0000ff"/>
<path d="M1738.6 1717.5L1751.5 1739.2L1725.7 1739.2Z" fill="#0000ff"/>
<path d="M1753.9 1710.9L1766.8 1732.6L1741 1732.6Z" fill="#0000ff"/>
<path d="M1769.3 1703.7L1782.2 1725.4L1756.4 1725.4Z" fill="#0000ff"/>
<path d="M1784.6 1695.7L1797.5 1717.4L1771.7 1717.4Z" fill="#0000ff"/>
<path d="M1800 1684.5L1812.9 1706.2L1787.1 1706.2Z" fill="#0000ff"/>
<path d="M1815.4 1668.9L1828.3 1690.6L1802.5 1690.6Z" fill="#0000ff"/>
<path d="M1830.7 1650.3L1843.6 1672L1817.8 1672Z" fill="#0000ff"/>
<path d="M1846.1 1628.3L1859 1650L1833.2 1650Z" fill="#0000ff"/>
<path d="M1861.4 1599.1L1874.3 1620.8L1848.5 1620.8Z" fill="#0000ff"/>
<path d="M1876.8 1568.3L1889.7 1590L1863.9 1590Z" fill="#0000ff"/>
<path d="M1892.1 1536.8L1905 1558.5L1879.2 1558.5Z" fill="#0000ff"/>
<path d="M1907.5 1504.5L1920.4 1526.2L1894.6 1526.2Z" fill="#0000ff"/>
<path d="M1922.8 1471.3L1935.7 1493L1909.9 1493Z" fill="#0000ff"/>
<path d="M1938.2 1437.3L1951.1 1459L1925.3 1459Z" fill="#0000ff"/>
<path d="M1953.5 1402.4L1966.4 1424.1L1940.6 1424.1Z" fill="#0000ff"/>
<path d="M1968.9 1369.6L1981.8 1391.3L1956 1391.3Z" fill="#0000ff"/>
<path d="M1984.2 1344.3L1997.1 1366L1971.3 1366Z" fill="#0000ff"/>
<path d="M1999.6 1326.1L2012.5 1347.8L1986.7 1347.8Z" fill="#0000ff"/>
<path d="M2014.9 1311.8L2027.8 1333.5L2002 1333.5Z" fill="#0000ff"/>
<path d="M2030.3 1302.5L2043.2 1324.2L2017.4 1324.2Z" fill="#0000ff"/>
<path d="M2045.6 1298.4L2058.5 1320.1L2032.7 1320.1Z" fill="#0000ff"/>
<path d="M2061 1296L2073.9 1317.7L2048.1 1317.7Z" fill="#0000ff"/>
<path d="M2076.3 1296.8L2089.2 1318.5L2063.4 1318.5Z" fill="#0000ff"/>
<path d="M2091.7 1302.8L2104.6 1324.5L2078.8 1324.5Z" fill="#0000ff"/>
<path d="M2107.1 1311.6L2120 1333.3L2094.2 1333.3Z" fill="#0000ff"/>
<path d="M2122.4 1326.3L2135.3 1348L2109.5 1348Z" fill="#0000ff"/>
<path d="M2137.8 1344.3L2150.7 1366L2124.9 1366Z" fill="#0000ff"/>
<path d="M2153.1 1366.5L2166 1388.2L2140.2 1388.2Z" fill="#0000ff"/>
<path d="M2168.5 1391.4L2181.4 1413.1L2155.6 1413.1Z" fill="#0000ff"/>
<path d="M2183.8 1418.7L2196.7 1440.4L2170.9 1440.4Z" fill="#0000ff"/>
<path d="M2199.2 1449L2212.1 1470.7L2186.3 1470.7Z" fill="#0000ff"/>
<path d="M2214.5 1482.3L2227.4 1504L2201.6 1504Z" fill="#0000ff"/>
<path d="M2229.9 1521.2L2242.8 1542.9L2217 1542.9Z" fill="#0000ff"/>
<path d="M2245.2 1569.6L2258.1 1591.3L2232.3 1591.3Z" fill="#0000ff"/>
<path d="M2260.6 1602.3L2273.5 1624L2247.7 1624Z" fill="#0000ff"/>
<path d="M2275.9 1628.7L2288.8 1650.4L2263 1650.4Z" fill="#0000ff"/>
<path d="M2291.3 1652.4L2304.2 1674.1L2278.4 1674.1Z" fill="#0000ff"/>
<path d="M2306.6 1672.9L2319.5 1694.6L2293.7 1694.6Z" fill="#0000ff"/>
<path d="M2322 1690.8L2334.9 1712.5L2309.1 1712.5Z" fill="#0000ff"/>
<path d="M2337.3 1706.4L2350.2 1728.1L2324.4 1728.1Z" fill="#0000ff"/>
<path d="M2352.7 1719.7L2365.6 1741.4L2339.8 1741.4Z" fill="#0000ff"/>
<path d="M2368 1731.4L2380.9 1753.1L2355.1 1753.1Z" fill="#0000ff"/>
<path d="M2383.4 1742.1L2396.3 1763.8L2370.5 1763.8Z" fill="#0000ff"/>
<path d="M2398.8 1752.2L2411.7 1773.9L2385.9 1773.9Z" fill="#0000ff"/>
<path d="M2414.1 1762.8L2427 1784.5L2401.2 1784.5Z" fill="#0000ff"/>
<path d="M2429.5 1773.6L2442.4 1795.3L2416.6 1795.3Z" fill="#0000ff"/>
<path d="M2444.8 1784.2L2457.7 1805.9L2431.9 1805.9Z" fill="#0000ff"/>
<path d="M2460.2 1795.6L2473.1 1817.3L2447.3 1817.3Z" fill="#0000ff"/>
<path d="M2475.5 1809.2L2488.4 1830.9L2462.6 1830.9Z" fill="#0000ff"/>
<path d="M2490.9 1822.2L2503.8 1843.9L2478 1843.9Z" fill="#0000ff"/>
<path d="M2506.2 1833L2519.1 1854.7L2493.3 1854.7Z" fill="#0000ff"/>
<path d="M1447.8 1776.6L1469.5 1763.6L1469.5 1789.6Z" fill="#ff00ff"/>
<path d="M1463.1 1773L1484.8 1760L1484.8 1786Z" fill="#ff00ff"/>
<path d="M1478.5 1768.6L1500.2 1755.6L1500.2 1781.6Z" fill="#ff00ff"/>
<path d="M1493.8 1766.3L1515.5 1753.3L1515.5 1779.3Z" fill="#ff00ff"/>
<path d="M1509.2 1767L1530.9 1754L1530.9 1780Z" fill="#ff00ff"/>
<path d="M1524.5 1772.7L1546.2 1759.7L1546.2 1785.7Z" fill="#ff00ff"/>
<path d="M1539.9 1782.2L1561.6 1769.2L1561.6 1795.2Z" fill="#ff00ff"/>
<path d="M1555.2 1791.7L1576.9 1778.7L1576.9 1804.7Z" fill="#ff00ff"/>
<path d="M1570.6 1786.3L1592.3 1773.3L1592.3 1799.3Z" fill="#ff00ff"/>
<path d="M1586 1782.3L1607.7 1769.3L1607.7 1795.3Z" fill="#ff00ff"/>
<path d="M1601.3 1783.7L1623 1770.7L1623 1796.7Z" fill="#ff00ff"/>
<path d="M1616.7 1782.6L1638.4 1769.6L1638.4 1795.6Z" fill="#ff00ff"/>
<path d="M1632 1780.1L1653.7 1767.1L1653.7 1793.1Z" fill="#ff00ff"/>
<path d="M1647.4 1778.1L1669.1 1765.1L1669.1 1791.1Z" fill="#ff00ff"/>
<path d="M1662.7 1772.3L1684.4 1759.3L1684.4 1785.3Z" fill="#ff00ff"/>
<path d="M1678.1 1764.3L1699.8 1751.3L1699.8 1777.3Z" fill="#ff00ff"/>
<path d="M1693.4 1753.7L1715.1 1740.7L1715.1 1766.7Z" fill="#ff00ff"/>
<path d="M1708.8 1737.2L1730.5 1724.2L1730.5 1750.2Z" fill="#ff00ff"/>
<path d="M1724.1 1717L1745.8 1704L1745.8 1730Z" fill="#ff00ff"/>
<path d="M1739.5 1690.6L1761.2 1677.6L1761.2 1703.6Z" fill="#ff00ff"/>
<path d="M1754.8 1672.5L1776.5 1659.5L1776.5 1685.5Z" fill="#ff00ff"/>
<path d="M1770.2 1630.4L1791.9 1617.4L1791.9 1643.4Z" fill="#ff00ff"/>
<path d="M1785.5 1588.1L1807.2 1575.1L1807.2 1601.1Z" fill="#ff00ff"/>
<path d="M1800.9 1546.5L1822.6 1533.5L1822.6 1559.5Z" fill="#ff00ff"/>
<path d="M1816.2 1507.8L1837.9 1494.8L1837.9 1520.8Z" fill="#ff00ff"/>
<path d="M1831.6 1472.9L1853.3 1459.9L1853.3 1485.9Z" fill="#ff00ff"/>
<path d="M1846.9 1446L1868.6 1433L1868.6 1459Z" fill="#ff00ff"/>
<path d="M1862.3 1416.7L1884 1403.7L1884 1429.7Z" fill="#ff00ff"/>
<path d="M1877.6 1386.1L1899.3 1373.1L1899.3 1399.1Z" fill="#ff00ff"/>
<path d="M1893 1358.8L1914.7 1345.8L1914.7 1371.8Z" fill="#ff00ff"/>
<path d="M1908.4 1333.9L1930.1 1320.9L1930.1 1346.9Z" fill="#ff00ff"/>
<path d="M1923.7 1312L1945.4 1299L1945.4 1325Z" fill="#ff00ff"/>
<path d="M1939.1 1292.8L1960.8 1279.8L1960.8 1305.8Z" fill="#ff00ff"/>
<path d="M1954.4 1276.2L1976.1 1263.2L1976.1 1289.2Z" fill="#ff00ff"/>
<path d="M1969.8 1262.7L1991.5 1249.7L1991.5 1275.7Z" fill="#ff00ff"/>
<path d="M1985.1 1252.8L2006.8 1239.8L2006.8 1265.8Z" fill="#ff00ff"/>
<path d="M2000.5 1245.9L2022.2 1232.9L2022.2 1258.9Z" fill="#ff00ff"/>
<path d="M2015.8 1242.3L2037.5 1229.3L2037.5 1255.3Z" fill="#ff00ff"/>
<path d="M2031.2 1240L2052.9 1227L2052.9 1253Z" fill="#ff00ff"/>
<path d="M2046.5 1240.6L2068.2 1227.6L2068.2 1253.6Z" fill="#ff00ff"/>
<path d="M2061.9 1244.9L2083.6 1231.9L2083.6 1257.9Z" fill="#ff00ff"/>
<path d="M2077.2 1251L2098.9 1238L2098.9 1264Z" fill="#ff00ff"/>
<path d="M2092.6 1259.6L2114.3 1246.6L2114.3 1272.6Z" fill="#ff00ff"/>
<path d="M2107.9 1271.5L2129.6 1258.5L2129.6 1284.5Z" fill="#ff00ff"/>
<path d="M2123.3 1285.1L2145 1272.1L2145 1298.1Z" fill="#ff00ff"/>
<path d="M2138.6 1302L2160.3 1289L2160.3 1315Z" fill="#ff00ff"/>
<path d="M2154 1321.6L2175.7 1308.6L2175.7 1334.6Z" fill="#ff00ff"/>
<path d="M2169.3 1344.9L2191 1331.9L2191 1357.9Z" fill="#ff00ff"/>
<path d="M2184.7 1372.1L2206.4 1359.1L2206.4 1385.1Z" fill="#ff00ff"/>
<path d="M2200.1 1403.5L2221.8 1390.5L2221.8 1416.5Z" fill="#ff00ff"/>
<path d="M2215.4 1437.7L2237.1 1424.7L2237.1 1450.7Z" fill="#ff00ff"/>
<path d="M2230.8 1474.5L2252.5 1461.5L2252.5 1487.5Z" fill="#ff00ff"/>
<path d="M2246.1 1513.3L2267.8 1500.3L2267.8 1526.3Z" fill="#ff00ff"/>
<path d="M2261.5 1554.8L2283.2 1541.8L2283.2 1567.8Z" fill="#ff00ff"/>
<path d="M2276.8 1590.9L2298.5 1577.9L2298.5 1603.9Z" fill="#ff00ff"/>
<path d="M2292.2 1621.2L2313.9 1608.2L2313.9 1634.2Z" fill="#ff00ff"/>
<path d="M2307.5 1652.5L2329.2 1639.5L2329.2 1665.5Z" fill="#ff00ff"/>
<path d="M2322.9 1675.1L2344.6 1662.1L2344.6 1688.1Z" fill="#ff00ff"/>
<path d="M2338.2 1696L2359.9 1683L2359.9 1709Z" fill="#ff00ff"/>
<path d="M2353.6 1714.8L2375.3 1701.8L2375.3 1727.8Z" fill="#ff00ff"/>
<path d="M2368.9 1730.9L2390.6 1717.9L2390.6 1743.9Z" fill="#ff00ff"/>
<path d="M2384.3 1744.5L2406 1731.5L2406 1757.5Z" fill="#ff00ff"/>
<path d="M2399.6 1757.7L2421.3 1744.7L2421.3 1770.7Z" fill="#ff00ff"/>
<path d="M2415 1768.6L2436.7 1755.6L2436.7 1781.6Z" fill="#ff00ff"/>
<path d="M2430.3 1782.7L2452 1769.7L2452 1795.7Z" fill="#ff00ff"/>
<path d="M2445.7 1799.4L2467.4 1786.4L2467.4 1812.4Z" fill="#ff00ff"/>
<path d="M2461 1816.5L2482.7 1803.5L2482.7 1829.5Z" fill="#ff00ff"/>
<path d="M2476.4 1831.1L2498.1 1818.1L2498.1 1844.1Z" fill="#ff00ff"/>
<path d="M2491.8 1850.2L2513.5 1837.2L2513.5 1863.2Z" fill="#ff00ff"/>
<path d="M1569.7 1743L1582.6 1756L1569.7 1769L1556.8 1756Z" fill="#000080"/>
<path d="M1585.1 1737.9L1598 1750.9L1585.1 1763.9L1572.2 1750.9Z" fill="#000080"/>
<path d="M1600.4 1734L1613.3 1747L1600.4 1760L1587.5 1747Z" fill="#000080"/>
<path d="M1615.8 1728.9L1628.7 1741.9L1615.8 1754.9L1602.9 1741.9Z" fill="#000080"/>
<path d="M1631.1 1723.4L1644 1736.4L1631.1 1749.4L1618.2 1736.4Z" fill="#000080"/>
<path d="M1646.5 1717.6L1659.4 1730.6L1646.5 1743.6L1633.6 1730.6Z" fill="#000080"/>
<path d="M1661.8 1709.9L1674.7 1722.9L1661.8 1735.9L1648.9 1722.9Z" fill="#000080"/>
<path d="M1677.2 1698.5L1690.1 1711.5L1677.2 1724.5L1664.3 1711.5Z" fill="#000080"/>
<path d="M1692.5 1687.6L1705.4 1700.6L1692.5 1713.6L1679.6 1700.6Z" fill="#000080"/>
<path d="M1707.9 1673.2L1720.8 1686.2L1707.9 1699.2L1695 1686.2Z" fill="#000080"/>
<path d="M1723.2 1654.5L1736.1 1667.5L1723.2 1680.5L1710.3 1667.5Z" fill="#000080"/>
<path d="M1738.6 1634.1L1751.5 1647.1L1738.6 1660.1L1725.7 1647.1Z" fill="#000080"/>
<path d="M1753.9 1607.3L1766.8 1620.3L1753.9 1633.3L1741 1620.3Z" fill="#000080"/>
<path d="M1769.3 1580.3L1782.2 1593.3L1769.3 1606.3L1756.4 1593.3Z" fill="#000080"/>
<path d="M1784.6 1549.5L1797.5 1562.5L1784.6 1575.5L1771.7 1562.5Z" fill="#000080"/>
<path d="M1800 1512L1812.9 1525L1800 1538L1787.1 1525Z" fill="#000080"/>
<path d="M1815.4 1477.3L1828.3 1490.3L1815.4 1503.3L1802.5 1490.3Z" fill="#000080"/>
<path d="M1830.7 1445.2L1843.6 1458.2L1830.7 1471.2L1817.8 1458.2Z" fill="#000080"/>
<path d="M1846.1 1408.9L1859 1421.9L1846.1 1434.9L1833.2 1421.9Z" fill="#000080"/>
<path d="M1861.4 1377.7L1874.3 1390.7L1861.4 1403.7L1848.5 1390.7Z" fill="#000080"/>
<path d="M1876.8 1344.1L1889.7 1357.1L1876.8 1370.1L1863.9 1357.1Z" fill="#000080"/>
<path d="M1892.1 1319.4L1905 1332.4L1892.1 1345.4L1879.2 1332.4Z" fill="#000080"/>
<path d="M1907.5 1299.2L1920.4 1312.2L1907.5 1325.2L1894.6 1312.2Z" fill="#000080"/>
<path d="M1922.8 1282.8L1935.7 1295.8L1922.8 1308.8L1909.9 1295.8Z" fill="#000080"/>
<path d="M1938.2 1268.6L1951.1 1281.6L1938.2 1294.6L1925.3 1281.6Z" fill="#000080"/>
<path d="M1953.5 1257.8L1966.4 1270.8L1953.5 1283.8L1940.6 1270.8Z" fill="#000080"/>
<path d="M1968.9 1250.2L1981.8 1263.2L1968.9 1276.2L1956 1263.2Z" fill="#000080"/>
<path d="M1984.2 1245.2L1997.1 1258.2L1984.2 1271.2L1971.3 1258.2Z" fill="#000080"/>
<path d="M1999.6 1243.1L2012.5 1256.1L1999.6 1269.1L1986.7 1256.1Z" fill="#000080"/>
<path d="M2014.9 1243.2L2027.8 1256.2L2014.9 1269.2L2002 1256.2Z" fill="#000080"/>
<path d="M2030.3 1246.1L2043.2 1259.1L2030.3 1272.1L2017.4 1259.1Z" fill="#000080"/>
<path d="M2045.6 1251.2L2058.5 1264.2L2045.6 1277.2L2032.7 1264.2Z" fill="#000080"/>
<path d="M2061 1259.3L2073.9 1272.3L2061 1285.3L2048.1 1272.3Z" fill="#000080"/>
<path d="M2076.3 1270.7L2089.2 1283.7L2076.3 1296.7L2063.4 1283.7Z" fill="#000080"/>
<path d="M2091.7 1284.1L2104.6 1297.1L2091.7 1310.1L2078.8 1297.1Z" fill="#000080"/>
<path d="M2107.1 1300.1L2120 1313.1L2107.1 1326.1L2094.2 1313.1Z" fill="#000080"/>
<path d="M2122.4 1318.4L2135.3 1331.4L2122.4 1344.4L2109.5 1331.4Z" fill="#000080"/>
<path d="M2137.8 1336.7L2150.7 1349.7L2137.8 1362.7L2124.9 1349.7Z" fill="#000080"/>
<path d="M2153.1 1364.6L2166 1377.6L2153.1 1390.6L2140.2 1377.6Z" fill="#000080"/>
<path d="M2168.5 1397.6L2181.4 1410.6L2168.5 1423.6L2155.6 1410.6Z" fill="#000080"/>
<path d="M2183.8 1429.9L2196.7 1442.9L2183.8 1455.9L2170.9 1442.9Z" fill="#000080"/>
<path d="M2199.2 1465.9L2212.1 1478.9L2199.2 1491.9L2186.3 1478.9Z" fill="#000080"/>
<path d="M2214.5 1503.4L2227.4 1516.4L2214.5 1529.4L2201.6 1516.4Z" fill="#000080"/>
<path d="M2229.9 1547.8L2242.8 1560.8L2229.9 1573.8L2217 1560.8Z" fill="#000080"/>
<path d="M2245.2 1582.4L2258.1 1595.4L2245.2 1608.4L2232.3 1595.4Z" fill="#000080"/>
<path d="M2260.6 1613.6L2273.5 1626.6L2260.6 1639.6L2247.7 1626.6Z" fill="#000080"/>
<path d="M2275.9 1639.6L2288.8 1652.6L2275.9 1665.6L2263 1652.6Z" fill="#000080"/>
<path d="M2291.3 1664.2L2304.2 1677.2L2291.3 1690.2L2278.4 1677.2Z" fill="#000080"/>
<path d="M2306.6 1683.9L2319.5 1696.9L2306.6 1709.9L2293.7 1696.9Z" fill="#000080"/>
<path d="M2322 1701.7L2334.9 1714.7L2322 1727.7L2309.1 1714.7Z" fill="#000080"/>
<path d="M2337.3 1717.4L2350.2 1730.4L2337.3 1743.4L2324.4 1730.4Z" fill="#000080"/>
<path d="M2352.7 1729.7L2365.6 1742.7L2352.7 1755.7L2339.8 1742.7Z" fill="#000080"/>
<path d="M2368 1739.8L2380.9 1752.8L2368 1765.8L2355.1 1752.8Z" fill="#000080"/>
<path d="M2383.4 1749.2L2396.3 1762.2L2383.4 1775.2L2370.5 1762.2Z" fill="#000080"/>
<path d="M2398.8 1756.3L2411.7 1769.3L2398.8 1782.3L2385.9 1769.3Z" fill="#000080"/>
<path d="M2414.1 1762.9L2427 1775.9L2414.1 1788.9L2401.2 1775.9Z" fill="#000080"/>
<path d="M2429.5 1769L2442.4 1782L2429.5 1795L2416.6 1782Z" fill="#000080"/>
<path d="M2444.8 1774.3L2457.7 1787.3L2444.8 1800.3L2431.9 1787.3Z" fill="#000080"/>
<path d="M2460.2 1780L2473.1 1793L2460.2 1806L2447.3 1793Z" fill="#000080"/>
<path d="M2475.5 1786L2488.4 1799L2475.5 1812L2462.6 1799Z" fill="#000080"/>
<path d="M2490.9 1790.8L2503.8 1803.8L2490.9 1816.8L2478 1803.8Z" fill="#000080"/>
<path d="M2506.2 1794.7L2519.1 1807.7L2506.2 1820.7L2493.3 1807.7Z" fill="#000080"/>
<circle cx="1601.8" cy="1828.3" r="10.6" fill="#108010"/>
<circle cx="1616.9" cy="1829.4" r="10.6" fill="#108010"/>
<circle cx="1631.8" cy="1821.5" r="10.6" fill="#108010"/>
<circle cx="1647.3" cy="1814.9" r="10.6" fill="#108010"/>
<circle cx="1662.9" cy="1810.6" r="10.6" fill="#108010"/>
<circle cx="1678.2" cy="1805.1" r="10.6" fill="#108010"/>
<circle cx="1693.3" cy="1793.9" r="10.6" fill="#108010"/>
<circle cx="1708.8" cy="1781.5" r="10.6" fill="#108010"/>
<circle cx="1724.7" cy="1758.3" r="10.6" fill="#108010"/>
<circle cx="1740.2" cy="1738.7" r="10.6" fill="#108010"/>
<circle cx="1755.3" cy="1707.4" r="10.6" fill="#108010"/>
<circle cx="1770.1" cy="1662.4" r="10.6" fill="#108010"/>
<circle cx="1785.6" cy="1614.5" r="10.6" fill="#108010"/>
<circle cx="1801" cy="1570.2" r="10.6" fill="#108010"/>
<circle cx="1816" cy="1528.8" r="10.6" fill="#108010"/>
<circle cx="1832" cy="1490.3" r="10.6" fill="#108010"/>
<circle cx="1847.2" cy="1456.9" r="10.6" fill="#108010"/>
<circle cx="1862.2" cy="1427.1" r="10.6" fill="#108010"/>
<circle cx="1878.5" cy="1397.3" r="10.6" fill="#108010"/>
<circle cx="1892.1" cy="1372.7" r="10.6" fill="#108010"/>
<circle cx="1907.5" cy="1346.4" r="10.6" fill="#108010"/>
<circle cx="1922.8" cy="1325.1" r="10.6" fill="#108010"/>
<circle cx="1938.2" cy="1309.7" r="10.6" fill="#108010"/>
<circle cx="1953.5" cy="1299.6" r="10.6" fill="#108010"/>
<circle cx="1968.9" cy="1293.3" r="10.6" fill="#108010"/>
<circle cx="1984.2" cy="1290.9" r="10.6" fill="#108010"/>
<circle cx="1999.6" cy="1290.9" r="10.6" fill="#108010"/>
<circle cx="2014.9" cy="1294.6" r="10.6" fill="#108010"/>
<circle cx="2030.3" cy="1302" r="10.6" fill="#108010"/>
<circle cx="2045.6" cy="1312" r="10.6" fill="#108010"/>
<circle cx="2061" cy="1324.5" r="10.6" fill="#108010"/>
<circle cx="2076.3" cy="1340.3" r="10.6" fill="#108010"/>
<circle cx="2091.7" cy="1366.1" r="10.6" fill="#108010"/>
<circle cx="2107.1" cy="1389.1" r="10.6" fill="#108010"/>
<circle cx="2122.4" cy="1422.8" r="10.6" fill="#108010"/>
<circle cx="2137.8" cy="1453.4" r="10.6" fill="#108010"/>
<circle cx="2153.1" cy="1487.4" r="10.6" fill="#108010"/>
<circle cx="2168.5" cy="1522.2" r="10.6" fill="#108010"/>
<circle cx="2183.8" cy="1560.1" r="10.6" fill="#108010"/>
<circle cx="2199.2" cy="1595" r="10.6" fill="#108010"/>
<circle cx="2214.5" cy="1625.7" r="10.6" fill="#108010"/>
<circle cx="2229.9" cy="1651.2" r="10.6" fill="#108010"/>
<circle cx="2245.2" cy="1672.4" r="10.6" fill="#108010"/>
<circle cx="2260.6" cy="1692.4" r="10.6" fill="#108010"/>
<circle cx="2275.9" cy="1708.5" r="10.6" fill="#108010"/>
<circle cx="2291.3" cy="1721.7" r="10.6" fill="#108010"/>
<circle cx="2306.6" cy="1733.7" r="10.6" fill="#108010"/>
<circle cx="2322" cy="1744.4" r="10.6" fill="#108010"/>
<circle cx="2337.3" cy="1752.6" r="10.6" fill="#108010"/>
<circle cx="2352.7" cy="1759.3" r="10.6" fill="#108010"/>
<circle cx="2368" cy="1765.1" r="10.6" fill="#108010"/>
<circle cx="2383.4" cy="1770.3" r="10.6" fill="#108010"/>
<circle cx="2398.8" cy="1773.9" r="10.6" fill="#108010"/>
<circle cx="2414.1" cy="1777.6" r="10.6" fill="#108010"/>
<circle cx="2429.5" cy="1780.1" r="10.6" fill="#108010"/>
<circle cx="2444.8" cy="1782.3" r="10.6" fill="#108010"/>
<circle cx="2460.2" cy="1783.5" r="10.6" fill="#108010"/>
<circle cx="2475.5" cy="1783.7" r="10.6" fill="#108010"/>
<circle cx="2490.9" cy="1783.7" r="10.6" fill="#108010"/>
<circle cx="2506.2" cy="1783.7" r="10.6" fill="#108010"/>
<path d="M1463 1810.6L1465.6 1810.9L1468.2 1811.2L1470.9 1811.5L1473.5 1811.9L1476.1 1812.2L1478.7 1812.5L1481.3 1812.9L1484 1813.2L1486.6 1813.6L1489.2 1813.9L1491.8 1814.3L1494.4 1814.6L1497.1 1815L1499.7 1815.3L1502.3 1815.7L1504.9 1816L1507.5 1816.4L1510.2 1816.8L1512.8 1817.1L1515.4 1817.5L1518 1817.8L1520.6 1818.2L1523.3 1818.5L1525.9 1818.9L1528.5 1819.2L1531.1 1819.6L1533.7 1820L1536.4 1820.3L1539 1820.7L1541.6 1821.2L1544.2 1821.6L1546.8 1822L1549.5 1822.5L1552.1 1823L1554.7 1823.5L1557.3 1824.1L1559.9 1824.7L1562.6 1825.3L1565.2 1825.9L1567.8 1826.6L1570.4 1827.3L1573 1828.1L1575.7 1828.8L1578.3 1829.6L1580.9 1830.4L1583.5 1831.2L1586.1 1832L1588.8 1832.9L1591.4 1833.8L1594 1834.8L1596.6 1835.8L1599.2 1836.9L1601.9 1838L1604.5 1839.2L1607.1 1840.5L1609.7 1841.8L1612.3 1843.3L1615 1844.9L1617.6 1846.6L1620.2 1848.3L1622.8 1850.1L1625.4 1851.8L1628.1 1853.6L1630.7 1855.3L1633.3 1857L1635.9 1858.7L1638.5 1860.4L1641.2 1862.2L1643.8 1863.9L1646.4 1865.8L1649 1867.7L1651.6 1869.7L1654.3 1871.8L1656.9 1874L1659.5 1876.4L1662.1 1878.7L1664.7 1881.2L1667.4 1883.6L1670 1886.1L1672.6 1888.6L1675.2 1891.1L1677.8 1893.7L1680.5 1896.3L1683.1 1898.9L1685.7 1901.6L1688.3 1904.3L1690.9 1907L1693.6 1909.6L1696.2 1912.3L1698.8 1915.1L1701.4 1917.9L1704 1920.9L1706.7 1923.7L1709.3 1926.5L1711.9 1929.2L1714.5 1931.6L1717.1 1933.7L1719.8 1935.6L1722.4 1937.5L1725 1939.4L1727.6 1941.2L1730.2 1942.8L1732.9 1944.2L1735.5 1945.3L1738.1 1946.1L1740.7 1946.5L1743.3 1946.7L1746 1946.9L1748.6 1947L1751.2 1947.1L1753.8 1946.7L1756.4 1945.9L1759.1 1944.8L1761.7 1943.6L1764.3 1942.2L1766.9 1940.5L1769.5 1938.6L1772.2 1936.3L1774.8 1934L1777.4 1931.5L1780 1928.8L1782.6 1925.8L1785.3 1922.5L1787.9 1919L1790.5 1915.5L1793.1 1911.9L1795.7 1908.4L1798.4 1904.9L1801 1901.3L1803.6 1897.7L1806.2 1894L1808.8 1890.2L1811.5 1886.5L1814.1 1882.7L1816.7 1878.9L1819.3 1875L1821.9 1871.1L1824.6 1867.2L1827.2 1863.2L1829.8 1859.3L1832.4 1855.3L1835 1851.3L1837.7 1847.3L1840.3 1843.4L1842.9 1839.5L1845.5 1835.5L1848.1 1831.6L1850.8 1827.7L1853.4 1823.7L1856 1819.9L1858.6 1816L1861.2 1812.2L1863.9 1808.5L1866.5 1804.7L1869.1 1801L1871.7 1797.3L1874.3 1793.6L1877 1790L1879.6 1786.4L1882.2 1782.9L1884.8 1779.4L1887.4 1776L1890.1 1772.7L1892.7 1769.5L1895.3 1766.2L1897.9 1762.8L1900.5 1759.3L1903.2 1755.9L1905.8 1752.4L1908.4 1748.9L1911 1745.5L1913.6 1742L1916.3 1738.5L1918.9 1734.9L1921.5 1731.3L1924.1 1727.6L1926.7 1723.9L1929.4 1720L1932 1716L1934.6 1711.9L1937.2 1707.6L1939.8 1703.2L1942.5 1698.6L1945.1 1693.7L1947.7 1688.5L1950.3 1683L1952.9 1677.4L1955.6 1671.5L1958.2 1665.6L1960.8 1659.6L1963.4 1653.5L1966 1647.5L1968.7 1641.5L1971.3 1635.7L1973.9 1630L1976.5 1624.6L1979.1 1619.2L1981.8 1613.9L1984.4 1608.5L1987 1603.1L1989.6 1597.5L1992.2 1591.7L1994.9 1585.7L1997.5 1579.3L2000.1 1572.4L2002.7 1564.4L2005.3 1555.4L2008 1546.5L2010.6 1538.8L2013.2 1532.2L2015.8 1525.9L2018.4 1520.1L2021.1 1514.4L2023.7 1509L2026.3 1503.7L2028.9 1498.3L2031.5 1492.9L2034.2 1487.2L2036.8 1481.4L2039.4 1475.4L2042 1469.5L2044.6 1463.7L2047.3 1458.2L2049.9 1453.2L2052.5 1448.7L2055.1 1444.5L2057.7 1440.4L2060.4 1436.5L2063 1432.8L2065.6 1429.6L2068.2 1426.9L2070.8 1424.7L2073.5 1423.2L2076.1 1421.7L2078.7 1420.3L2081.3 1419.1L2083.9 1418L2086.6 1417.2L2089.2 1416.6L2091.8 1416.3L2094.4 1416.3L2097 1416.9L2099.7 1417.8L2102.3 1419.1L2104.9 1420.6L2107.5 1422.4L2110.1 1424.1L2112.8 1426.3L2115.4 1429.3L2118 1432.9L2120.6 1436.8L2123.2 1441L2125.9 1445.3L2128.5 1449.5L2131.1 1453.4L2133.7 1457.4L2136.3 1461.5L2139 1465.7L2141.6 1469.9L2144.2 1474.3L2146.8 1478.8L2149.4 1483.4L2152.1 1488.2L2154.7 1493L2157.3 1498L2159.9 1503.1L2162.5 1508.4L2165.2 1513.7L2167.8 1519.1L2170.4 1524.6L2173 1530.2L2175.6 1535.9L2178.3 1541.7L2180.9 1547.7L2183.5 1554.1L2186.1 1560.6L2188.7 1567.3L2191.4 1574L2194 1580.6L2196.6 1587.1L2199.2 1593.3L2201.8 1599.2L2204.5 1604.9L2207.1 1610.5L2209.7 1616.1L2212.3 1621.6L2214.9 1627L2217.6 1632.2L2220.2 1637.4L2222.8 1642.4L2225.4 1647.2L2228 1651.9L2230.7 1656.4L2233.3 1660.7L2235.9 1664.9L2238.5 1669L2241.1 1672.9L2243.8 1676.7L2246.4 1680.5L2249 1684.1L2251.6 1687.6L2254.2 1691.1L2256.9 1694.4L2259.5 1697.6L2262.1 1700.7L2264.7 1703.7L2267.3 1706.7L2270 1709.6L2272.6 1712.4L2275.2 1715.1L2277.8 1717.8L2280.4 1720.3L2283.1 1722.9L2285.7 1725.3L2288.3 1727.7L2290.9 1730L2293.5 1732.2L2296.2 1734.3L2298.8 1736.4L2301.4 1738.4L2304 1740.4L2306.6 1742.3L2309.3 1744.2L2311.9 1746L2314.5 1747.7L2317.1 1749.4L2319.7 1751.1L2322.4 1752.6L2325 1754.2L2327.6 1755.7L2330.2 1757.1L2332.8 1758.5L2335.5 1759.9L2338.1 1761.2L2340.7 1762.6L2343.3 1763.8L2345.9 1765L2348.6 1766.2L2351.2 1767.4L2353.8 1768.4L2356.4 1769.5L2359 1770.4L2361.7 1771.4L2364.3 1772.3L2366.9 1773.2L2369.5 1774.1L2372.1 1775L2374.8 1775.8L2377.4 1776.6L2380 1777.4L2382.6 1778.2L2385.2 1779L2387.9 1779.7L2390.5 1780.4L2393.1 1781.1L2395.7 1781.8L2398.3 1782.4L2401 1783.1L2403.6 1783.7L2406.2 1784.3L2408.8 1784.9L2411.4 1785.5L2414.1 1786L2416.7 1786.6L2419.3 1787.1L2421.9 1787.7L2424.5 1788.2L2427.2 1788.7L2429.8 1789.2L2432.4 1789.7L2435 1790.1L2437.6 1790.6L2440.3 1791L2442.9 1791.4L2445.5 1791.8L2448.1 1792.2L2450.7 1792.6L2453.4 1793L2456 1793.4L2458.6 1793.8L2461.2 1794.2L2463.8 1794.5L2466.5 1794.9L2469.1 1795.2L2471.7 1795.6L2474.3 1795.9L2476.9 1796.2L2479.6 1796.6L2482.2 1796.9L2484.8 1797.2L2487.4 1797.5L2490 1797.8L2492.7 1798.1L2495.3 1798.3L2497.9 1798.6L2500.5 1798.9L2503.1 1799.1L2505.8 1799.3L2508.4 1799.5" fill="none" stroke="#000" stroke-width="2.3" stroke-linejoin="round"/>
<path d="M1493.8 1799.8L1496.4 1799.4L1498.9 1798.9L1501.5 1798.5L1504 1798L1506.6 1797.6L1509.1 1797.2L1511.6 1796.7L1514.2 1796.3L1516.7 1795.9L1519.3 1795.5L1521.8 1795.1L1524.4 1794.7L1526.9 1794.3L1529.4 1793.9L1532 1793.6L1534.5 1793.2L1537.1 1792.9L1539.6 1792.5L1542.2 1792.2L1544.7 1791.8L1547.2 1791.5L1549.8 1791.1L1552.3 1790.8L1554.9 1790.4L1557.4 1790L1560 1789.6L1562.5 1789.1L1565 1788.7L1567.6 1788.2L1570.1 1787.7L1572.7 1787.1L1575.2 1786.5L1577.8 1785.9L1580.3 1785.3L1582.8 1784.6L1585.4 1783.9L1587.9 1783.2L1590.5 1782.5L1593 1781.7L1595.5 1781L1598.1 1780.2L1600.6 1779.4L1603.2 1778.5L1605.7 1777.6L1608.3 1776.7L1610.8 1775.7L1613.3 1774.7L1615.9 1773.7L1618.4 1772.7L1621 1771.7L1623.5 1770.7L1626.1 1769.7L1628.6 1768.7L1631.1 1767.8L1633.7 1766.9L1636.2 1766L1638.8 1765.2L1641.3 1764.3L1643.9 1763.5L1646.4 1762.7L1648.9 1762L1651.5 1761.3L1654 1760.6L1656.6 1760L1659.1 1759.3L1661.7 1758.6L1664.2 1757.8L1666.7 1757L1669.3 1756.1L1671.8 1755.2L1674.4 1754.3L1676.9 1753.5L1679.5 1752.7L1682 1751.9L1684.5 1751.2L1687.1 1750.5L1689.6 1749.8L1692.2 1749L1694.7 1748.2L1697.3 1747.3L1699.8 1746.4L1702.3 1745.4L1704.9 1744.5L1707.4 1743.5L1710 1742.5L1712.5 1741.5L1715.1 1740.5L1717.6 1739.5L1720.1 1738.6L1722.7 1737.7L1725.2 1736.8L1727.8 1735.9L1730.3 1735.1L1732.9 1734.2L1735.4 1733.3L1737.9 1732.5L1740.5 1731.6L1743 1730.8L1745.6 1729.9L1748.1 1729L1750.7 1728.1L1753.2 1727.3L1755.7 1726.4L1758.3 1725.5L1760.8 1724.6L1763.4 1723.7L1765.9 1722.7L1768.5 1721.6L1771 1720.6L1773.5 1719.4L1776.1 1718.2L1778.6 1716.9L1781.2 1715.5L1783.7 1713.9L1786.3 1712.3L1788.8 1710.4L1791.3 1708.5L1793.9 1706.4L1796.4 1704.1L1799 1701.6L1801.5 1698.8L1804.1 1695.7L1806.6 1692.5L1809.1 1689.2L1811.7 1685.8L1814.2 1682.4L1816.8 1679L1819.3 1675.7L1821.9 1672.3L1824.4 1668.8L1826.9 1665.3L1829.5 1661.7L1832 1658.1L1834.6 1654.4L1837.1 1650.6L1839.6 1646.9L1842.2 1643L1844.7 1639L1847.3 1634.9L1849.8 1630.7L1852.4 1626.3L1854.9 1621.8L1857.4 1617.1L1860 1612.4L1862.5 1607.6L1865.1 1602.7L1867.6 1597.8L1870.2 1592.7L1872.7 1587.6L1875.2 1582.5L1877.8 1577.3L1880.3 1572L1882.9 1566.7L1885.4 1561.4L1888 1556L1890.5 1550.6L1893 1545.2L1895.6 1539.8L1898.1 1534.4L1900.7 1529L1903.2 1523.6L1905.8 1518.1L1908.3 1512.6L1910.8 1507L1913.4 1501.5L1915.9 1495.9L1918.5 1490.3L1921 1484.6L1923.6 1479L1926.1 1473.4L1928.6 1467.8L1931.2 1462.2L1933.7 1456.6L1936.3 1451L1938.8 1445.4L1941.4 1439.7L1943.9 1434.1L1946.4 1428.4L1949 1422.8L1951.5 1417.3L1954.1 1411.8L1956.6 1406.5L1959.2 1401L1961.7 1395.6L1964.2 1390.4L1966.8 1385.5L1969.3 1381.3L1971.9 1377.3L1974.4 1373.5L1977 1369.8L1979.5 1366.3L1982 1363L1984.6 1359.8L1987.1 1356.7L1989.7 1353.8L1992.2 1351.1L1994.8 1348.4L1997.3 1345.8L1999.8 1343.2L2002.4 1340.6L2004.9 1338.1L2007.5 1335.6L2010 1333.1L2012.6 1330.8L2015.1 1328.5L2017.6 1326.4L2020.2 1324.4L2022.7 1322.6L2025.3 1321L2027.8 1319.6L2030.4 1318.4L2032.9 1317.5L2035.4 1316.8L2038 1316L2040.5 1315.3L2043.1 1314.6L2045.6 1314L2048.2 1313.4L2050.7 1312.8L2053.2 1312.4L2055.8 1311.9L2058.3 1311.6L2060.9 1311.3L2063.4 1311.1L2065.9 1311L2068.5 1310.9L2071 1311.1L2073.6 1311.5L2076.1 1312L2078.7 1312.8L2081.2 1313.7L2083.7 1314.7L2086.3 1315.8L2088.8 1317L2091.4 1318.3L2093.9 1319.7L2096.5 1321L2099 1322.4L2101.5 1323.9L2104.1 1325.5L2106.6 1327.3L2109.2 1329.4L2111.7 1331.6L2114.3 1334L2116.8 1336.6L2119.3 1339.3L2121.9 1342L2124.4 1344.9L2127 1347.9L2129.5 1350.8L2132.1 1353.9L2134.6 1357.3L2137.1 1360.8L2139.7 1364.4L2142.2 1368.3L2144.8 1372.3L2147.3 1376.4L2149.9 1380.6L2152.4 1384.9L2154.9 1389.3L2157.5 1393.7L2160 1398.2L2162.6 1402.7L2165.1 1407.2L2167.7 1411.8L2170.2 1416.3L2172.7 1420.9L2175.3 1425.6L2177.8 1430.4L2180.4 1435.3L2182.9 1440.2L2185.5 1445.2L2188 1450.2L2190.5 1455.4L2193.1 1460.6L2195.6 1465.9L2198.2 1471.2L2200.7 1476.6L2203.3 1482.1L2205.8 1487.6L2208.3 1493.2L2210.9 1498.9L2213.4 1504.8L2216 1510.8L2218.5 1516.9L2221.1 1523.1L2223.6 1529.4L2226.1 1535.8L2228.7 1542.2L2231.2 1549L2233.8 1556.1L2236.3 1563.3L2238.9 1570.4L2241.4 1577.4L2243.9 1584L2246.5 1590.1L2249 1595.8L2251.6 1601.3L2254.1 1606.7L2256.7 1612L2259.2 1617L2261.7 1622L2264.3 1626.8L2266.8 1631.5L2269.4 1636.1L2271.9 1640.6L2274.5 1645L2277 1649.3L2279.5 1653.5L2282.1 1657.7L2284.6 1661.7L2287.2 1665.7L2289.7 1669.7L2292.3 1673.5L2294.8 1677.2L2297.3 1680.8L2299.9 1684.4L2302.4 1687.8L2305 1691.1L2307.5 1694.3L2310 1697.4L2312.6 1700.4L2315.1 1703.3L2317.7 1706.2L2320.2 1709L2322.8 1711.7L2325.3 1714.3L2327.8 1716.9L2330.4 1719.4L2332.9 1721.9L2335.5 1724.3L2338 1726.6L2340.6 1728.9L2343.1 1731.1L2345.6 1733.3L2348.2 1735.4L2350.7 1737.5L2353.3 1739.6L2355.8 1741.6L2358.4 1743.5L2360.9 1745.4L2363.4 1747.3L2366 1749L2368.5 1750.8L2371.1 1752.5L2373.6 1754.1L2376.2 1755.7L2378.7 1757.3L2381.2 1758.8L2383.8 1760.3L2386.3 1761.8L2388.9 1763.2L2391.4 1764.6L2394 1765.9L2396.5 1767.2L2399 1768.5L2401.6 1769.7L2404.1 1770.9L2406.7 1772L2409.2 1773.2L2411.8 1774.3L2414.3 1775.4L2416.8 1776.5L2419.4 1777.6L2421.9 1778.6L2424.5 1779.7L2427 1780.7L2429.6 1781.6L2432.1 1782.6L2434.6 1783.5L2437.2 1784.4L2439.7 1785.2L2442.3 1786L2444.8 1786.8L2447.4 1787.6L2449.9 1788.2L2452.4 1788.9L2455 1789.6L2457.5 1790.3L2460.1 1790.9L2462.6 1791.6L2465.2 1792.2L2467.7 1792.8L2470.2 1793.4L2472.8 1794L2475.3 1794.6L2477.9 1795.1L2480.4 1795.7L2483 1796.2L2485.5 1796.7L2488 1797.2L2490.6 1797.7L2493.1 1798.1L2495.7 1798.5L2498.2 1798.9L2500.8 1799.3L2503.3 1799.6L2505.8 1799.9L2508.4 1800.2" fill="none" stroke="#000" stroke-width="2.3" stroke-linejoin="round"/>
<path d="M1463.2 1776.4L1465.8 1775.6L1468.4 1774.9L1471 1774.1L1473.6 1773.4L1476.3 1772.7L1478.9 1772L1481.5 1771.3L1484.1 1770.7L1486.7 1770.1L1489.4 1769.5L1492 1768.9L1494.6 1768.2L1497.2 1767.6L1499.8 1767L1502.5 1766.4L1505.1 1765.8L1507.7 1765.4L1510.3 1765.1L1512.9 1764.9L1515.5 1764.8L1518.2 1764.8L1520.8 1764.9L1523.4 1764.9L1526 1765L1528.6 1765.1L1531.3 1765.2L1533.9 1765.4L1536.5 1765.5L1539.1 1765.6L1541.7 1765.8L1544.4 1766L1547 1766.2L1549.6 1766.4L1552.2 1766.6L1554.8 1766.7L1557.5 1766.9L1560.1 1767.1L1562.7 1767.2L1565.3 1767.4L1567.9 1767.6L1570.6 1767.8L1573.2 1768.1L1575.8 1768.4L1578.4 1768.8L1581 1769.2L1583.7 1769.6L1586.3 1770L1588.9 1770.4L1591.5 1770.7L1594.1 1771L1596.8 1771.3L1599.4 1771.6L1602 1771.9L1604.6 1772L1607.2 1772.1L1609.9 1772L1612.5 1771.7L1615.1 1771.4L1617.7 1771L1620.3 1770.4L1623 1769.9L1625.6 1769.3L1628.2 1768.6L1630.8 1767.9L1633.4 1766.8L1636.1 1765.6L1638.7 1764.2L1641.3 1762.7L1643.9 1761.3L1646.5 1759.8L1649.1 1758.3L1651.8 1756.7L1654.4 1755.1L1657 1753.3L1659.6 1751.5L1662.2 1749.5L1664.9 1747.3L1667.5 1745L1670.1 1742.7L1672.7 1740.3L1675.3 1737.8L1678 1735.3L1680.6 1732.7L1683.2 1730L1685.8 1727.3L1688.4 1724.6L1691.1 1722L1693.7 1719.4L1696.3 1716.8L1698.9 1714.1L1701.5 1711.2L1704.2 1708.1L1706.8 1704.8L1709.4 1701.4L1712 1697.8L1714.6 1694L1717.3 1690L1719.9 1685.9L1722.5 1681.3L1725.1 1676.4L1727.7 1671.2L1730.4 1665.9L1733 1660.5L1735.6 1655.1L1738.2 1649.9L1740.8 1644.6L1743.5 1639.3L1746.1 1634L1748.7 1628.7L1751.3 1623.3L1753.9 1617.9L1756.6 1612.5L1759.2 1607L1761.8 1601.6L1764.4 1596.1L1767 1590.5L1769.7 1585L1772.3 1579.4L1774.9 1573.8L1777.5 1568.1L1780.1 1562.4L1782.7 1556.7L1785.4 1551L1788 1545.2L1790.6 1539.4L1793.2 1533.6L1795.8 1527.7L1798.5 1521.8L1801.1 1515.9L1803.7 1509.9L1806.3 1504L1808.9 1498L1811.6 1491.8L1814.2 1485.5L1816.8 1479L1819.4 1472.5L1822 1465.9L1824.7 1459.3L1827.3 1452.9L1829.9 1446.5L1832.5 1440.3L1835.1 1434.4L1837.8 1428.8L1840.4 1423.5L1843 1418.5L1845.6 1413.6L1848.2 1408.8L1850.9 1404.1L1853.5 1399.6L1856.1 1395.1L1858.7 1390.8L1861.3 1386.5L1864 1382.4L1866.6 1378.3L1869.2 1374.3L1871.8 1370.3L1874.4 1366.4L1877.1 1362.6L1879.7 1358.8L1882.3 1354.9L1884.9 1351.2L1887.5 1347.4L1890.2 1343.7L1892.8 1340L1895.4 1336.4L1898 1332.9L1900.6 1329.4L1903.3 1326.1L1905.9 1322.8L1908.5 1319.7L1911.1 1316.7L1913.7 1313.8L1916.3 1311L1919 1308.4L1921.6 1305.8L1924.2 1303.2L1926.8 1300.6L1929.4 1298.1L1932.1 1295.6L1934.7 1293.2L1937.3 1290.9L1939.9 1288.7L1942.5 1286.6L1945.2 1284.7L1947.8 1283L1950.4 1281.5L1953 1280.1L1955.6 1279L1958.3 1278L1960.9 1277.1L1963.5 1276.1L1966.1 1275.2L1968.7 1274.3L1971.4 1273.5L1974 1272.6L1976.6 1271.8L1979.2 1271.1L1981.8 1270.4L1984.5 1269.7L1987.1 1269.1L1989.7 1268.6L1992.3 1268.1L1994.9 1267.6L1997.6 1267.3L2000.2 1267L2002.8 1266.8L2005.4 1266.7L2008 1266.6L2010.7 1266.7L2013.3 1266.8L2015.9 1267.1L2018.5 1267.4L2021.1 1267.8L2023.8 1268.3L2026.4 1268.9L2029 1269.5L2031.6 1270.1L2034.2 1270.9L2036.9 1271.6L2039.5 1272.4L2042.1 1273.3L2044.7 1274.2L2047.3 1275L2049.9 1275.9L2052.6 1276.9L2055.2 1277.9L2057.8 1279.1L2060.4 1280.5L2063 1282.1L2065.7 1283.8L2068.3 1285.6L2070.9 1287.5L2073.5 1289.6L2076.1 1291.7L2078.8 1293.9L2081.4 1296.1L2084 1298.4L2086.6 1300.6L2089.2 1302.9L2091.9 1305.2L2094.5 1307.5L2097.1 1309.9L2099.7 1312.5L2102.3 1315L2105 1317.7L2107.6 1320.5L2110.2 1323.3L2112.8 1326.2L2115.4 1329.2L2118.1 1332.3L2120.7 1335.4L2123.3 1338.6L2125.9 1341.9L2128.5 1345.2L2131.2 1348.6L2133.8 1352.2L2136.4 1355.9L2139 1359.7L2141.6 1363.7L2144.3 1367.7L2146.9 1371.9L2149.5 1376.1L2152.1 1380.4L2154.7 1384.9L2157.4 1389.3L2160 1393.9L2162.6 1398.4L2165.2 1403.1L2167.8 1407.7L2170.5 1412.4L2173.1 1417.2L2175.7 1422.1L2178.3 1427L2180.9 1432L2183.5 1437.1L2186.2 1442.3L2188.8 1447.5L2191.4 1452.9L2194 1458.3L2196.6 1463.9L2199.3 1469.5L2201.9 1475.2L2204.5 1481L2207.1 1486.9L2209.7 1492.9L2212.4 1499.1L2215 1505.5L2217.6 1512L2220.2 1518.6L2222.8 1525.5L2225.5 1532.4L2228.1 1539.6L2230.7 1546.9L2233.3 1555L2235.9 1563.5L2238.6 1572.3L2241.2 1580.8L2243.8 1588.8L2246.4 1595.8L2249 1602L2251.7 1607.9L2254.3 1613.6L2256.9 1619L2259.5 1624.2L2262.1 1629.2L2264.8 1634L2267.4 1638.7L2270 1643.3L2272.6 1647.8L2275.2 1652.2L2277.9 1656.5L2280.5 1660.8L2283.1 1665L2285.7 1669.1L2288.3 1673.1L2291 1677.1L2293.6 1680.9L2296.2 1684.6L2298.8 1688.2L2301.4 1691.7L2304.1 1695.1L2306.7 1698.4L2309.3 1701.5L2311.9 1704.6L2314.5 1707.6L2317.1 1710.5L2319.8 1713.3L2322.4 1716.1L2325 1718.8L2327.6 1721.4L2330.2 1723.9L2332.9 1726.4L2335.5 1728.8L2338.1 1731.1L2340.7 1733.3L2343.3 1735.5L2346 1737.6L2348.6 1739.7L2351.2 1741.7L2353.8 1743.7L2356.4 1745.6L2359.1 1747.5L2361.7 1749.3L2364.3 1751L2366.9 1752.7L2369.5 1754.4L2372.2 1756L2374.8 1757.6L2377.4 1759.2L2380 1760.8L2382.6 1762.3L2385.3 1763.7L2387.9 1765.2L2390.5 1766.5L2393.1 1767.9L2395.7 1769.2L2398.4 1770.5L2401 1771.7L2403.6 1772.8L2406.2 1773.9L2408.8 1775L2411.5 1776.1L2414.1 1777.2L2416.7 1778.2L2419.3 1779.2L2421.9 1780.2L2424.6 1781.1L2427.2 1782.1L2429.8 1783L2432.4 1783.9L2435 1784.7L2437.7 1785.6L2440.3 1786.3L2442.9 1787.1L2445.5 1787.8L2448.1 1788.5L2450.7 1789.2L2453.4 1789.8L2456 1790.5L2458.6 1791.1L2461.2 1791.7L2463.8 1792.3L2466.5 1792.9L2469.1 1793.5L2471.7 1794.1L2474.3 1794.7L2476.9 1795.2L2479.6 1795.7L2482.2 1796.2L2484.8 1796.7L2487.4 1797.2L2490 1797.7L2492.7 1798.1L2495.3 1798.5L2497.9 1798.9L2500.5 1799.3L2503.1 1799.6L2505.8 1799.9L2508.4 1800.2" fill="none" stroke="#000" stroke-width="2.3" stroke-linejoin="round"/>
<path d="M1659.3 1759L1661.4 1758.3L1663.5 1757.6L1665.6 1756.9L1667.8 1756.2L1669.9 1755.5L1672 1754.8L1674.2 1754L1676.3 1753.3L1678.4 1752.5L1680.5 1751.8L1682.7 1751L1684.8 1750.2L1686.9 1749.3L1689.1 1748.4L1691.2 1747.4L1693.3 1746.3L1695.4 1745.2L1697.6 1744L1699.7 1742.8L1701.8 1741.4L1704 1740L1706.1 1738.5L1708.2 1736.7L1710.3 1734.8L1712.5 1732.7L1714.6 1730.6L1716.7 1728.4L1718.8 1726.1L1721 1723.9L1723.1 1721.6L1725.2 1719.2L1727.4 1716.8L1729.5 1714.3L1731.6 1711.7L1733.7 1709L1735.9 1706.2L1738 1703.1L1740.1 1699.9L1742.3 1696.5L1744.4 1693.1L1746.5 1689.6L1748.6 1686.2L1750.8 1682.9L1752.9 1679.8L1755 1676.8L1757.2 1673.8L1759.3 1670.8L1761.4 1667.7L1763.5 1664.4L1765.7 1660.8L1767.8 1657L1769.9 1653L1772.1 1648.7L1774.2 1644.3L1776.3 1639.7L1778.4 1635L1780.6 1630.2L1782.7 1625.3L1784.8 1620.2L1786.9 1614.9L1789.1 1609.5L1791.2 1604L1793.3 1598.6L1795.5 1593.2L1797.6 1588L1799.7 1582.8L1801.8 1577.5L1804 1572.3L1806.1 1567.1L1808.2 1562L1810.4 1556.8L1812.5 1551.7L1814.6 1546.6L1816.7 1541.6L1818.9 1536.6L1821 1531.7L1823.1 1526.8L1825.3 1522L1827.4 1517.1L1829.5 1512.3L1831.6 1507.5L1833.8 1502.7L1835.9 1497.8L1838 1493L1840.2 1488.1L1842.3 1483.2L1844.4 1478.2L1846.5 1473.2L1848.7 1468.2L1850.8 1463.2L1852.9 1458.2L1855 1453.2L1857.2 1448.2L1859.3 1443.2L1861.4 1438.3L1863.6 1433.4L1865.7 1428.4L1867.8 1423.5L1869.9 1418.5L1872.1 1413.5L1874.2 1408.6L1876.3 1403.7L1878.5 1398.9L1880.6 1394.2L1882.7 1389.7L1884.8 1385.3L1887 1381L1889.1 1376.9L1891.2 1372.8L1893.4 1368.8L1895.5 1364.9L1897.6 1361.1L1899.7 1357.4L1901.9 1353.8L1904 1350.2L1906.1 1346.7L1908.3 1343.2L1910.4 1339.8L1912.5 1336.4L1914.6 1333.1L1916.8 1329.9L1918.9 1326.8L1921 1323.7L1923.1 1320.8L1925.3 1317.9L1927.4 1315.1L1929.5 1312.4L1931.7 1309.7L1933.8 1307L1935.9 1304.3L1938 1301.7L1940.2 1299.2L1942.3 1296.8L1944.4 1294.4L1946.6 1292.1L1948.7 1289.8L1950.8 1287.7L1952.9 1285.6L1955.1 1283.7L1957.2 1281.8L1959.3 1280L1961.5 1278.2L1963.6 1276.4L1965.7 1274.7L1967.8 1273.1L1970 1271.5L1972.1 1269.9L1974.2 1268.5L1976.4 1267L1978.5 1265.7L1980.6 1264.4L1982.7 1263.2L1984.9 1262L1987 1261L1989.1 1259.9L1991.2 1258.9L1993.4 1257.9L1995.5 1256.9L1997.6 1255.9L1999.8 1255L2001.9 1254.1L2004 1253.3L2006.1 1252.5L2008.3 1251.8L2010.4 1251.2L2012.5 1250.7L2014.7 1250.2L2016.8 1249.8L2018.9 1249.5L2021 1249.2L2023.2 1248.8L2025.3 1248.5L2027.4 1248.2L2029.6 1248L2031.7 1247.7L2033.8 1247.4L2035.9 1247.2L2038.1 1247L2040.2 1246.8L2042.3 1246.7L2044.5 1246.5L2046.6 1246.4L2048.7 1246.4L2050.8 1246.3L2053 1246.3L2055.1 1246.4L2057.2 1246.5L2059.3 1246.7L2061.5 1247L2063.6 1247.4L2065.7 1247.8L2067.9 1248.3L2070 1248.8L2072.1 1249.4L2074.2 1250L2076.4 1250.7L2078.5 1251.4L2080.6 1252.1L2082.8 1252.8L2084.9 1253.6L2087 1254.3L2089.1 1255.1L2091.3 1255.9L2093.4 1256.7L2095.5 1257.6L2097.7 1258.6L2099.8 1259.7L2101.9 1260.9L2104 1262.2L2106.2 1263.5L2108.3 1264.9L2110.4 1266.3L2112.6 1267.8L2114.7 1269.4L2116.8 1271L2118.9 1272.6L2121.1 1274.3L2123.2 1276L2125.3 1277.7L2127.4 1279.4L2129.6 1281.2L2131.7 1283L2133.8 1284.8L2136 1286.8L2138.1 1288.8L2140.2 1290.8L2142.3 1293L2144.5 1295.2L2146.6 1297.4L2148.7 1299.7L2150.9 1302.1L2153 1304.6L2155.1 1307L2157.2 1309.6L2159.4 1312.2L2161.5 1314.8L2163.6 1317.5L2165.8 1320.2L2167.9 1323L2170 1325.8L2172.1 1328.7L2174.3 1331.8L2176.4 1334.9L2178.5 1338.2L2180.7 1341.5L2182.8 1344.9L2184.9 1348.4L2187 1352L2189.2 1355.6L2191.3 1359.3L2193.4 1363.1L2195.5 1366.9L2197.7 1370.7L2199.8 1374.7L2201.9 1378.8L2204.1 1383.1L2206.2 1387.4L2208.3 1391.9L2210.4 1396.4L2212.6 1401L2214.7 1405.6L2216.8 1410.2L2219 1414.9L2221.1 1419.6L2223.2 1424.3L2225.3 1428.9L2227.5 1433.6L2229.6 1438.3L2231.7 1443.1L2233.9 1447.8L2236 1452.6L2238.1 1457.4L2240.2 1462.1L2242.4 1466.8L2244.5 1471.3L2246.6 1475.9L2248.8 1480.5L2250.9 1485.1L2253 1489.7L2255.1 1494.5L2257.3 1499.3L2259.4 1504.4L2261.5 1509.5L2263.6 1514.8L2265.8 1520.2L2267.9 1525.7L2270 1531.2L2272.2 1536.7L2274.3 1542.3L2276.4 1547.8L2278.5 1553.2L2280.7 1558.5L2282.8 1563.7L2284.9 1568.7L2287.1 1573.7L2289.2 1578.6L2291.3 1583.5L2293.4 1588.3L2295.6 1593.1L2297.7 1597.8L2299.8 1602.5L2302 1607.1L2304.1 1611.6L2306.2 1616L2308.3 1620.2L2310.5 1624.4L2312.6 1628.4L2314.7 1632.4L2316.8 1636.3L2319 1640.1L2321.1 1643.8L2323.2 1647.5L2325.4 1651.1L2327.5 1654.6L2329.6 1658.1L2331.7 1661.5L2333.9 1664.9L2336 1668.2L2338.1 1671.4L2340.3 1674.6L2342.4 1677.7L2344.5 1680.8L2346.6 1683.8L2348.8 1686.7L2350.9 1689.7L2353 1692.5L2355.2 1695.4L2357.3 1698.2L2359.4 1700.9L2361.5 1703.6L2363.7 1706.2L2365.8 1708.8L2367.9 1711.4L2370.1 1713.9L2372.2 1716.3L2374.3 1718.8L2376.4 1721.1L2378.6 1723.4L2380.7 1725.7L2382.8 1727.9L2384.9 1730.1L2387.1 1732.3L2389.2 1734.4L2391.3 1736.5L2393.5 1738.6L2395.6 1740.6L2397.7 1742.6L2399.8 1744.6L2402 1746.4L2404.1 1748.3L2406.2 1750.1L2408.4 1751.8L2410.5 1753.5L2412.6 1755.2L2414.7 1756.7L2416.9 1758.3L2419 1759.8L2421.1 1761.2L2423.3 1762.6L2425.4 1764L2427.5 1765.3L2429.6 1766.6L2431.8 1767.9L2433.9 1769.1L2436 1770.4L2438.2 1771.6L2440.3 1772.8L2442.4 1774L2444.5 1775.2L2446.7 1776.4L2448.8 1777.5L2450.9 1778.7L2453 1779.8L2455.2 1780.8L2457.3 1781.9L2459.4 1782.9L2461.6 1783.9L2463.7 1784.9L2465.8 1785.8L2467.9 1786.7L2470.1 1787.6L2472.2 1788.5L2474.3 1789.4L2476.5 1790.3L2478.6 1791.1L2480.7 1792L2482.8 1792.8L2485 1793.6L2487.1 1794.4L2489.2 1795.2L2491.4 1796L2493.5 1796.7L2495.6 1797.5L2497.7 1798.2L2499.9 1798.9L2502 1799.5L2504.1 1800.2L2506.3 1800.8L2508.4 1801.4" fill="none" stroke="#000" stroke-width="2.3" stroke-linejoin="round"/>
<path d="M1600.8 1804.5L1603.1 1804.4L1605.3 1804.4L1607.6 1804.3L1609.9 1804.3L1612.2 1804.2L1614.4 1804L1616.7 1803.9L1619 1803.8L1621.3 1803.6L1623.5 1803.4L1625.8 1803.2L1628.1 1803L1630.3 1802.8L1632.6 1802.6L1634.9 1802.4L1637.2 1802.1L1639.4 1801.9L1641.7 1801.7L1644 1801.4L1646.3 1801.1L1648.5 1800.7L1650.8 1800.4L1653.1 1800L1655.4 1799.5L1657.6 1799L1659.9 1798.5L1662.2 1798L1664.5 1797.4L1666.7 1796.8L1669 1796.1L1671.3 1795.3L1673.6 1794.4L1675.8 1793.5L1678.1 1792.5L1680.4 1791.5L1682.7 1790.4L1684.9 1789.3L1687.2 1788L1689.5 1786.6L1691.8 1785L1694 1783.4L1696.3 1781.6L1698.6 1779.6L1700.9 1777.6L1703.1 1775.4L1705.4 1772.9L1707.7 1770.1L1710 1767.1L1712.2 1763.9L1714.5 1760.6L1716.8 1757.3L1719.1 1753.9L1721.3 1750.4L1723.6 1746.7L1725.9 1742.9L1728.2 1739L1730.4 1734.9L1732.7 1730.7L1735 1726.3L1737.3 1721.6L1739.5 1716.8L1741.8 1711.8L1744.1 1706.7L1746.4 1701.5L1748.6 1696.4L1750.9 1691.2L1753.2 1686L1755.5 1680.6L1757.7 1675.3L1760 1669.9L1762.3 1664.5L1764.6 1659.2L1766.8 1653.8L1769.1 1648.4L1771.4 1643L1773.7 1637.6L1775.9 1632.2L1778.2 1626.8L1780.5 1621.4L1782.8 1616L1785 1610.6L1787.3 1605.2L1789.6 1599.7L1791.9 1594.3L1794.1 1588.9L1796.4 1583.4L1798.7 1578L1801 1572.6L1803.2 1567.2L1805.5 1561.9L1807.8 1556.5L1810.1 1551.2L1812.3 1546L1814.6 1540.8L1816.9 1535.6L1819.1 1530.5L1821.4 1525.4L1823.7 1520.4L1826 1515.4L1828.2 1510.4L1830.5 1505.5L1832.8 1500.5L1835.1 1495.5L1837.3 1490.5L1839.6 1485.4L1841.9 1480.2L1844.2 1474.9L1846.4 1469.5L1848.7 1464L1851 1458.4L1853.3 1452.8L1855.5 1447.2L1857.8 1441.6L1860.1 1436L1862.4 1430.5L1864.6 1425.1L1866.9 1419.8L1869.2 1414.6L1871.5 1409.6L1873.7 1404.8L1876 1400.2L1878.3 1395.8L1880.6 1391.5L1882.8 1387.3L1885.1 1383.2L1887.4 1379.1L1889.7 1375L1891.9 1371.1L1894.2 1367.2L1896.5 1363.4L1898.8 1359.7L1901 1356.1L1903.3 1352.7L1905.6 1349.4L1907.9 1346.2L1910.1 1343.2L1912.4 1340.3L1914.7 1337.6L1917 1335.1L1919.2 1332.8L1921.5 1330.4L1923.8 1328.1L1926.1 1325.8L1928.3 1323.6L1930.6 1321.4L1932.9 1319.3L1935.2 1317.3L1937.4 1315.4L1939.7 1313.5L1942 1311.8L1944.3 1310.2L1946.5 1308.8L1948.8 1307.5L1951.1 1306.3L1953.4 1305.3L1955.6 1304.4L1957.9 1303.7L1960.2 1303L1962.5 1302.3L1964.7 1301.6L1967 1300.9L1969.3 1300.3L1971.6 1299.7L1973.8 1299.1L1976.1 1298.6L1978.4 1298.1L1980.7 1297.7L1982.9 1297.3L1985.2 1297L1987.5 1296.8L1989.8 1296.6L1992 1296.5L1994.3 1296.4L1996.6 1296.5L1998.8 1296.6L2001.1 1296.9L2003.4 1297.3L2005.7 1297.7L2007.9 1298.3L2010.2 1298.9L2012.5 1299.6L2014.8 1300.4L2017 1301.2L2019.3 1302.1L2021.6 1303L2023.9 1304L2026.1 1305L2028.4 1306L2030.7 1307L2033 1308L2035.2 1309.1L2037.5 1310.3L2039.8 1311.7L2042.1 1313.2L2044.3 1314.8L2046.6 1316.5L2048.9 1318.4L2051.2 1320.3L2053.4 1322.4L2055.7 1324.5L2058 1326.7L2060.3 1328.9L2062.5 1331.2L2064.8 1333.5L2067.1 1335.9L2069.4 1338.3L2071.6 1340.7L2073.9 1343.2L2076.2 1345.8L2078.5 1348.5L2080.7 1351.3L2083 1354.3L2085.3 1357.4L2087.6 1360.5L2089.8 1363.7L2092.1 1367.1L2094.4 1370.4L2096.7 1373.9L2098.9 1377.3L2101.2 1380.9L2103.5 1384.4L2105.8 1388L2108 1391.6L2110.3 1395.3L2112.6 1398.9L2114.9 1402.7L2117.1 1406.6L2119.4 1410.6L2121.7 1414.6L2124 1418.7L2126.2 1422.9L2128.5 1427.1L2130.8 1431.4L2133.1 1435.7L2135.3 1440L2137.6 1444.3L2139.9 1448.6L2142.2 1453L2144.4 1457.5L2146.7 1462L2149 1466.6L2151.3 1471.2L2153.5 1475.8L2155.8 1480.5L2158.1 1485.1L2160.4 1489.8L2162.6 1494.4L2164.9 1499.1L2167.2 1503.7L2169.5 1508.2L2171.7 1512.6L2174 1516.9L2176.3 1521.2L2178.6 1525.5L2180.8 1530.1L2183.1 1534.8L2185.4 1539.9L2187.6 1545.5L2189.9 1551.7L2192.2 1558.3L2194.5 1565.1L2196.7 1571.8L2199 1578.2L2201.3 1584.1L2203.6 1589.6L2205.8 1594.9L2208.1 1600.2L2210.4 1605.3L2212.7 1610.4L2214.9 1615.3L2217.2 1620.1L2219.5 1624.8L2221.8 1629.3L2224 1633.8L2226.3 1638.1L2228.6 1642.3L2230.9 1646.4L2233.1 1650.4L2235.4 1654.3L2237.7 1658L2240 1661.7L2242.2 1665.4L2244.5 1668.9L2246.8 1672.3L2249.1 1675.7L2251.3 1679L2253.6 1682.1L2255.9 1685.3L2258.2 1688.3L2260.4 1691.2L2262.7 1694.1L2265 1696.9L2267.3 1699.6L2269.5 1702.3L2271.8 1704.9L2274.1 1707.5L2276.4 1710L2278.6 1712.4L2280.9 1714.8L2283.2 1717.2L2285.5 1719.4L2287.7 1721.6L2290 1723.8L2292.3 1725.9L2294.6 1727.9L2296.8 1729.8L2299.1 1731.8L2301.4 1733.6L2303.7 1735.5L2305.9 1737.3L2308.2 1739L2310.5 1740.7L2312.8 1742.4L2315 1744L2317.3 1745.6L2319.6 1747.1L2321.9 1748.6L2324.1 1750L2326.4 1751.4L2328.7 1752.7L2331 1754L2333.2 1755.3L2335.5 1756.5L2337.8 1757.8L2340.1 1758.9L2342.3 1760.1L2344.6 1761.2L2346.9 1762.3L2349.2 1763.4L2351.4 1764.4L2353.7 1765.4L2356 1766.3L2358.3 1767.3L2360.5 1768.2L2362.8 1769.1L2365.1 1769.9L2367.4 1770.8L2369.6 1771.6L2371.9 1772.5L2374.2 1773.3L2376.4 1774.1L2378.7 1774.9L2381 1775.6L2383.3 1776.4L2385.5 1777.1L2387.8 1777.8L2390.1 1778.5L2392.4 1779.2L2394.6 1779.8L2396.9 1780.5L2399.2 1781.1L2401.5 1781.7L2403.7 1782.3L2406 1782.9L2408.3 1783.4L2410.6 1784L2412.8 1784.5L2415.1 1785L2417.4 1785.5L2419.7 1786.1L2421.9 1786.6L2424.2 1787L2426.5 1787.5L2428.8 1788L2431 1788.4L2433.3 1788.9L2435.6 1789.3L2437.9 1789.7L2440.1 1790.1L2442.4 1790.5L2444.7 1790.9L2447 1791.3L2449.2 1791.7L2451.5 1792.1L2453.8 1792.4L2456.1 1792.8L2458.3 1793.1L2460.6 1793.5L2462.9 1793.8L2465.2 1794.2L2467.4 1794.5L2469.7 1794.9L2472 1795.2L2474.3 1795.5L2476.5 1795.8L2478.8 1796.1L2481.1 1796.4L2483.4 1796.7L2485.6 1797L2487.9 1797.3L2490.2 1797.6L2492.5 1797.9L2494.7 1798.1L2497 1798.4L2499.3 1798.6L2501.6 1798.9L2503.8 1799.1L2506.1 1799.3L2508.4 1799.5" fill="none" stroke="#000" stroke-width="2.3" stroke-linejoin="round"/>
</g>
<rect x="1447.4" y="1189.5" width="1062.2" height="798.1" fill="none" stroke="#000" stroke-width="5"/>
<line x1="1492.3" y1="1987.6" x2="1492.3" y2="1979.1" stroke="#000" stroke-width="3.4" />
<line x1="1519.1" y1="1987.6" x2="1519.1" y2="1979.1" stroke="#000" stroke-width="3.4" />
<line x1="1538.1" y1="1987.6" x2="1538.1" y2="1979.1" stroke="#000" stroke-width="3.4" />
<line x1="1552.8" y1="1987.6" x2="1552.8" y2="1979.1" stroke="#000" stroke-width="3.4" />
<line x1="1564.8" y1="1987.6" x2="1564.8" y2="1979.1" stroke="#000" stroke-width="3.4" />
<line x1="1575" y1="1987.6" x2="1575" y2="1979.1" stroke="#000" stroke-width="3.4" />
<line x1="1583.8" y1="1987.6" x2="1583.8" y2="1979.1" stroke="#000" stroke-width="3.4" />
<line x1="1591.5" y1="1987.6" x2="1591.5" y2="1979.1" stroke="#000" stroke-width="3.4" />
<line x1="1598.5" y1="1987.6" x2="1598.5" y2="1971.1" stroke="#000" stroke-width="3.4" />
<line x1="1644.2" y1="1987.6" x2="1644.2" y2="1979.1" stroke="#000" stroke-width="3.4" />
<line x1="1671" y1="1987.6" x2="1671" y2="1979.1" stroke="#000" stroke-width="3.4" />
<line x1="1690" y1="1987.6" x2="1690" y2="1979.1" stroke="#000" stroke-width="3.4" />
<line x1="1704.7" y1="1987.6" x2="1704.7" y2="1979.1" stroke="#000" stroke-width="3.4" />
<line x1="1716.7" y1="1987.6" x2="1716.7" y2="1979.1" stroke="#000" stroke-width="3.4" />
<line x1="1726.9" y1="1987.6" x2="1726.9" y2="1979.1" stroke="#000" stroke-width="3.4" />
<line x1="1735.7" y1="1987.6" x2="1735.7" y2="1979.1" stroke="#000" stroke-width="3.4" />
<line x1="1743.4" y1="1987.6" x2="1743.4" y2="1979.1" stroke="#000" stroke-width="3.4" />
<line x1="1750.4" y1="1987.6" x2="1750.4" y2="1971.1" stroke="#000" stroke-width="3.4" />
<line x1="1796.1" y1="1987.6" x2="1796.1" y2="1979.1" stroke="#000" stroke-width="3.4" />
<line x1="1822.9" y1="1987.6" x2="1822.9" y2="1979.1" stroke="#000" stroke-width="3.4" />
<line x1="1841.9" y1="1987.6" x2="1841.9" y2="1979.1" stroke="#000" stroke-width="3.4" />
<line x1="1856.6" y1="1987.6" x2="1856.6" y2="1979.1" stroke="#000" stroke-width="3.4" />
<line x1="1868.6" y1="1987.6" x2="1868.6" y2="1979.1" stroke="#000" stroke-width="3.4" />
<line x1="1878.8" y1="1987.6" x2="1878.8" y2="1979.1" stroke="#000" stroke-width="3.4" />
<line x1="1887.6" y1="1987.6" x2="1887.6" y2="1979.1" stroke="#000" stroke-width="3.4" />
<line x1="1895.3" y1="1987.6" x2="1895.3" y2="1979.1" stroke="#000" stroke-width="3.4" />
<line x1="1902.3" y1="1987.6" x2="1902.3" y2="1971.1" stroke="#000" stroke-width="3.4" />
<line x1="1948" y1="1987.6" x2="1948" y2="1979.1" stroke="#000" stroke-width="3.4" />
<line x1="1974.8" y1="1987.6" x2="1974.8" y2="1979.1" stroke="#000" stroke-width="3.4" />
<line x1="1993.8" y1="1987.6" x2="1993.8" y2="1979.1" stroke="#000" stroke-width="3.4" />
<line x1="2008.5" y1="1987.6" x2="2008.5" y2="1979.1" stroke="#000" stroke-width="3.4" />
<line x1="2020.5" y1="1987.6" x2="2020.5" y2="1979.1" stroke="#000" stroke-width="3.4" />
<line x1="2030.7" y1="1987.6" x2="2030.7" y2="1979.1" stroke="#000" stroke-width="3.4" />
<line x1="2039.5" y1="1987.6" x2="2039.5" y2="1979.1" stroke="#000" stroke-width="3.4" />
<line x1="2047.2" y1="1987.6" x2="2047.2" y2="1979.1" stroke="#000" stroke-width="3.4" />
<line x1="2054.2" y1="1987.6" x2="2054.2" y2="1971.1" stroke="#000" stroke-width="3.4" />
<line x1="2099.9" y1="1987.6" x2="2099.9" y2="1979.1" stroke="#000" stroke-width="3.4" />
<line x1="2126.7" y1="1987.6" x2="2126.7" y2="1979.1" stroke="#000" stroke-width="3.4" />
<line x1="2145.7" y1="1987.6" x2="2145.7" y2="1979.1" stroke="#000" stroke-width="3.4" />
<line x1="2160.4" y1="1987.6" x2="2160.4" y2="1979.1" stroke="#000" stroke-width="3.4" />
<line x1="2172.4" y1="1987.6" x2="2172.4" y2="1979.1" stroke="#000" stroke-width="3.4" />
<line x1="2182.6" y1="1987.6" x2="2182.6" y2="1979.1" stroke="#000" stroke-width="3.4" />
<line x1="2191.4" y1="1987.6" x2="2191.4" y2="1979.1" stroke="#000" stroke-width="3.4" />
<line x1="2199.1" y1="1987.6" x2="2199.1" y2="1979.1" stroke="#000" stroke-width="3.4" />
<line x1="2206.1" y1="1987.6" x2="2206.1" y2="1971.1" stroke="#000" stroke-width="3.4" />
<line x1="2251.8" y1="1987.6" x2="2251.8" y2="1979.1" stroke="#000" stroke-width="3.4" />
<line x1="2278.6" y1="1987.6" x2="2278.6" y2="1979.1" stroke="#000" stroke-width="3.4" />
<line x1="2297.6" y1="1987.6" x2="2297.6" y2="1979.1" stroke="#000" stroke-width="3.4" />
<line x1="2312.3" y1="1987.6" x2="2312.3" y2="1979.1" stroke="#000" stroke-width="3.4" />
<line x1="2324.3" y1="1987.6" x2="2324.3" y2="1979.1" stroke="#000" stroke-width="3.4" />
<line x1="2334.5" y1="1987.6" x2="2334.5" y2="1979.1" stroke="#000" stroke-width="3.4" />
<line x1="2343.3" y1="1987.6" x2="2343.3" y2="1979.1" stroke="#000" stroke-width="3.4" />
<line x1="2351" y1="1987.6" x2="2351" y2="1979.1" stroke="#000" stroke-width="3.4" />
<line x1="2358" y1="1987.6" x2="2358" y2="1971.1" stroke="#000" stroke-width="3.4" />
<line x1="2403.7" y1="1987.6" x2="2403.7" y2="1979.1" stroke="#000" stroke-width="3.4" />
<line x1="2430.5" y1="1987.6" x2="2430.5" y2="1979.1" stroke="#000" stroke-width="3.4" />
<line x1="2449.5" y1="1987.6" x2="2449.5" y2="1979.1" stroke="#000" stroke-width="3.4" />
<line x1="2464.2" y1="1987.6" x2="2464.2" y2="1979.1" stroke="#000" stroke-width="3.4" />
<line x1="2476.2" y1="1987.6" x2="2476.2" y2="1979.1" stroke="#000" stroke-width="3.4" />
<line x1="2486.4" y1="1987.6" x2="2486.4" y2="1979.1" stroke="#000" stroke-width="3.4" />
<line x1="2495.2" y1="1987.6" x2="2495.2" y2="1979.1" stroke="#000" stroke-width="3.4" />
<line x1="2502.9" y1="1987.6" x2="2502.9" y2="1979.1" stroke="#000" stroke-width="3.4" />
<line x1="1447.4" y1="1980.5" x2="1455.9" y2="1980.5" stroke="#000" stroke-width="3.4" />
<line x1="1447.4" y1="1966" x2="1455.9" y2="1966" stroke="#000" stroke-width="3.4" />
<line x1="1447.4" y1="1951.4" x2="1463.9" y2="1951.4" stroke="#000" stroke-width="3.4" />
<line x1="1447.4" y1="1936.9" x2="1455.9" y2="1936.9" stroke="#000" stroke-width="3.4" />
<line x1="1447.4" y1="1922.4" x2="1455.9" y2="1922.4" stroke="#000" stroke-width="3.4" />
<line x1="1447.4" y1="1907.9" x2="1455.9" y2="1907.9" stroke="#000" stroke-width="3.4" />
<line x1="1447.4" y1="1893.3" x2="1455.9" y2="1893.3" stroke="#000" stroke-width="3.4" />
<line x1="1447.4" y1="1878.8" x2="1463.9" y2="1878.8" stroke="#000" stroke-width="3.4" />
<line x1="1447.4" y1="1864.3" x2="1455.9" y2="1864.3" stroke="#000" stroke-width="3.4" />
<line x1="1447.4" y1="1849.8" x2="1455.9" y2="1849.8" stroke="#000" stroke-width="3.4" />
<line x1="1447.4" y1="1835.2" x2="1455.9" y2="1835.2" stroke="#000" stroke-width="3.4" />
<line x1="1447.4" y1="1820.7" x2="1455.9" y2="1820.7" stroke="#000" stroke-width="3.4" />
<line x1="1447.4" y1="1806.2" x2="1463.9" y2="1806.2" stroke="#000" stroke-width="3.4" />
<line x1="1447.4" y1="1791.7" x2="1455.9" y2="1791.7" stroke="#000" stroke-width="3.4" />
<line x1="1447.4" y1="1777.2" x2="1455.9" y2="1777.2" stroke="#000" stroke-width="3.4" />
<line x1="1447.4" y1="1762.6" x2="1455.9" y2="1762.6" stroke="#000" stroke-width="3.4" />
<line x1="1447.4" y1="1748.1" x2="1455.9" y2="1748.1" stroke="#000" stroke-width="3.4" />
<line x1="1447.4" y1="1733.6" x2="1463.9" y2="1733.6" stroke="#000" stroke-width="3.4" />
<line x1="1447.4" y1="1719.1" x2="1455.9" y2="1719.1" stroke="#000" stroke-width="3.4" />
<line x1="1447.4" y1="1704.5" x2="1455.9" y2="1704.5" stroke="#000" stroke-width="3.4" />
<line x1="1447.4" y1="1690" x2="1455.9" y2="1690" stroke="#000" stroke-width="3.4" />
<line x1="1447.4" y1="1675.5" x2="1455.9" y2="1675.5" stroke="#000" stroke-width="3.4" />
<line x1="1447.4" y1="1661" x2="1463.9" y2="1661" stroke="#000" stroke-width="3.4" />
<line x1="1447.4" y1="1646.4" x2="1455.9" y2="1646.4" stroke="#000" stroke-width="3.4" />
<line x1="1447.4" y1="1631.9" x2="1455.9" y2="1631.9" stroke="#000" stroke-width="3.4" />
<line x1="1447.4" y1="1617.4" x2="1455.9" y2="1617.4" stroke="#000" stroke-width="3.4" />
<line x1="1447.4" y1="1602.9" x2="1455.9" y2="1602.9" stroke="#000" stroke-width="3.4" />
<line x1="1447.4" y1="1588.3" x2="1463.9" y2="1588.3" stroke="#000" stroke-width="3.4" />
<line x1="1447.4" y1="1573.8" x2="1455.9" y2="1573.8" stroke="#000" stroke-width="3.4" />
<line x1="1447.4" y1="1559.3" x2="1455.9" y2="1559.3" stroke="#000" stroke-width="3.4" />
<line x1="1447.4" y1="1544.8" x2="1455.9" y2="1544.8" stroke="#000" stroke-width="3.4" />
<line x1="1447.4" y1="1530.2" x2="1455.9" y2="1530.2" stroke="#000" stroke-width="3.4" />
<line x1="1447.4" y1="1515.7" x2="1463.9" y2="1515.7" stroke="#000" stroke-width="3.4" />
<line x1="1447.4" y1="1501.2" x2="1455.9" y2="1501.2" stroke="#000" stroke-width="3.4" />
<line x1="1447.4" y1="1486.7" x2="1455.9" y2="1486.7" stroke="#000" stroke-width="3.4" />
<line x1="1447.4" y1="1472.1" x2="1455.9" y2="1472.1" stroke="#000" stroke-width="3.4" />
<line x1="1447.4" y1="1457.6" x2="1455.9" y2="1457.6" stroke="#000" stroke-width="3.4" />
<line x1="1447.4" y1="1443.1" x2="1463.9" y2="1443.1" stroke="#000" stroke-width="3.4" />
<line x1="1447.4" y1="1428.6" x2="1455.9" y2="1428.6" stroke="#000" stroke-width="3.4" />
<line x1="1447.4" y1="1414.1" x2="1455.9" y2="1414.1" stroke="#000" stroke-width="3.4" />
<line x1="1447.4" y1="1399.5" x2="1455.9" y2="1399.5" stroke="#000" stroke-width="3.4" />
<line x1="1447.4" y1="1385" x2="1455.9" y2="1385" stroke="#000" stroke-width="3.4" />
<line x1="1447.4" y1="1370.5" x2="1463.9" y2="1370.5" stroke="#000" stroke-width="3.4" />
<line x1="1447.4" y1="1356" x2="1455.9" y2="1356" stroke="#000" stroke-width="3.4" />
<line x1="1447.4" y1="1341.4" x2="1455.9" y2="1341.4" stroke="#000" stroke-width="3.4" />
<line x1="1447.4" y1="1326.9" x2="1455.9" y2="1326.9" stroke="#000" stroke-width="3.4" />
<line x1="1447.4" y1="1312.4" x2="1455.9" y2="1312.4" stroke="#000" stroke-width="3.4" />
<line x1="1447.4" y1="1297.9" x2="1463.9" y2="1297.9" stroke="#000" stroke-width="3.4" />
<line x1="1447.4" y1="1283.3" x2="1455.9" y2="1283.3" stroke="#000" stroke-width="3.4" />
<line x1="1447.4" y1="1268.8" x2="1455.9" y2="1268.8" stroke="#000" stroke-width="3.4" />
<line x1="1447.4" y1="1254.3" x2="1455.9" y2="1254.3" stroke="#000" stroke-width="3.4" />
<line x1="1447.4" y1="1239.8" x2="1455.9" y2="1239.8" stroke="#000" stroke-width="3.4" />
<line x1="1447.4" y1="1225.2" x2="1463.9" y2="1225.2" stroke="#000" stroke-width="3.4" />
<line x1="1447.4" y1="1210.7" x2="1455.9" y2="1210.7" stroke="#000" stroke-width="3.4" />
<line x1="1447.4" y1="1196.2" x2="1455.9" y2="1196.2" stroke="#000" stroke-width="3.4" />
<text x="1446.6" y="2034.6" font-size="31" text-anchor="middle" font-family="Liberation Serif, serif">10<tspan font-size="20" dy="-13.7">-2</tspan></text>
<text x="1598.5" y="2034.6" font-size="31" text-anchor="middle" font-family="Liberation Serif, serif">10<tspan font-size="20" dy="-13.7">-1</tspan></text>
<text x="1750.4" y="2034.6" font-size="31" text-anchor="middle" font-family="Liberation Serif, serif">10<tspan font-size="20" dy="-13.7">0</tspan></text>
<text x="1902.3" y="2034.6" font-size="31" text-anchor="middle" font-family="Liberation Serif, serif">10<tspan font-size="20" dy="-13.7">1</tspan></text>
<text x="2054.2" y="2034.6" font-size="31" text-anchor="middle" font-family="Liberation Serif, serif">10<tspan font-size="20" dy="-13.7">2</tspan></text>
<text x="2206.1" y="2034.6" font-size="31" text-anchor="middle" font-family="Liberation Serif, serif">10<tspan font-size="20" dy="-13.7">3</tspan></text>
<text x="2358" y="2034.6" font-size="31" text-anchor="middle" font-family="Liberation Serif, serif">10<tspan font-size="20" dy="-13.7">4</tspan></text>
<text x="2509.9" y="2034.6" font-size="31" text-anchor="middle" font-family="Liberation Serif, serif">10<tspan font-size="20" dy="-13.7">5</tspan></text>
<text x="1428.3" y="1959.7" font-size="30" text-anchor="end" font-weight="normal" font-family="Liberation Serif, serif" >-20</text>
<text x="1428.3" y="1887.1" font-size="30" text-anchor="end" font-weight="normal" font-family="Liberation Serif, serif" >-10</text>
<text x="1428.3" y="1814.5" font-size="30" text-anchor="end" font-weight="normal" font-family="Liberation Serif, serif" >0</text>
<text x="1428.3" y="1741.9" font-size="30" text-anchor="end" font-weight="normal" font-family="Liberation Serif, serif" >10</text>
<text x="1428.3" y="1669.3" font-size="30" text-anchor="end" font-weight="normal" font-family="Liberation Serif, serif" >20</text>
<text x="1428.3" y="1596.6" font-size="30" text-anchor="end" font-weight="normal" font-family="Liberation Serif, serif" >30</text>
<text x="1428.3" y="1524" font-size="30" text-anchor="end" font-weight="normal" font-family="Liberation Serif, serif" >40</text>
<text x="1428.3" y="1451.4" font-size="30" text-anchor="end" font-weight="normal" font-family="Liberation Serif, serif" >50</text>
<text x="1428.3" y="1378.8" font-size="30" text-anchor="end" font-weight="normal" font-family="Liberation Serif, serif" >60</text>
<text x="1428.3" y="1306.2" font-size="30" text-anchor="end" font-weight="normal" font-family="Liberation Serif, serif" >70</text>
<text x="1428.3" y="1233.5" font-size="30" text-anchor="end" font-weight="normal" font-family="Liberation Serif, serif" >80</text>
<text x="1961.8" y="2072.2" font-size="38.2" text-anchor="middle" font-weight="bold" font-family="Liberation Serif, serif" >Frequency (Hz)</text>
<g transform="translate(1368.5,1758) rotate(-90)"><text x="0" y="0" font-size="39.6" font-weight="bold" font-family="Liberation Serif, serif">Phase angle (deg.)</text></g>
<rect x="1565" y="1259.8" width="20.5" height="20.5" fill="#000000"/>
<path d="M1575.4 1304.4L1588.3 1326L1562.5 1326Z" fill="#0000ff"/>
<path d="M1561.4 1366L1583 1353L1583 1379Z" fill="#ff00ff"/>
<path d="M1575.4 1401.3L1588.3 1414.3L1575.4 1427.3L1562.5 1414.3Z" fill="#000080"/>
<circle cx="1575.3" cy="1462.5" r="10.8" fill="#108010"/>
<text x="1630" y="1281.9" font-size="37.2" text-anchor="start" font-weight="normal" font-family="Liberation Serif, serif" >AZ91D</text>
<text x="1630" y="1330.1" font-size="37.2" text-anchor="start" font-weight="normal" font-family="Liberation Serif, serif" >0 d</text>
<text x="1630" y="1378.4" font-size="37.2" text-anchor="start" font-weight="normal" font-family="Liberation Serif, serif" >1 d</text>
<text x="1630" y="1426.6" font-size="37.2" text-anchor="start" font-weight="normal" font-family="Liberation Serif, serif" >2 d</text>
<text x="1630" y="1474.9" font-size="37.2" text-anchor="start" font-weight="normal" font-family="Liberation Serif, serif" >3 d</text>
<line x1="1478" y1="1508.2" x2="1550.4" y2="1508.2" stroke="#000" stroke-width="2" />
<text x="1560.5" y="1526.8" font-size="37.4" text-anchor="start" font-weight="normal" font-family="Liberation Serif, serif" >Fitted curves</text>
</g>
<g transform="translate(1285,1157) scale(1.03,1)"><text x="0" y="0" font-size="61" text-anchor="middle" font-family="Liberation Serif, serif">(<tspan font-weight="bold">a</tspan>)</text></g>
<g transform="translate(607,2148.5) scale(1.1,1)"><text x="0" y="0" font-size="61" text-anchor="middle" font-family="Liberation Serif, serif">(<tspan font-weight="bold">b</tspan>)</text></g>
<g transform="translate(1932.8,2148.5) scale(1.05,1)"><text x="0" y="0" font-size="61" text-anchor="middle" font-family="Liberation Serif, serif">(<tspan font-weight="bold">c</tspan>)</text></g>
</svg></body></html>
